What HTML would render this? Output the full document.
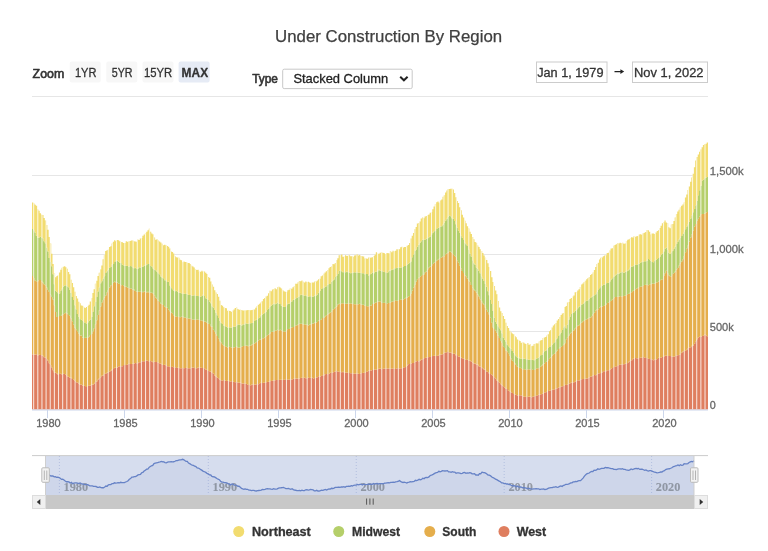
<!DOCTYPE html>
<html><head><meta charset="utf-8"><title>Under Construction By Region</title>
<style>svg text{stroke-width:0.3px;stroke-linejoin:round}html,body{margin:0;padding:0;background:#ffffff;width:768px;height:551px;overflow:hidden;position:relative;font-family:"Liberation Sans", sans-serif;}</style>
</head><body>
<svg width="768" height="551" viewBox="0 0 768 551" style="position:absolute;left:0;top:0;filter:blur(0.3px)">
<defs><clipPath id="cp"><path d="M32,202.43L33.28,202.43L33.28,203.59L34.57,203.59L34.57,204.65L35.85,204.65L35.85,205.79L37.13,205.79L37.13,209.41L38.41,209.41L38.41,210.76L39.7,210.76L39.7,213.17L40.98,213.17L40.98,214.65L42.26,214.65L42.26,215.06L43.54,215.06L43.54,217.97L44.83,217.97L44.83,220.55L46.11,220.55L46.11,225.03L47.39,225.03L47.39,229.77L48.68,229.77L48.68,236.98L49.96,236.98L49.96,243.57L51.24,243.57L51.24,253.72L52.52,253.72L52.52,263.89L53.81,263.89L53.81,273.41L55.09,273.41L55.09,277.28L56.37,277.28L56.37,275.96L57.65,275.96L57.65,274.98L58.94,274.98L58.94,272.46L60.22,272.46L60.22,269.85L61.5,269.85L61.5,267.65L62.79,267.65L62.79,266.87L64.07,266.87L64.07,266.37L65.35,266.37L65.35,267.2L66.63,267.2L66.63,268.76L67.92,268.76L67.92,271.89L69.2,271.89L69.2,274.33L70.48,274.33L70.48,279.66L71.76,279.66L71.76,283.02L73.05,283.02L73.05,287.21L74.33,287.21L74.33,291.64L75.61,291.64L75.61,295.95L76.9,295.95L76.9,298.52L78.18,298.52L78.18,301.7L79.46,301.7L79.46,303.21L80.74,303.21L80.74,305.41L82.03,305.41L82.03,305.7L83.31,305.7L83.31,307.28L84.59,307.28L84.59,307.88L85.87,307.88L85.87,307.04L87.16,307.04L87.16,306.09L88.44,306.09L88.44,304.63L89.72,304.63L89.72,301.57L91.01,301.57L91.01,297.88L92.29,297.88L92.29,293.06L93.57,293.06L93.57,289.15L94.85,289.15L94.85,283.78L96.14,283.78L96.14,280.84L97.42,280.84L97.42,276.03L98.7,276.03L98.7,272.64L99.98,272.64L99.98,269.42L101.27,269.42L101.27,265.53L102.55,265.53L102.55,259.27L103.83,259.27L103.83,255.27L105.12,255.27L105.12,251.08L106.4,251.08L106.4,250.29L107.68,250.29L107.68,249.86L108.96,249.86L108.96,246.96L110.25,246.96L110.25,246.31L111.53,246.31L111.53,243.52L112.81,243.52L112.81,241.79L114.09,241.79L114.09,240.29L115.38,240.29L115.38,241.17L116.66,241.17L116.66,239.93L117.94,239.93L117.94,240.25L119.23,240.25L119.23,241.26L120.51,241.26L120.51,242.12L121.79,242.12L121.79,242.3L123.07,242.3L123.07,243L124.36,243L124.36,243.09L125.64,243.09L125.64,241.27L126.92,241.27L126.92,241.65L128.2,241.65L128.2,241.53L129.49,241.53L129.49,240.88L130.77,240.88L130.77,240.59L132.05,240.59L132.05,240.4L133.34,240.4L133.34,241.33L134.62,241.33L134.62,241.6L135.9,241.6L135.9,241.72L137.18,241.72L137.18,239.55L138.47,239.55L138.47,239.88L139.75,239.88L139.75,238.48L141.03,238.48L141.03,237.88L142.31,237.88L142.31,235.84L143.6,235.84L143.6,234.52L144.88,234.52L144.88,233.2L146.16,233.2L146.16,231.73L147.45,231.73L147.45,230.15L148.73,230.15L148.73,228.84L150.01,228.84L150.01,231.65L151.29,231.65L151.29,233.41L152.58,233.41L152.58,234.56L153.86,234.56L153.86,237.49L155.14,237.49L155.14,239.65L156.43,239.65L156.43,239.31L157.71,239.31L157.71,240.46L158.99,240.46L158.99,241.62L160.27,241.62L160.27,242.39L161.56,242.39L161.56,243.86L162.84,243.86L162.84,245.17L164.12,245.17L164.12,244.67L165.4,244.67L165.4,245.32L166.69,245.32L166.69,246.03L167.97,246.03L167.97,246.83L169.25,246.83L169.25,248.44L170.54,248.44L170.54,251.49L171.82,251.49L171.82,252.11L173.1,252.11L173.1,253.49L174.38,253.49L174.38,256.3L175.67,256.3L175.67,257.35L176.95,257.35L176.95,257.51L178.23,257.51L178.23,257.73L179.51,257.73L179.51,259.74L180.8,259.74L180.8,260.3L182.08,260.3L182.08,262.47L183.36,262.47L183.36,261.45L184.65,261.45L184.65,262.03L185.93,262.03L185.93,262.02L187.21,262.02L187.21,263.08L188.49,263.08L188.49,262.98L189.78,262.98L189.78,264.11L191.06,264.11L191.06,265.7L192.34,265.7L192.34,266.41L193.62,266.41L193.62,267.62L194.91,267.62L194.91,269.22L196.19,269.22L196.19,270.03L197.47,270.03L197.47,269.7L198.76,269.7L198.76,271.77L200.04,271.77L200.04,271.75L201.32,271.75L201.32,270.68L202.6,270.68L202.6,271.72L203.89,271.72L203.89,271.5L205.17,271.5L205.17,272.86L206.45,272.86L206.45,274.09L207.73,274.09L207.73,276.89L209.02,276.89L209.02,277.68L210.3,277.68L210.3,281.53L211.58,281.53L211.58,284.57L212.87,284.57L212.87,286.85L214.15,286.85L214.15,290.29L215.43,290.29L215.43,292.41L216.71,292.41L216.71,294.04L218,294.04L218,296.86L219.28,296.86L219.28,300.77L220.56,300.77L220.56,304.93L221.84,304.93L221.84,305.71L223.13,305.71L223.13,307.35L224.41,307.35L224.41,308.08L225.69,308.08L225.69,308.2L226.98,308.2L226.98,310.66L228.26,310.66L228.26,310.83L229.54,310.83L229.54,310.98L230.82,310.98L230.82,311.65L232.11,311.65L232.11,310.63L233.39,310.63L233.39,309.49L234.67,309.49L234.67,308.09L235.95,308.09L235.95,307.52L237.24,307.52L237.24,308.94L238.52,308.94L238.52,309.65L239.8,309.65L239.8,309.69L241.09,309.69L241.09,309.92L242.37,309.92L242.37,310.44L243.65,310.44L243.65,310.39L244.93,310.39L244.93,310.45L246.22,310.45L246.22,310.14L247.5,310.14L247.5,309.98L248.78,309.98L248.78,310.11L250.06,310.11L250.06,310.24L251.35,310.24L251.35,310.01L252.63,310.01L252.63,309.68L253.91,309.68L253.91,309.49L255.2,309.49L255.2,307.67L256.48,307.67L256.48,306.23L257.76,306.23L257.76,304.79L259.04,304.79L259.04,303.76L260.33,303.76L260.33,302.38L261.61,302.38L261.61,301.34L262.89,301.34L262.89,299.12L264.17,299.12L264.17,298.08L265.46,298.08L265.46,296.39L266.74,296.39L266.74,295.74L268.02,295.74L268.02,293.28L269.31,293.28L269.31,290.63L270.59,290.63L270.59,291.22L271.87,291.22L271.87,289.61L273.15,289.61L273.15,288.9L274.44,288.9L274.44,288.17L275.72,288.17L275.72,289.15L277,289.15L277,287.29L278.28,287.29L278.28,286.82L279.57,286.82L279.57,287.43L280.85,287.43L280.85,288.53L282.13,288.53L282.13,289.92L283.42,289.92L283.42,291.34L284.7,291.34L284.7,291.86L285.98,291.86L285.98,292.19L287.26,292.19L287.26,290.28L288.55,290.28L288.55,289.66L289.83,289.66L289.83,288.09L291.11,288.09L291.11,288.67L292.39,288.67L292.39,287.33L293.68,287.33L293.68,286.37L294.96,286.37L294.96,283.85L296.24,283.85L296.24,283.77L297.53,283.77L297.53,282.37L298.81,282.37L298.81,280.89L300.09,280.89L300.09,281.32L301.37,281.32L301.37,280.57L302.66,280.57L302.66,281.63L303.94,281.63L303.94,282.49L305.22,282.49L305.22,281.6L306.5,281.6L306.5,281.98L307.79,281.98L307.79,281.7L309.07,281.7L309.07,282.58L310.35,282.58L310.35,283.06L311.64,283.06L311.64,282.6L312.92,282.6L312.92,282.59L314.2,282.59L314.2,281.48L315.48,281.48L315.48,281.47L316.77,281.47L316.77,280.49L318.05,280.49L318.05,279.22L319.33,279.22L319.33,278.65L320.61,278.65L320.61,276.3L321.9,276.3L321.9,275.41L323.18,275.41L323.18,273.79L324.46,273.79L324.46,272.44L325.75,272.44L325.75,271.29L327.03,271.29L327.03,269.89L328.31,269.89L328.31,268.15L329.59,268.15L329.59,266.97L330.88,266.97L330.88,266.62L332.16,266.62L332.16,264.01L333.44,264.01L333.44,264.17L334.72,264.17L334.72,263.04L336.01,263.04L336.01,260.2L337.29,260.2L337.29,258.26L338.57,258.26L338.57,255.15L339.86,255.15L339.86,255.12L341.14,255.12L341.14,254.59L342.42,254.59L342.42,256.79L343.7,256.79L343.7,256.73L344.99,256.73L344.99,255.28L346.27,255.28L346.27,256.02L347.55,256.02L347.55,255.78L348.83,255.78L348.83,255.33L350.12,255.33L350.12,256.37L351.4,256.37L351.4,256.33L352.68,256.33L352.68,256.73L353.97,256.73L353.97,255.39L355.25,255.39L355.25,255.36L356.53,255.36L356.53,254.21L357.81,254.21L357.81,255.48L359.1,255.48L359.1,254.93L360.38,254.93L360.38,256.1L361.66,256.1L361.66,256.3L362.94,256.3L362.94,256.47L364.23,256.47L364.23,258.41L365.51,258.41L365.51,258.42L366.79,258.42L366.79,258.77L368.08,258.77L368.08,257.44L369.36,257.44L369.36,257.83L370.64,257.83L370.64,257.43L371.92,257.43L371.92,257.23L373.21,257.23L373.21,256.11L374.49,256.11L374.49,254.71L375.77,254.71L375.77,252.29L377.06,252.29L377.06,253.69L378.34,253.69L378.34,253.67L379.62,253.67L379.62,252.75L380.9,252.75L380.9,252.61L382.19,252.61L382.19,252.71L383.47,252.71L383.47,253.12L384.75,253.12L384.75,253.98L386.03,253.98L386.03,253.26L387.32,253.26L387.32,253.09L388.6,253.09L388.6,253.39L389.88,253.39L389.88,251.08L391.17,251.08L391.17,252.17L392.45,252.17L392.45,250.63L393.73,250.63L393.73,251.5L395.01,251.5L395.01,250.78L396.3,250.78L396.3,249.15L397.58,249.15L397.58,249.49L398.86,249.49L398.86,249.25L400.14,249.25L400.14,247.29L401.43,247.29L401.43,246.8L402.71,246.8L402.71,247.5L403.99,247.5L403.99,246.89L405.28,246.89L405.28,246.98L406.56,246.98L406.56,245.67L407.84,245.67L407.84,245.01L409.12,245.01L409.12,242.95L410.41,242.95L410.41,238.62L411.69,238.62L411.69,235.68L412.97,235.68L412.97,233.02L414.25,233.02L414.25,229.15L415.54,229.15L415.54,227L416.82,227L416.82,223.54L418.1,223.54L418.1,223.03L419.39,223.03L419.39,221.39L420.67,221.39L420.67,218.58L421.95,218.58L421.95,217.48L423.23,217.48L423.23,218.16L424.52,218.16L424.52,216.53L425.8,216.53L425.8,216.08L427.08,216.08L427.08,215.08L428.36,215.08L428.36,214.38L429.65,214.38L429.65,212.64L430.93,212.64L430.93,211.99L432.21,211.99L432.21,209.14L433.5,209.14L433.5,206.41L434.78,206.41L434.78,204.27L436.06,204.27L436.06,202.29L437.34,202.29L437.34,201.54L438.63,201.54L438.63,202.71L439.91,202.71L439.91,200.47L441.19,200.47L441.19,199.48L442.47,199.48L442.47,196.66L443.76,196.66L443.76,195.34L445.04,195.34L445.04,192.57L446.32,192.57L446.32,190.44L447.61,190.44L447.61,189.07L448.89,189.07L448.89,189.11L450.17,189.11L450.17,188.7L451.45,188.7L451.45,188.83L452.74,188.83L452.74,189.58L454.02,189.58L454.02,193.1L455.3,193.1L455.3,197.17L456.58,197.17L456.58,201.09L457.87,201.09L457.87,203.08L459.15,203.08L459.15,207.19L460.43,207.19L460.43,210.27L461.72,210.27L461.72,214.81L463,214.81L463,217.53L464.28,217.53L464.28,220.68L465.56,220.68L465.56,223.19L466.85,223.19L466.85,226.34L468.13,226.34L468.13,228.55L469.41,228.55L469.41,231.74L470.69,231.74L470.69,234.11L471.98,234.11L471.98,236.89L473.26,236.89L473.26,239.32L474.54,239.32L474.54,241.98L475.83,241.98L475.83,242.64L477.11,242.64L477.11,245.53L478.39,245.53L478.39,247L479.67,247L479.67,249.23L480.96,249.23L480.96,251.05L482.24,251.05L482.24,253.01L483.52,253.01L483.52,255.57L484.8,255.57L484.8,257.7L486.09,257.7L486.09,260.1L487.37,260.1L487.37,263.21L488.65,263.21L488.65,267.09L489.94,267.09L489.94,271.06L491.22,271.06L491.22,277.13L492.5,277.13L492.5,281.93L493.78,281.93L493.78,286.07L495.07,286.07L495.07,290.56L496.35,290.56L496.35,294.24L497.63,294.24L497.63,301.05L498.91,301.05L498.91,307.38L500.2,307.38L500.2,311.23L501.48,311.23L501.48,313.07L502.76,313.07L502.76,315.88L504.05,315.88L504.05,318.97L505.33,318.97L505.33,322.67L506.61,322.67L506.61,326.12L507.89,326.12L507.89,328.12L509.18,328.12L509.18,330.74L510.46,330.74L510.46,332.18L511.74,332.18L511.74,333.46L513.02,333.46L513.02,334.26L514.31,334.26L514.31,336.04L515.59,336.04L515.59,337.3L516.87,337.3L516.87,339.53L518.16,339.53L518.16,340.35L519.44,340.35L519.44,340.93L520.72,340.93L520.72,342.78L522,342.78L522,342.1L523.29,342.1L523.29,342.74L524.57,342.74L524.57,343.85L525.85,343.85L525.85,343.98L527.13,343.98L527.13,342.98L528.42,342.98L528.42,344.74L529.7,344.74L529.7,344.29L530.98,344.29L530.98,346.13L532.27,346.13L532.27,345.79L533.55,345.79L533.55,343.91L534.83,343.91L534.83,343.73L536.11,343.73L536.11,343.21L537.4,343.21L537.4,343.47L538.68,343.47L538.68,341.45L539.96,341.45L539.96,340.61L541.24,340.61L541.24,340.08L542.53,340.08L542.53,338.02L543.81,338.02L543.81,337.45L545.09,337.45L545.09,337.07L546.38,337.07L546.38,335.39L547.66,335.39L547.66,334.3L548.94,334.3L548.94,331.22L550.22,331.22L550.22,329.99L551.51,329.99L551.51,327.53L552.79,327.53L552.79,325.53L554.07,325.53L554.07,324.24L555.35,324.24L555.35,322.94L556.64,322.94L556.64,320.38L557.92,320.38L557.92,318.97L559.2,318.97L559.2,317.11L560.49,317.11L560.49,314.91L561.77,314.91L561.77,313.62L563.05,313.62L563.05,312.91L564.33,312.91L564.33,307.07L565.62,307.07L565.62,305.88L566.9,305.88L566.9,302.44L568.18,302.44L568.18,302.01L569.46,302.01L569.46,298.88L570.75,298.88L570.75,297.96L572.03,297.96L572.03,296.87L573.31,296.87L573.31,295.5L574.6,295.5L574.6,292.3L575.88,292.3L575.88,292.16L577.16,292.16L577.16,290.58L578.44,290.58L578.44,289.25L579.73,289.25L579.73,287.12L581.01,287.12L581.01,284.38L582.29,284.38L582.29,283.62L583.57,283.62L583.57,282.04L584.86,282.04L584.86,280.73L586.14,280.73L586.14,279.33L587.42,279.33L587.42,278.08L588.71,278.08L588.71,277.03L589.99,277.03L589.99,275.1L591.27,275.1L591.27,273.88L592.55,273.88L592.55,272.5L593.84,272.5L593.84,269.94L595.12,269.94L595.12,267.05L596.4,267.05L596.4,264.09L597.69,264.09L597.69,262.8L598.97,262.8L598.97,259.56L600.25,259.56L600.25,257.86L601.53,257.86L601.53,257.39L602.82,257.39L602.82,256.25L604.1,256.25L604.1,255.44L605.38,255.44L605.38,255.24L606.66,255.24L606.66,253L607.95,253L607.95,252.72L609.23,252.72L609.23,250.46L610.51,250.46L610.51,248.52L611.8,248.52L611.8,248.29L613.08,248.29L613.08,245.82L614.36,245.82L614.36,245.05L615.64,245.05L615.64,244.28L616.93,244.28L616.93,243.16L618.21,243.16L618.21,243.59L619.49,243.59L619.49,242.72L620.77,242.72L620.77,243.18L622.06,243.18L622.06,242.86L623.34,242.86L623.34,243.69L624.62,243.69L624.62,243.62L625.91,243.62L625.91,240.95L627.19,240.95L627.19,239.83L628.47,239.83L628.47,239.37L629.75,239.37L629.75,238.44L631.04,238.44L631.04,237.22L632.32,237.22L632.32,237.45L633.6,237.45L633.6,235.92L634.88,235.92L634.88,236.64L636.17,236.64L636.17,236.29L637.45,236.29L637.45,236.03L638.73,236.03L638.73,234.46L640.02,234.46L640.02,234.26L641.3,234.26L641.3,234.72L642.58,234.72L642.58,233.35L643.86,233.35L643.86,232.65L645.15,232.65L645.15,232.01L646.43,232.01L646.43,230.06L647.71,230.06L647.71,230.26L648.99,230.26L648.99,231.81L650.28,231.81L650.28,234.6L651.56,234.6L651.56,233.39L652.84,233.39L652.84,233.4L654.13,233.4L654.13,234.1L655.41,234.1L655.41,232.49L656.69,232.49L656.69,231.1L657.97,231.1L657.97,230.14L659.26,230.14L659.26,228.12L660.54,228.12L660.54,225.67L661.82,225.67L661.82,223.2L663.1,223.2L663.1,222.17L664.39,222.17L664.39,220.41L665.67,220.41L665.67,222.5L666.95,222.5L666.95,223.23L668.24,223.23L668.24,227.34L669.52,227.34L669.52,228.33L670.8,228.33L670.8,224.4L672.08,224.4L672.08,223.88L673.37,223.88L673.37,220.92L674.65,220.92L674.65,217.49L675.93,217.49L675.93,213.97L677.21,213.97L677.21,211.54L678.5,211.54L678.5,209.66L679.78,209.66L679.78,207.48L681.06,207.48L681.06,205.84L682.35,205.84L682.35,204.46L683.63,204.46L683.63,202.41L684.91,202.41L684.91,197.62L686.19,197.62L686.19,194.58L687.48,194.58L687.48,190L688.76,190L688.76,186.58L690.04,186.58L690.04,181.64L691.32,181.64L691.32,177.59L692.61,177.59L692.61,173.69L693.89,173.69L693.89,167.29L695.17,167.29L695.17,160.4L696.46,160.4L696.46,157.04L697.74,157.04L697.74,154.62L699.02,154.62L699.02,151.78L700.3,151.78L700.3,149.58L701.59,149.58L701.59,147.18L702.87,147.18L702.87,144.92L704.15,144.92L704.15,144.31L705.43,144.31L705.43,143.77L706.72,143.77L706.72,142.58L708,142.58L708,409.5 L32,409.5 Z"/></clipPath></defs>
<text x="388.6" y="42" text-anchor="middle" font-family='"Liberation Sans", sans-serif' font-size="16.5" fill="#404040" stroke="#404040" style="stroke-width:0.25px" textLength="227" lengthAdjust="spacingAndGlyphs">Under Construction By Region</text>
<text x="32.6" y="77.5" font-family='"Liberation Sans", sans-serif' font-size="12" fill="#333333" stroke="#333333" style="stroke-width:0.6px" textLength="31.6" lengthAdjust="spacingAndGlyphs">Zoom</text>
<rect x="69.7" y="61.6" width="31" height="21" rx="2" fill="#f7f7f7"/>
<text x="74.9" y="77.3" font-family='"Liberation Sans", sans-serif' font-size="12" fill="#333333" stroke="#333333"  textLength="21.5" lengthAdjust="spacingAndGlyphs">1YR</text>
<rect x="106.25" y="61.6" width="31" height="21" rx="2" fill="#f7f7f7"/>
<text x="111.7" y="77.3" font-family='"Liberation Sans", sans-serif' font-size="12" fill="#333333" stroke="#333333"  textLength="20.8" lengthAdjust="spacingAndGlyphs">5YR</text>
<rect x="142.5" y="61.6" width="31" height="21" rx="2" fill="#f7f7f7"/>
<text x="144" y="77.3" font-family='"Liberation Sans", sans-serif' font-size="12" fill="#333333" stroke="#333333"  textLength="28.2" lengthAdjust="spacingAndGlyphs">15YR</text>
<rect x="178.6" y="61.6" width="31" height="21" rx="2" fill="#e6ebf5"/>
<text x="181.6" y="77.3" font-family='"Liberation Sans", sans-serif' font-size="12" fill="#333333" stroke="#333333" font-weight="bold" textLength="26.5" lengthAdjust="spacingAndGlyphs">MAX</text>
<text x="252.2" y="83.4" font-family='"Liberation Sans", sans-serif' font-size="12" fill="#333333" stroke="#333333" style="stroke-width:0.6px" textLength="25.8" lengthAdjust="spacingAndGlyphs">Type</text>
<rect x="282.7" y="69.2" width="129.5" height="19.4" rx="1.5" fill="#ffffff" stroke="#c8c8c8" stroke-width="1"/>
<text x="293.4" y="83.4" font-family='"Liberation Sans", sans-serif' font-size="13" fill="#222222" stroke="#222222" textLength="94.7" lengthAdjust="spacingAndGlyphs">Stacked Column</text>
<path d="M400.2,76.8 L403.9,80.3 L407.6,76.8" fill="none" stroke="#222222" stroke-width="2"/>
<rect x="536.5" y="62" width="70.5" height="20.5" fill="#ffffff" stroke="#cccccc" stroke-width="1"/>
<text x="537.2" y="76.8" font-family='"Liberation Sans", sans-serif' font-size="12.5" fill="#333333" stroke="#333333" textLength="66.3" lengthAdjust="spacingAndGlyphs">Jan 1, 1979</text>
<path d="M614.5,70.9 H621 V72.3 H614.5 Z M620.4,69.2 L624.2,71.6 L620.4,74 Z" fill="#222222"/>
<rect x="632.5" y="62" width="75" height="20.5" fill="#ffffff" stroke="#cccccc" stroke-width="1"/>
<text x="634" y="76.8" font-family='"Liberation Sans", sans-serif' font-size="12.5" fill="#333333" stroke="#333333" textLength="69.5" lengthAdjust="spacingAndGlyphs">Nov 1, 2022</text>
<path d="M32,96.5 H708" stroke="#e6e6e6" stroke-width="1"/>
<path d="M32,175.5 H708" stroke="#e6e6e6" stroke-width="1"/>
<path d="M32,254.5 H708" stroke="#e6e6e6" stroke-width="1"/>
<path d="M32,331.5 H708" stroke="#e6e6e6" stroke-width="1"/>
<path d="M32,354.26L33.28,354.26L33.28,354.47L34.57,354.47L34.57,354.74L35.85,354.74L35.85,354.36L37.13,354.36L37.13,355.41L38.41,355.41L38.41,354.74L39.7,354.74L39.7,354.93L40.98,354.93L40.98,355.33L42.26,355.33L42.26,355.8L43.54,355.8L43.54,357.26L44.83,357.26L44.83,357.54L46.11,357.54L46.11,358.95L47.39,358.95L47.39,360.78L48.68,360.78L48.68,363.29L49.96,363.29L49.96,365.02L51.24,365.02L51.24,367.6L52.52,367.6L52.52,370.2L53.81,370.2L53.81,372.51L55.09,372.51L55.09,372.76L56.37,372.76L56.37,373.54L57.65,373.54L57.65,374.72L58.94,374.72L58.94,373.96L60.22,373.96L60.22,373.85L61.5,373.85L61.5,374.52L62.79,374.52L62.79,373.84L64.07,373.84L64.07,374.12L65.35,374.12L65.35,374.99L66.63,374.99L66.63,376.18L67.92,376.18L67.92,376.86L69.2,376.86L69.2,377.86L70.48,377.86L70.48,377.87L71.76,377.87L71.76,378.94L73.05,378.94L73.05,379.72L74.33,379.72L74.33,380.96L75.61,380.96L75.61,382.17L76.9,382.17L76.9,382.55L78.18,382.55L78.18,383.54L79.46,383.54L79.46,384.77L80.74,384.77L80.74,384.44L82.03,384.44L82.03,385.52L83.31,385.52L83.31,385.81L84.59,385.81L84.59,385.92L85.87,385.92L85.87,386.9L87.16,386.9L87.16,386.09L88.44,386.09L88.44,385.72L89.72,385.72L89.72,385.5L91.01,385.5L91.01,384.53L92.29,384.53L92.29,384.75L93.57,384.75L93.57,383.73L94.85,383.73L94.85,382.03L96.14,382.03L96.14,381.42L97.42,381.42L97.42,379.7L98.7,379.7L98.7,378.36L99.98,378.36L99.98,377.32L101.27,377.32L101.27,375.79L102.55,375.79L102.55,375.47L103.83,375.47L103.83,373.95L105.12,373.95L105.12,373.76L106.4,373.76L106.4,372.73L107.68,372.73L107.68,372.13L108.96,372.13L108.96,371.72L110.25,371.72L110.25,370.84L111.53,370.84L111.53,369.51L112.81,369.51L112.81,368.88L114.09,368.88L114.09,367.8L115.38,367.8L115.38,367.82L116.66,367.82L116.66,367.49L117.94,367.49L117.94,366.44L119.23,366.44L119.23,366.31L120.51,366.31L120.51,366.27L121.79,366.27L121.79,366.18L123.07,366.18L123.07,365.02L124.36,365.02L124.36,364.88L125.64,364.88L125.64,365.06L126.92,365.06L126.92,364.46L128.2,364.46L128.2,363.8L129.49,363.8L129.49,363.96L130.77,363.96L130.77,364.12L132.05,364.12L132.05,363.65L133.34,363.65L133.34,363.75L134.62,363.75L134.62,363.12L135.9,363.12L135.9,363.14L137.18,363.14L137.18,363.35L138.47,363.35L138.47,362.26L139.75,362.26L139.75,362.31L141.03,362.31L141.03,361.62L142.31,361.62L142.31,361.15L143.6,361.15L143.6,361.15L144.88,361.15L144.88,360.81L146.16,360.81L146.16,360.5L147.45,360.5L147.45,361.02L148.73,361.02L148.73,361.51L150.01,361.51L150.01,360.91L151.29,360.91L151.29,361.49L152.58,361.49L152.58,362.16L153.86,362.16L153.86,361.66L155.14,361.66L155.14,362.05L156.43,362.05L156.43,362.05L157.71,362.05L157.71,362.82L158.99,362.82L158.99,363.25L160.27,363.25L160.27,363.8L161.56,363.8L161.56,364.45L162.84,364.45L162.84,364.94L164.12,364.94L164.12,364.69L165.4,364.69L165.4,365.14L166.69,365.14L166.69,366.17L167.97,366.17L167.97,366.18L169.25,366.18L169.25,366.9L170.54,366.9L170.54,366.9L171.82,366.9L171.82,366.75L173.1,366.75L173.1,367.27L174.38,367.27L174.38,367.06L175.67,367.06L175.67,367.97L176.95,367.97L176.95,367.66L178.23,367.66L178.23,367.87L179.51,367.87L179.51,368.2L180.8,368.2L180.8,368.24L182.08,368.24L182.08,368.01L183.36,368.01L183.36,368.2L184.65,368.2L184.65,368.1L185.93,368.1L185.93,367.76L187.21,367.76L187.21,368.31L188.49,368.31L188.49,368.19L189.78,368.19L189.78,368.21L191.06,368.21L191.06,367.44L192.34,367.44L192.34,367.61L193.62,367.61L193.62,367.99L194.91,367.99L194.91,368.28L196.19,368.28L196.19,368.21L197.47,368.21L197.47,367.43L198.76,367.43L198.76,367.5L200.04,367.5L200.04,367.62L201.32,367.62L201.32,368.02L202.6,368.02L202.6,368.01L203.89,368.01L203.89,368.28L205.17,368.28L205.17,369.43L206.45,369.43L206.45,370.05L207.73,370.05L207.73,370.89L209.02,370.89L209.02,371.23L210.3,371.23L210.3,371.8L211.58,371.8L211.58,373.1L212.87,373.1L212.87,373.48L214.15,373.48L214.15,375.54L215.43,375.54L215.43,376.45L216.71,376.45L216.71,377.49L218,377.49L218,378.25L219.28,378.25L219.28,379.65L220.56,379.65L220.56,380.22L221.84,380.22L221.84,380.82L223.13,380.82L223.13,380.12L224.41,380.12L224.41,380.55L225.69,380.55L225.69,380.96L226.98,380.96L226.98,380.8L228.26,380.8L228.26,380.78L229.54,380.78L229.54,381.52L230.82,381.52L230.82,381.14L232.11,381.14L232.11,381.59L233.39,381.59L233.39,382.12L234.67,382.12L234.67,382.35L235.95,382.35L235.95,382.12L237.24,382.12L237.24,382.51L238.52,382.51L238.52,382.78L239.8,382.78L239.8,382.42L241.09,382.42L241.09,383.17L242.37,383.17L242.37,383.67L243.65,383.67L243.65,383.26L244.93,383.26L244.93,383.74L246.22,383.74L246.22,384.11L247.5,384.11L247.5,384.95L248.78,384.95L248.78,385.12L250.06,385.12L250.06,385.37L251.35,385.37L251.35,384.62L252.63,384.62L252.63,384.26L253.91,384.26L253.91,384.72L255.2,384.72L255.2,384.58L256.48,384.58L256.48,384.06L257.76,384.06L257.76,384.14L259.04,384.14L259.04,383.16L260.33,383.16L260.33,382.84L261.61,382.84L261.61,383.09L262.89,383.09L262.89,382.64L264.17,382.64L264.17,382.76L265.46,382.76L265.46,382.2L266.74,382.2L266.74,381.98L268.02,381.98L268.02,381.67L269.31,381.67L269.31,381.18L270.59,381.18L270.59,380.95L271.87,380.95L271.87,380.77L273.15,380.77L273.15,380.56L274.44,380.56L274.44,380.26L275.72,380.26L275.72,380.08L277,380.08L277,379.92L278.28,379.92L278.28,379.99L279.57,379.99L279.57,379.81L280.85,379.81L280.85,379.81L282.13,379.81L282.13,379.7L283.42,379.7L283.42,379.92L284.7,379.92L284.7,379.36L285.98,379.36L285.98,379.77L287.26,379.77L287.26,379.84L288.55,379.84L288.55,379.49L289.83,379.49L289.83,379.21L291.11,379.21L291.11,379.83L292.39,379.83L292.39,379L293.68,379L293.68,378.52L294.96,378.52L294.96,378.38L296.24,378.38L296.24,378.56L297.53,378.56L297.53,378.71L298.81,378.71L298.81,378.55L300.09,378.55L300.09,378.04L301.37,378.04L301.37,377.81L302.66,377.81L302.66,377.97L303.94,377.97L303.94,377.61L305.22,377.61L305.22,378.33L306.5,378.33L306.5,378.21L307.79,378.21L307.79,377.51L309.07,377.51L309.07,378.12L310.35,378.12L310.35,377.8L311.64,377.8L311.64,377.76L312.92,377.76L312.92,378.45L314.2,378.45L314.2,378.07L315.48,378.07L315.48,377.54L316.77,377.54L316.77,377.31L318.05,377.31L318.05,376.25L319.33,376.25L319.33,376.63L320.61,376.63L320.61,376.09L321.9,376.09L321.9,375.35L323.18,375.35L323.18,375.54L324.46,375.54L324.46,374.19L325.75,374.19L325.75,373.89L327.03,373.89L327.03,374.22L328.31,374.22L328.31,373.92L329.59,373.92L329.59,372.77L330.88,372.77L330.88,372.96L332.16,372.96L332.16,372.49L333.44,372.49L333.44,372.05L334.72,372.05L334.72,371.45L336.01,371.45L336.01,370.91L337.29,370.91L337.29,371.51L338.57,371.51L338.57,371.95L339.86,371.95L339.86,371.6L341.14,371.6L341.14,372.32L342.42,372.32L342.42,371.7L343.7,371.7L343.7,372.51L344.99,372.51L344.99,372.41L346.27,372.41L346.27,372.41L347.55,372.41L347.55,372.96L348.83,372.96L348.83,373.1L350.12,373.1L350.12,373.28L351.4,373.28L351.4,373.15L352.68,373.15L352.68,373.52L353.97,373.52L353.97,373.67L355.25,373.67L355.25,373.48L356.53,373.48L356.53,373.42L357.81,373.42L357.81,373.79L359.1,373.79L359.1,373.9L360.38,373.9L360.38,373.35L361.66,373.35L361.66,373L362.94,373L362.94,372.77L364.23,372.77L364.23,372.9L365.51,372.9L365.51,371.93L366.79,371.93L366.79,371.59L368.08,371.59L368.08,370.67L369.36,370.67L369.36,370.31L370.64,370.31L370.64,370.48L371.92,370.48L371.92,369.95L373.21,369.95L373.21,369.51L374.49,369.51L374.49,369.52L375.77,369.52L375.77,369.78L377.06,369.78L377.06,369.2L378.34,369.2L378.34,368.77L379.62,368.77L379.62,368.45L380.9,368.45L380.9,369.15L382.19,369.15L382.19,368.95L383.47,368.95L383.47,368.47L384.75,368.47L384.75,368.43L386.03,368.43L386.03,368.62L387.32,368.62L387.32,368.48L388.6,368.48L388.6,368.53L389.88,368.53L389.88,368.69L391.17,368.69L391.17,368.85L392.45,368.85L392.45,368.34L393.73,368.34L393.73,368.49L395.01,368.49L395.01,369.05L396.3,369.05L396.3,368.31L397.58,368.31L397.58,368.34L398.86,368.34L398.86,368.42L400.14,368.42L400.14,368.18L401.43,368.18L401.43,368.13L402.71,368.13L402.71,367.65L403.99,367.65L403.99,367.3L405.28,367.3L405.28,366.89L406.56,366.89L406.56,365.8L407.84,365.8L407.84,364.34L409.12,364.34L409.12,364.1L410.41,364.1L410.41,363.93L411.69,363.93L411.69,363.02L412.97,363.02L412.97,363.02L414.25,363.02L414.25,362L415.54,362L415.54,361.59L416.82,361.59L416.82,361.01L418.1,361.01L418.1,361.4L419.39,361.4L419.39,360.87L420.67,360.87L420.67,359.38L421.95,359.38L421.95,359.19L423.23,359.19L423.23,358.29L424.52,358.29L424.52,357.94L425.8,357.94L425.8,357.62L427.08,357.62L427.08,357.6L428.36,357.6L428.36,357L429.65,357L429.65,357.02L430.93,357.02L430.93,356.36L432.21,356.36L432.21,355.99L433.5,355.99L433.5,355.74L434.78,355.74L434.78,355.7L436.06,355.7L436.06,356.06L437.34,356.06L437.34,355.69L438.63,355.69L438.63,354.74L439.91,354.74L439.91,354.82L441.19,354.82L441.19,354.6L442.47,354.6L442.47,354.12L443.76,354.12L443.76,352.84L445.04,352.84L445.04,352.83L446.32,352.83L446.32,351.9L447.61,351.9L447.61,351.9L448.89,351.9L448.89,352.73L450.17,352.73L450.17,352.61L451.45,352.61L451.45,353.31L452.74,353.31L452.74,353.64L454.02,353.64L454.02,353.81L455.3,353.81L455.3,355.2L456.58,355.2L456.58,355L457.87,355L457.87,356.42L459.15,356.42L459.15,356.75L460.43,356.75L460.43,357.42L461.72,357.42L461.72,358.27L463,358.27L463,358.7L464.28,358.7L464.28,359.04L465.56,359.04L465.56,360.02L466.85,360.02L466.85,359.81L468.13,359.81L468.13,360.76L469.41,360.76L469.41,360.62L470.69,360.62L470.69,361.43L471.98,361.43L471.98,362.42L473.26,362.42L473.26,363.39L474.54,363.39L474.54,363.5L475.83,363.5L475.83,364.61L477.11,364.61L477.11,364.51L478.39,364.51L478.39,366.17L479.67,366.17L479.67,366.72L480.96,366.72L480.96,367.29L482.24,367.29L482.24,368.3L483.52,368.3L483.52,369.58L484.8,369.58L484.8,369.78L486.09,369.78L486.09,371.49L487.37,371.49L487.37,372.08L488.65,372.08L488.65,373.41L489.94,373.41L489.94,374.06L491.22,374.06L491.22,374.86L492.5,374.86L492.5,376.01L493.78,376.01L493.78,377.34L495.07,377.34L495.07,378.71L496.35,378.71L496.35,380.46L497.63,380.46L497.63,381.36L498.91,381.36L498.91,382.87L500.2,382.87L500.2,384.36L501.48,384.36L501.48,385.27L502.76,385.27L502.76,386.26L504.05,386.26L504.05,387.43L505.33,387.43L505.33,388.74L506.61,388.74L506.61,389L507.89,389L507.89,390.85L509.18,390.85L509.18,391.25L510.46,391.25L510.46,392.37L511.74,392.37L511.74,393.04L513.02,393.04L513.02,393.97L514.31,393.97L514.31,394.31L515.59,394.31L515.59,395.11L516.87,395.11L516.87,395.4L518.16,395.4L518.16,395.28L519.44,395.28L519.44,395.31L520.72,395.31L520.72,395.56L522,395.56L522,395.89L523.29,395.89L523.29,396.65L524.57,396.65L524.57,396.63L525.85,396.63L525.85,396.96L527.13,396.96L527.13,396.95L528.42,396.95L528.42,396.47L529.7,396.47L529.7,396.79L530.98,396.79L530.98,397.16L532.27,397.16L532.27,396.65L533.55,396.65L533.55,396.34L534.83,396.34L534.83,396.12L536.11,396.12L536.11,395.74L537.4,395.74L537.4,394.88L538.68,394.88L538.68,394.42L539.96,394.42L539.96,394.54L541.24,394.54L541.24,393.95L542.53,393.95L542.53,393.46L543.81,393.46L543.81,392.7L545.09,392.7L545.09,392.32L546.38,392.32L546.38,391.64L547.66,391.64L547.66,391.06L548.94,391.06L548.94,390.69L550.22,390.69L550.22,390.26L551.51,390.26L551.51,389.69L552.79,389.69L552.79,389.66L554.07,389.66L554.07,389.16L555.35,389.16L555.35,388.57L556.64,388.57L556.64,388.27L557.92,388.27L557.92,387.49L559.2,387.49L559.2,387.14L560.49,387.14L560.49,386.73L561.77,386.73L561.77,386.13L563.05,386.13L563.05,385.91L564.33,385.91L564.33,384.82L565.62,384.82L565.62,385.06L566.9,385.06L566.9,384.53L568.18,384.53L568.18,384.12L569.46,384.12L569.46,383.23L570.75,383.23L570.75,382.57L572.03,382.57L572.03,382.6L573.31,382.6L573.31,382.18L574.6,382.18L574.6,381.65L575.88,381.65L575.88,380.51L577.16,380.51L577.16,380.24L578.44,380.24L578.44,380.39L579.73,380.39L579.73,379.63L581.01,379.63L581.01,379.27L582.29,379.27L582.29,379.06L583.57,379.06L583.57,378.98L584.86,378.98L584.86,378.72L586.14,378.72L586.14,378.61L587.42,378.61L587.42,378.32L588.71,378.32L588.71,377.27L589.99,377.27L589.99,376.84L591.27,376.84L591.27,376.37L592.55,376.37L592.55,375.56L593.84,375.56L593.84,375.06L595.12,375.06L595.12,375.16L596.4,375.16L596.4,374.13L597.69,374.13L597.69,373.58L598.97,373.58L598.97,373.26L600.25,373.26L600.25,372.94L601.53,372.94L601.53,372.43L602.82,372.43L602.82,371.28L604.1,371.28L604.1,371.13L605.38,371.13L605.38,371.22L606.66,371.22L606.66,370.37L607.95,370.37L607.95,370.13L609.23,370.13L609.23,369.81L610.51,369.81L610.51,368.87L611.8,368.87L611.8,367.93L613.08,367.93L613.08,367.1L614.36,367.1L614.36,366.99L615.64,366.99L615.64,366.3L616.93,366.3L616.93,366.09L618.21,366.09L618.21,365.05L619.49,365.05L619.49,364.74L620.77,364.74L620.77,364.51L622.06,364.51L622.06,364.2L623.34,364.2L623.34,364.27L624.62,364.27L624.62,363.85L625.91,363.85L625.91,363.44L627.19,363.44L627.19,362.88L628.47,362.88L628.47,361.58L629.75,361.58L629.75,360.73L631.04,360.73L631.04,360.2L632.32,360.2L632.32,358.64L633.6,358.64L633.6,358.8L634.88,358.8L634.88,358.08L636.17,358.08L636.17,358.17L637.45,358.17L637.45,358.62L638.73,358.62L638.73,357.91L640.02,357.91L640.02,357.72L641.3,357.72L641.3,357.63L642.58,357.63L642.58,357.1L643.86,357.1L643.86,357.47L645.15,357.47L645.15,358.06L646.43,358.06L646.43,357.9L647.71,357.9L647.71,358.81L648.99,358.81L648.99,358.9L650.28,358.9L650.28,359.17L651.56,359.17L651.56,359.23L652.84,359.23L652.84,360.29L654.13,360.29L654.13,359.36L655.41,359.36L655.41,359.48L656.69,359.48L656.69,359.01L657.97,359.01L657.97,357.84L659.26,357.84L659.26,358.01L660.54,358.01L660.54,357.51L661.82,357.51L661.82,357.09L663.1,357.09L663.1,356.68L664.39,356.68L664.39,355.84L665.67,355.84L665.67,355.8L666.95,355.8L666.95,355.99L668.24,355.99L668.24,355.89L669.52,355.89L669.52,356.04L670.8,356.04L670.8,356.21L672.08,356.21L672.08,356.78L673.37,356.78L673.37,356.79L674.65,356.79L674.65,355.89L675.93,355.89L675.93,355.47L677.21,355.47L677.21,355.35L678.5,355.35L678.5,354.92L679.78,354.92L679.78,354.2L681.06,354.2L681.06,352.63L682.35,352.63L682.35,351.57L683.63,351.57L683.63,351.09L684.91,351.09L684.91,350.71L686.19,350.71L686.19,349.7L687.48,349.7L687.48,348.12L688.76,348.12L688.76,347.57L690.04,347.57L690.04,347.18L691.32,347.18L691.32,345.72L692.61,345.72L692.61,345.43L693.89,345.43L693.89,343.64L695.17,343.64L695.17,341.32L696.46,341.32L696.46,339.35L697.74,339.35L697.74,337.47L699.02,337.47L699.02,336.81L700.3,336.81L700.3,336.9L701.59,336.9L701.59,336.12L702.87,336.12L702.87,335.66L704.15,335.66L704.15,334.57L705.43,334.57L705.43,335.18L706.72,335.18L706.72,336.31L708,336.31L708,409.5L706.72,409.5L706.72,409.5L705.43,409.5L705.43,409.5L704.15,409.5L704.15,409.5L702.87,409.5L702.87,409.5L701.59,409.5L701.59,409.5L700.3,409.5L700.3,409.5L699.02,409.5L699.02,409.5L697.74,409.5L697.74,409.5L696.46,409.5L696.46,409.5L695.17,409.5L695.17,409.5L693.89,409.5L693.89,409.5L692.61,409.5L692.61,409.5L691.32,409.5L691.32,409.5L690.04,409.5L690.04,409.5L688.76,409.5L688.76,409.5L687.48,409.5L687.48,409.5L686.19,409.5L686.19,409.5L684.91,409.5L684.91,409.5L683.63,409.5L683.63,409.5L682.35,409.5L682.35,409.5L681.06,409.5L681.06,409.5L679.78,409.5L679.78,409.5L678.5,409.5L678.5,409.5L677.21,409.5L677.21,409.5L675.93,409.5L675.93,409.5L674.65,409.5L674.65,409.5L673.37,409.5L673.37,409.5L672.08,409.5L672.08,409.5L670.8,409.5L670.8,409.5L669.52,409.5L669.52,409.5L668.24,409.5L668.24,409.5L666.95,409.5L666.95,409.5L665.67,409.5L665.67,409.5L664.39,409.5L664.39,409.5L663.1,409.5L663.1,409.5L661.82,409.5L661.82,409.5L660.54,409.5L660.54,409.5L659.26,409.5L659.26,409.5L657.97,409.5L657.97,409.5L656.69,409.5L656.69,409.5L655.41,409.5L655.41,409.5L654.13,409.5L654.13,409.5L652.84,409.5L652.84,409.5L651.56,409.5L651.56,409.5L650.28,409.5L650.28,409.5L648.99,409.5L648.99,409.5L647.71,409.5L647.71,409.5L646.43,409.5L646.43,409.5L645.15,409.5L645.15,409.5L643.86,409.5L643.86,409.5L642.58,409.5L642.58,409.5L641.3,409.5L641.3,409.5L640.02,409.5L640.02,409.5L638.73,409.5L638.73,409.5L637.45,409.5L637.45,409.5L636.17,409.5L636.17,409.5L634.88,409.5L634.88,409.5L633.6,409.5L633.6,409.5L632.32,409.5L632.32,409.5L631.04,409.5L631.04,409.5L629.75,409.5L629.75,409.5L628.47,409.5L628.47,409.5L627.19,409.5L627.19,409.5L625.91,409.5L625.91,409.5L624.62,409.5L624.62,409.5L623.34,409.5L623.34,409.5L622.06,409.5L622.06,409.5L620.77,409.5L620.77,409.5L619.49,409.5L619.49,409.5L618.21,409.5L618.21,409.5L616.93,409.5L616.93,409.5L615.64,409.5L615.64,409.5L614.36,409.5L614.36,409.5L613.08,409.5L613.08,409.5L611.8,409.5L611.8,409.5L610.51,409.5L610.51,409.5L609.23,409.5L609.23,409.5L607.95,409.5L607.95,409.5L606.66,409.5L606.66,409.5L605.38,409.5L605.38,409.5L604.1,409.5L604.1,409.5L602.82,409.5L602.82,409.5L601.53,409.5L601.53,409.5L600.25,409.5L600.25,409.5L598.97,409.5L598.97,409.5L597.69,409.5L597.69,409.5L596.4,409.5L596.4,409.5L595.12,409.5L595.12,409.5L593.84,409.5L593.84,409.5L592.55,409.5L592.55,409.5L591.27,409.5L591.27,409.5L589.99,409.5L589.99,409.5L588.71,409.5L588.71,409.5L587.42,409.5L587.42,409.5L586.14,409.5L586.14,409.5L584.86,409.5L584.86,409.5L583.57,409.5L583.57,409.5L582.29,409.5L582.29,409.5L581.01,409.5L581.01,409.5L579.73,409.5L579.73,409.5L578.44,409.5L578.44,409.5L577.16,409.5L577.16,409.5L575.88,409.5L575.88,409.5L574.6,409.5L574.6,409.5L573.31,409.5L573.31,409.5L572.03,409.5L572.03,409.5L570.75,409.5L570.75,409.5L569.46,409.5L569.46,409.5L568.18,409.5L568.18,409.5L566.9,409.5L566.9,409.5L565.62,409.5L565.62,409.5L564.33,409.5L564.33,409.5L563.05,409.5L563.05,409.5L561.77,409.5L561.77,409.5L560.49,409.5L560.49,409.5L559.2,409.5L559.2,409.5L557.92,409.5L557.92,409.5L556.64,409.5L556.64,409.5L555.35,409.5L555.35,409.5L554.07,409.5L554.07,409.5L552.79,409.5L552.79,409.5L551.51,409.5L551.51,409.5L550.22,409.5L550.22,409.5L548.94,409.5L548.94,409.5L547.66,409.5L547.66,409.5L546.38,409.5L546.38,409.5L545.09,409.5L545.09,409.5L543.81,409.5L543.81,409.5L542.53,409.5L542.53,409.5L541.24,409.5L541.24,409.5L539.96,409.5L539.96,409.5L538.68,409.5L538.68,409.5L537.4,409.5L537.4,409.5L536.11,409.5L536.11,409.5L534.83,409.5L534.83,409.5L533.55,409.5L533.55,409.5L532.27,409.5L532.27,409.5L530.98,409.5L530.98,409.5L529.7,409.5L529.7,409.5L528.42,409.5L528.42,409.5L527.13,409.5L527.13,409.5L525.85,409.5L525.85,409.5L524.57,409.5L524.57,409.5L523.29,409.5L523.29,409.5L522,409.5L522,409.5L520.72,409.5L520.72,409.5L519.44,409.5L519.44,409.5L518.16,409.5L518.16,409.5L516.87,409.5L516.87,409.5L515.59,409.5L515.59,409.5L514.31,409.5L514.31,409.5L513.02,409.5L513.02,409.5L511.74,409.5L511.74,409.5L510.46,409.5L510.46,409.5L509.18,409.5L509.18,409.5L507.89,409.5L507.89,409.5L506.61,409.5L506.61,409.5L505.33,409.5L505.33,409.5L504.05,409.5L504.05,409.5L502.76,409.5L502.76,409.5L501.48,409.5L501.48,409.5L500.2,409.5L500.2,409.5L498.91,409.5L498.91,409.5L497.63,409.5L497.63,409.5L496.35,409.5L496.35,409.5L495.07,409.5L495.07,409.5L493.78,409.5L493.78,409.5L492.5,409.5L492.5,409.5L491.22,409.5L491.22,409.5L489.94,409.5L489.94,409.5L488.65,409.5L488.65,409.5L487.37,409.5L487.37,409.5L486.09,409.5L486.09,409.5L484.8,409.5L484.8,409.5L483.52,409.5L483.52,409.5L482.24,409.5L482.24,409.5L480.96,409.5L480.96,409.5L479.67,409.5L479.67,409.5L478.39,409.5L478.39,409.5L477.11,409.5L477.11,409.5L475.83,409.5L475.83,409.5L474.54,409.5L474.54,409.5L473.26,409.5L473.26,409.5L471.98,409.5L471.98,409.5L470.69,409.5L470.69,409.5L469.41,409.5L469.41,409.5L468.13,409.5L468.13,409.5L466.85,409.5L466.85,409.5L465.56,409.5L465.56,409.5L464.28,409.5L464.28,409.5L463,409.5L463,409.5L461.72,409.5L461.72,409.5L460.43,409.5L460.43,409.5L459.15,409.5L459.15,409.5L457.87,409.5L457.87,409.5L456.58,409.5L456.58,409.5L455.3,409.5L455.3,409.5L454.02,409.5L454.02,409.5L452.74,409.5L452.74,409.5L451.45,409.5L451.45,409.5L450.17,409.5L450.17,409.5L448.89,409.5L448.89,409.5L447.61,409.5L447.61,409.5L446.32,409.5L446.32,409.5L445.04,409.5L445.04,409.5L443.76,409.5L443.76,409.5L442.47,409.5L442.47,409.5L441.19,409.5L441.19,409.5L439.91,409.5L439.91,409.5L438.63,409.5L438.63,409.5L437.34,409.5L437.34,409.5L436.06,409.5L436.06,409.5L434.78,409.5L434.78,409.5L433.5,409.5L433.5,409.5L432.21,409.5L432.21,409.5L430.93,409.5L430.93,409.5L429.65,409.5L429.65,409.5L428.36,409.5L428.36,409.5L427.08,409.5L427.08,409.5L425.8,409.5L425.8,409.5L424.52,409.5L424.52,409.5L423.23,409.5L423.23,409.5L421.95,409.5L421.95,409.5L420.67,409.5L420.67,409.5L419.39,409.5L419.39,409.5L418.1,409.5L418.1,409.5L416.82,409.5L416.82,409.5L415.54,409.5L415.54,409.5L414.25,409.5L414.25,409.5L412.97,409.5L412.97,409.5L411.69,409.5L411.69,409.5L410.41,409.5L410.41,409.5L409.12,409.5L409.12,409.5L407.84,409.5L407.84,409.5L406.56,409.5L406.56,409.5L405.28,409.5L405.28,409.5L403.99,409.5L403.99,409.5L402.71,409.5L402.71,409.5L401.43,409.5L401.43,409.5L400.14,409.5L400.14,409.5L398.86,409.5L398.86,409.5L397.58,409.5L397.58,409.5L396.3,409.5L396.3,409.5L395.01,409.5L395.01,409.5L393.73,409.5L393.73,409.5L392.45,409.5L392.45,409.5L391.17,409.5L391.17,409.5L389.88,409.5L389.88,409.5L388.6,409.5L388.6,409.5L387.32,409.5L387.32,409.5L386.03,409.5L386.03,409.5L384.75,409.5L384.75,409.5L383.47,409.5L383.47,409.5L382.19,409.5L382.19,409.5L380.9,409.5L380.9,409.5L379.62,409.5L379.62,409.5L378.34,409.5L378.34,409.5L377.06,409.5L377.06,409.5L375.77,409.5L375.77,409.5L374.49,409.5L374.49,409.5L373.21,409.5L373.21,409.5L371.92,409.5L371.92,409.5L370.64,409.5L370.64,409.5L369.36,409.5L369.36,409.5L368.08,409.5L368.08,409.5L366.79,409.5L366.79,409.5L365.51,409.5L365.51,409.5L364.23,409.5L364.23,409.5L362.94,409.5L362.94,409.5L361.66,409.5L361.66,409.5L360.38,409.5L360.38,409.5L359.1,409.5L359.1,409.5L357.81,409.5L357.81,409.5L356.53,409.5L356.53,409.5L355.25,409.5L355.25,409.5L353.97,409.5L353.97,409.5L352.68,409.5L352.68,409.5L351.4,409.5L351.4,409.5L350.12,409.5L350.12,409.5L348.83,409.5L348.83,409.5L347.55,409.5L347.55,409.5L346.27,409.5L346.27,409.5L344.99,409.5L344.99,409.5L343.7,409.5L343.7,409.5L342.42,409.5L342.42,409.5L341.14,409.5L341.14,409.5L339.86,409.5L339.86,409.5L338.57,409.5L338.57,409.5L337.29,409.5L337.29,409.5L336.01,409.5L336.01,409.5L334.72,409.5L334.72,409.5L333.44,409.5L333.44,409.5L332.16,409.5L332.16,409.5L330.88,409.5L330.88,409.5L329.59,409.5L329.59,409.5L328.31,409.5L328.31,409.5L327.03,409.5L327.03,409.5L325.75,409.5L325.75,409.5L324.46,409.5L324.46,409.5L323.18,409.5L323.18,409.5L321.9,409.5L321.9,409.5L320.61,409.5L320.61,409.5L319.33,409.5L319.33,409.5L318.05,409.5L318.05,409.5L316.77,409.5L316.77,409.5L315.48,409.5L315.48,409.5L314.2,409.5L314.2,409.5L312.92,409.5L312.92,409.5L311.64,409.5L311.64,409.5L310.35,409.5L310.35,409.5L309.07,409.5L309.07,409.5L307.79,409.5L307.79,409.5L306.5,409.5L306.5,409.5L305.22,409.5L305.22,409.5L303.94,409.5L303.94,409.5L302.66,409.5L302.66,409.5L301.37,409.5L301.37,409.5L300.09,409.5L300.09,409.5L298.81,409.5L298.81,409.5L297.53,409.5L297.53,409.5L296.24,409.5L296.24,409.5L294.96,409.5L294.96,409.5L293.68,409.5L293.68,409.5L292.39,409.5L292.39,409.5L291.11,409.5L291.11,409.5L289.83,409.5L289.83,409.5L288.55,409.5L288.55,409.5L287.26,409.5L287.26,409.5L285.98,409.5L285.98,409.5L284.7,409.5L284.7,409.5L283.42,409.5L283.42,409.5L282.13,409.5L282.13,409.5L280.85,409.5L280.85,409.5L279.57,409.5L279.57,409.5L278.28,409.5L278.28,409.5L277,409.5L277,409.5L275.72,409.5L275.72,409.5L274.44,409.5L274.44,409.5L273.15,409.5L273.15,409.5L271.87,409.5L271.87,409.5L270.59,409.5L270.59,409.5L269.31,409.5L269.31,409.5L268.02,409.5L268.02,409.5L266.74,409.5L266.74,409.5L265.46,409.5L265.46,409.5L264.17,409.5L264.17,409.5L262.89,409.5L262.89,409.5L261.61,409.5L261.61,409.5L260.33,409.5L260.33,409.5L259.04,409.5L259.04,409.5L257.76,409.5L257.76,409.5L256.48,409.5L256.48,409.5L255.2,409.5L255.2,409.5L253.91,409.5L253.91,409.5L252.63,409.5L252.63,409.5L251.35,409.5L251.35,409.5L250.06,409.5L250.06,409.5L248.78,409.5L248.78,409.5L247.5,409.5L247.5,409.5L246.22,409.5L246.22,409.5L244.93,409.5L244.93,409.5L243.65,409.5L243.65,409.5L242.37,409.5L242.37,409.5L241.09,409.5L241.09,409.5L239.8,409.5L239.8,409.5L238.52,409.5L238.52,409.5L237.24,409.5L237.24,409.5L235.95,409.5L235.95,409.5L234.67,409.5L234.67,409.5L233.39,409.5L233.39,409.5L232.11,409.5L232.11,409.5L230.82,409.5L230.82,409.5L229.54,409.5L229.54,409.5L228.26,409.5L228.26,409.5L226.98,409.5L226.98,409.5L225.69,409.5L225.69,409.5L224.41,409.5L224.41,409.5L223.13,409.5L223.13,409.5L221.84,409.5L221.84,409.5L220.56,409.5L220.56,409.5L219.28,409.5L219.28,409.5L218,409.5L218,409.5L216.71,409.5L216.71,409.5L215.43,409.5L215.43,409.5L214.15,409.5L214.15,409.5L212.87,409.5L212.87,409.5L211.58,409.5L211.58,409.5L210.3,409.5L210.3,409.5L209.02,409.5L209.02,409.5L207.73,409.5L207.73,409.5L206.45,409.5L206.45,409.5L205.17,409.5L205.17,409.5L203.89,409.5L203.89,409.5L202.6,409.5L202.6,409.5L201.32,409.5L201.32,409.5L200.04,409.5L200.04,409.5L198.76,409.5L198.76,409.5L197.47,409.5L197.47,409.5L196.19,409.5L196.19,409.5L194.91,409.5L194.91,409.5L193.62,409.5L193.62,409.5L192.34,409.5L192.34,409.5L191.06,409.5L191.06,409.5L189.78,409.5L189.78,409.5L188.49,409.5L188.49,409.5L187.21,409.5L187.21,409.5L185.93,409.5L185.93,409.5L184.65,409.5L184.65,409.5L183.36,409.5L183.36,409.5L182.08,409.5L182.08,409.5L180.8,409.5L180.8,409.5L179.51,409.5L179.51,409.5L178.23,409.5L178.23,409.5L176.95,409.5L176.95,409.5L175.67,409.5L175.67,409.5L174.38,409.5L174.38,409.5L173.1,409.5L173.1,409.5L171.82,409.5L171.82,409.5L170.54,409.5L170.54,409.5L169.25,409.5L169.25,409.5L167.97,409.5L167.97,409.5L166.69,409.5L166.69,409.5L165.4,409.5L165.4,409.5L164.12,409.5L164.12,409.5L162.84,409.5L162.84,409.5L161.56,409.5L161.56,409.5L160.27,409.5L160.27,409.5L158.99,409.5L158.99,409.5L157.71,409.5L157.71,409.5L156.43,409.5L156.43,409.5L155.14,409.5L155.14,409.5L153.86,409.5L153.86,409.5L152.58,409.5L152.58,409.5L151.29,409.5L151.29,409.5L150.01,409.5L150.01,409.5L148.73,409.5L148.73,409.5L147.45,409.5L147.45,409.5L146.16,409.5L146.16,409.5L144.88,409.5L144.88,409.5L143.6,409.5L143.6,409.5L142.31,409.5L142.31,409.5L141.03,409.5L141.03,409.5L139.75,409.5L139.75,409.5L138.47,409.5L138.47,409.5L137.18,409.5L137.18,409.5L135.9,409.5L135.9,409.5L134.62,409.5L134.62,409.5L133.34,409.5L133.34,409.5L132.05,409.5L132.05,409.5L130.77,409.5L130.77,409.5L129.49,409.5L129.49,409.5L128.2,409.5L128.2,409.5L126.92,409.5L126.92,409.5L125.64,409.5L125.64,409.5L124.36,409.5L124.36,409.5L123.07,409.5L123.07,409.5L121.79,409.5L121.79,409.5L120.51,409.5L120.51,409.5L119.23,409.5L119.23,409.5L117.94,409.5L117.94,409.5L116.66,409.5L116.66,409.5L115.38,409.5L115.38,409.5L114.09,409.5L114.09,409.5L112.81,409.5L112.81,409.5L111.53,409.5L111.53,409.5L110.25,409.5L110.25,409.5L108.96,409.5L108.96,409.5L107.68,409.5L107.68,409.5L106.4,409.5L106.4,409.5L105.12,409.5L105.12,409.5L103.83,409.5L103.83,409.5L102.55,409.5L102.55,409.5L101.27,409.5L101.27,409.5L99.98,409.5L99.98,409.5L98.7,409.5L98.7,409.5L97.42,409.5L97.42,409.5L96.14,409.5L96.14,409.5L94.85,409.5L94.85,409.5L93.57,409.5L93.57,409.5L92.29,409.5L92.29,409.5L91.01,409.5L91.01,409.5L89.72,409.5L89.72,409.5L88.44,409.5L88.44,409.5L87.16,409.5L87.16,409.5L85.87,409.5L85.87,409.5L84.59,409.5L84.59,409.5L83.31,409.5L83.31,409.5L82.03,409.5L82.03,409.5L80.74,409.5L80.74,409.5L79.46,409.5L79.46,409.5L78.18,409.5L78.18,409.5L76.9,409.5L76.9,409.5L75.61,409.5L75.61,409.5L74.33,409.5L74.33,409.5L73.05,409.5L73.05,409.5L71.76,409.5L71.76,409.5L70.48,409.5L70.48,409.5L69.2,409.5L69.2,409.5L67.92,409.5L67.92,409.5L66.63,409.5L66.63,409.5L65.35,409.5L65.35,409.5L64.07,409.5L64.07,409.5L62.79,409.5L62.79,409.5L61.5,409.5L61.5,409.5L60.22,409.5L60.22,409.5L58.94,409.5L58.94,409.5L57.65,409.5L57.65,409.5L56.37,409.5L56.37,409.5L55.09,409.5L55.09,409.5L53.81,409.5L53.81,409.5L52.52,409.5L52.52,409.5L51.24,409.5L51.24,409.5L49.96,409.5L49.96,409.5L48.68,409.5L48.68,409.5L47.39,409.5L47.39,409.5L46.11,409.5L46.11,409.5L44.83,409.5L44.83,409.5L43.54,409.5L43.54,409.5L42.26,409.5L42.26,409.5L40.98,409.5L40.98,409.5L39.7,409.5L39.7,409.5L38.41,409.5L38.41,409.5L37.13,409.5L37.13,409.5L35.85,409.5L35.85,409.5L34.57,409.5L34.57,409.5L33.28,409.5L33.28,409.5L32,409.5Z" fill="#df7e5f"/>
<path d="M32,275.98L33.28,275.98L33.28,278.08L34.57,278.08L34.57,280.4L35.85,280.4L35.85,281.26L37.13,281.26L37.13,281.25L38.41,281.25L38.41,279.91L39.7,279.91L39.7,279.98L40.98,279.98L40.98,281.35L42.26,281.35L42.26,282.45L43.54,282.45L43.54,284.17L44.83,284.17L44.83,285.16L46.11,285.16L46.11,287.46L47.39,287.46L47.39,290.1L48.68,290.1L48.68,291.91L49.96,291.91L49.96,294.69L51.24,294.69L51.24,296.93L52.52,296.93L52.52,299.43L53.81,299.43L53.81,305.28L55.09,305.28L55.09,311.98L56.37,311.98L56.37,317.06L57.65,317.06L57.65,316.98L58.94,316.98L58.94,315.95L60.22,315.95L60.22,316.12L61.5,316.12L61.5,314.73L62.79,314.73L62.79,314.19L64.07,314.19L64.07,313.19L65.35,313.19L65.35,312.84L66.63,312.84L66.63,313.56L67.92,313.56L67.92,314.99L69.2,314.99L69.2,315.86L70.48,315.86L70.48,318.35L71.76,318.35L71.76,321.36L73.05,321.36L73.05,324.42L74.33,324.42L74.33,327.75L75.61,327.75L75.61,329.17L76.9,329.17L76.9,331.18L78.18,331.18L78.18,333.44L79.46,333.44L79.46,335.42L80.74,335.42L80.74,335.52L82.03,335.52L82.03,337.48L83.31,337.48L83.31,337.88L84.59,337.88L84.59,337.66L85.87,337.66L85.87,337.84L87.16,337.84L87.16,337.82L88.44,337.82L88.44,336.87L89.72,336.87L89.72,335.09L91.01,335.09L91.01,334.12L92.29,334.12L92.29,331.5L93.57,331.5L93.57,328.25L94.85,328.25L94.85,324.18L96.14,324.18L96.14,320.26L97.42,320.26L97.42,314.92L98.7,314.92L98.7,310.34L99.98,310.34L99.98,306.43L101.27,306.43L101.27,302.52L102.55,302.52L102.55,299.93L103.83,299.93L103.83,297.52L105.12,297.52L105.12,295.54L106.4,295.54L106.4,292.25L107.68,292.25L107.68,290.04L108.96,290.04L108.96,287.51L110.25,287.51L110.25,285.35L111.53,285.35L111.53,284.96L112.81,284.96L112.81,282.74L114.09,282.74L114.09,281.47L115.38,281.47L115.38,282.45L116.66,282.45L116.66,282.54L117.94,282.54L117.94,283.51L119.23,283.51L119.23,284L120.51,284L120.51,285.13L121.79,285.13L121.79,284.97L123.07,284.97L123.07,285.85L124.36,285.85L124.36,286.42L125.64,286.42L125.64,286.72L126.92,286.72L126.92,287.57L128.2,287.57L128.2,288.1L129.49,288.1L129.49,288.41L130.77,288.41L130.77,288.52L132.05,288.52L132.05,289.67L133.34,289.67L133.34,289.47L134.62,289.47L134.62,290.98L135.9,290.98L135.9,291.54L137.18,291.54L137.18,291.74L138.47,291.74L138.47,291.78L139.75,291.78L139.75,291.78L141.03,291.78L141.03,291.61L142.31,291.61L142.31,292.17L143.6,292.17L143.6,291.39L144.88,291.39L144.88,291.27L146.16,291.27L146.16,292.41L147.45,292.41L147.45,291.74L148.73,291.74L148.73,292.99L150.01,292.99L150.01,292.61L151.29,292.61L151.29,292.69L152.58,292.69L152.58,293.51L153.86,293.51L153.86,295.34L155.14,295.34L155.14,297.52L156.43,297.52L156.43,299.1L157.71,299.1L157.71,300.72L158.99,300.72L158.99,302.1L160.27,302.1L160.27,303.65L161.56,303.65L161.56,304.14L162.84,304.14L162.84,305.1L164.12,305.1L164.12,306.77L165.4,306.77L165.4,307.3L166.69,307.3L166.69,307.79L167.97,307.79L167.97,309.52L169.25,309.52L169.25,311.29L170.54,311.29L170.54,312.6L171.82,312.6L171.82,313.27L173.1,313.27L173.1,315.3L174.38,315.3L174.38,316.39L175.67,316.39L175.67,316.26L176.95,316.26L176.95,317.07L178.23,317.07L178.23,316.67L179.51,316.67L179.51,317.16L180.8,317.16L180.8,316.64L182.08,316.64L182.08,316.22L183.36,316.22L183.36,317.56L184.65,317.56L184.65,317.45L185.93,317.45L185.93,318.26L187.21,318.26L187.21,317.97L188.49,317.97L188.49,318.73L189.78,318.73L189.78,318.21L191.06,318.21L191.06,318.88L192.34,318.88L192.34,319.84L193.62,319.84L193.62,319.55L194.91,319.55L194.91,319.8L196.19,319.8L196.19,319.22L197.47,319.22L197.47,319.83L198.76,319.83L198.76,319.63L200.04,319.63L200.04,320.28L201.32,320.28L201.32,320.6L202.6,320.6L202.6,321.2L203.89,321.2L203.89,321.52L205.17,321.52L205.17,321.69L206.45,321.69L206.45,323.01L207.73,323.01L207.73,323.63L209.02,323.63L209.02,324.08L210.3,324.08L210.3,326.25L211.58,326.25L211.58,326.68L212.87,326.68L212.87,329.84L214.15,329.84L214.15,331.4L215.43,331.4L215.43,334.03L216.71,334.03L216.71,335.96L218,335.96L218,338.22L219.28,338.22L219.28,341.31L220.56,341.31L220.56,342.36L221.84,342.36L221.84,344.28L223.13,344.28L223.13,345.49L224.41,345.49L224.41,345.99L225.69,345.99L225.69,346.74L226.98,346.74L226.98,347.48L228.26,347.48L228.26,346.7L229.54,346.7L229.54,347L230.82,347L230.82,347.54L232.11,347.54L232.11,347.14L233.39,347.14L233.39,347.42L234.67,347.42L234.67,347.05L235.95,347.05L235.95,346.61L237.24,346.61L237.24,347.49L238.52,347.49L238.52,347.4L239.8,347.4L239.8,347.29L241.09,347.29L241.09,346.66L242.37,346.66L242.37,346L243.65,346L243.65,346.11L244.93,346.11L244.93,345.75L246.22,345.75L246.22,345.55L247.5,345.55L247.5,346.37L248.78,346.37L248.78,345.44L250.06,345.44L250.06,345.72L251.35,345.72L251.35,344.44L252.63,344.44L252.63,344.04L253.91,344.04L253.91,343.4L255.2,343.4L255.2,342.32L256.48,342.32L256.48,341.87L257.76,341.87L257.76,340.47L259.04,340.47L259.04,339.69L260.33,339.69L260.33,339.56L261.61,339.56L261.61,338.3L262.89,338.3L262.89,338.13L264.17,338.13L264.17,337.22L265.46,337.22L265.46,336.31L266.74,336.31L266.74,335.29L268.02,335.29L268.02,334.58L269.31,334.58L269.31,333.39L270.59,333.39L270.59,332.06L271.87,332.06L271.87,331.45L273.15,331.45L273.15,331.77L274.44,331.77L274.44,330.77L275.72,330.77L275.72,330.39L277,330.39L277,329.81L278.28,329.81L278.28,330.39L279.57,330.39L279.57,329.79L280.85,329.79L280.85,330.43L282.13,330.43L282.13,331.16L283.42,331.16L283.42,331.56L284.7,331.56L284.7,331.57L285.98,331.57L285.98,330.25L287.26,330.25L287.26,329.1L288.55,329.1L288.55,328.97L289.83,328.97L289.83,327.51L291.11,327.51L291.11,327.47L292.39,327.47L292.39,327.02L293.68,327.02L293.68,326.89L294.96,326.89L294.96,325.69L296.24,325.69L296.24,325.32L297.53,325.32L297.53,324.51L298.81,324.51L298.81,323.64L300.09,323.64L300.09,323.85L301.37,323.85L301.37,323.78L302.66,323.78L302.66,324.44L303.94,324.44L303.94,324.24L305.22,324.24L305.22,324.74L306.5,324.74L306.5,324.42L307.79,324.42L307.79,325.51L309.07,325.51L309.07,324.51L310.35,324.51L310.35,324.14L311.64,324.14L311.64,323.55L312.92,323.55L312.92,323.56L314.2,323.56L314.2,322.56L315.48,322.56L315.48,322.87L316.77,322.87L316.77,322.01L318.05,322.01L318.05,320.59L319.33,320.59L319.33,320.1L320.61,320.1L320.61,319.71L321.9,319.71L321.9,317.89L323.18,317.89L323.18,317.97L324.46,317.97L324.46,316.38L325.75,316.38L325.75,315.36L327.03,315.36L327.03,314.58L328.31,314.58L328.31,313.43L329.59,313.43L329.59,312.56L330.88,312.56L330.88,311.63L332.16,311.63L332.16,309.59L333.44,309.59L333.44,308.9L334.72,308.9L334.72,307.34L336.01,307.34L336.01,306.59L337.29,306.59L337.29,304.54L338.57,304.54L338.57,303.87L339.86,303.87L339.86,304.23L341.14,304.23L341.14,303.37L342.42,303.37L342.42,303.37L343.7,303.37L343.7,303.52L344.99,303.52L344.99,303.86L346.27,303.86L346.27,303.71L347.55,303.71L347.55,303.36L348.83,303.36L348.83,303.55L350.12,303.55L350.12,303.32L351.4,303.32L351.4,303.64L352.68,303.64L352.68,304.05L353.97,304.05L353.97,304.18L355.25,304.18L355.25,304.24L356.53,304.24L356.53,304.24L357.81,304.24L357.81,304.23L359.1,304.23L359.1,303.7L360.38,303.7L360.38,304.19L361.66,304.19L361.66,304.81L362.94,304.81L362.94,304.77L364.23,304.77L364.23,305.78L365.51,305.78L365.51,305.9L366.79,305.9L366.79,306.34L368.08,306.34L368.08,306.22L369.36,306.22L369.36,305.51L370.64,305.51L370.64,305.49L371.92,305.49L371.92,303.92L373.21,303.92L373.21,303.82L374.49,303.82L374.49,302.83L375.77,302.83L375.77,302.18L377.06,302.18L377.06,301.51L378.34,301.51L378.34,301.42L379.62,301.42L379.62,301.2L380.9,301.2L380.9,302.54L382.19,302.54L382.19,303.05L383.47,303.05L383.47,302.72L384.75,302.72L384.75,303.06L386.03,303.06L386.03,303.89L387.32,303.89L387.32,303.03L388.6,303.03L388.6,303L389.88,303L389.88,302.44L391.17,302.44L391.17,301.72L392.45,301.72L392.45,301.3L393.73,301.3L393.73,301.23L395.01,301.23L395.01,300.32L396.3,300.32L396.3,301.11L397.58,301.11L397.58,300.49L398.86,300.49L398.86,300.05L400.14,300.05L400.14,299.77L401.43,299.77L401.43,299.06L402.71,299.06L402.71,299.5L403.99,299.5L403.99,298.87L405.28,298.87L405.28,297.72L406.56,297.72L406.56,297.81L407.84,297.81L407.84,296.44L409.12,296.44L409.12,295.88L410.41,295.88L410.41,293.74L411.69,293.74L411.69,290.38L412.97,290.38L412.97,287.56L414.25,287.56L414.25,284.84L415.54,284.84L415.54,281.6L416.82,281.6L416.82,279.32L418.1,279.32L418.1,277.86L419.39,277.86L419.39,276.95L420.67,276.95L420.67,276.04L421.95,276.04L421.95,275.08L423.23,275.08L423.23,274.57L424.52,274.57L424.52,272.19L425.8,272.19L425.8,271.51L427.08,271.51L427.08,269.62L428.36,269.62L428.36,267.46L429.65,267.46L429.65,266.61L430.93,266.61L430.93,265.77L432.21,265.77L432.21,264.11L433.5,264.11L433.5,262.86L434.78,262.86L434.78,262.09L436.06,262.09L436.06,260.73L437.34,260.73L437.34,259.85L438.63,259.85L438.63,258.87L439.91,258.87L439.91,258.02L441.19,258.02L441.19,257.28L442.47,257.28L442.47,256.01L443.76,256.01L443.76,256.19L445.04,256.19L445.04,254.31L446.32,254.31L446.32,253.36L447.61,253.36L447.61,252.62L448.89,252.62L448.89,251.35L450.17,251.35L450.17,251.63L451.45,251.63L451.45,253.02L452.74,253.02L452.74,254.13L454.02,254.13L454.02,255.64L455.3,255.64L455.3,256.97L456.58,256.97L456.58,260.22L457.87,260.22L457.87,262.45L459.15,262.45L459.15,265.42L460.43,265.42L460.43,268.32L461.72,268.32L461.72,271.08L463,271.08L463,272.89L464.28,272.89L464.28,275.24L465.56,275.24L465.56,276.32L466.85,276.32L466.85,278.54L468.13,278.54L468.13,280.38L469.41,280.38L469.41,282.02L470.69,282.02L470.69,284.93L471.98,284.93L471.98,287.8L473.26,287.8L473.26,289.61L474.54,289.61L474.54,290.8L475.83,290.8L475.83,292.38L477.11,292.38L477.11,294.42L478.39,294.42L478.39,296.6L479.67,296.6L479.67,299.31L480.96,299.31L480.96,301.13L482.24,301.13L482.24,303.27L483.52,303.27L483.52,304.79L484.8,304.79L484.8,307.44L486.09,307.44L486.09,309.77L487.37,309.77L487.37,311.96L488.65,311.96L488.65,314.45L489.94,314.45L489.94,317.66L491.22,317.66L491.22,322.53L492.5,322.53L492.5,327.55L493.78,327.55L493.78,329.01L495.07,329.01L495.07,330.42L496.35,330.42L496.35,332.68L497.63,332.68L497.63,335.86L498.91,335.86L498.91,338.02L500.2,338.02L500.2,341.04L501.48,341.04L501.48,342.92L502.76,342.92L502.76,346.34L504.05,346.34L504.05,347.89L505.33,347.89L505.33,350.51L506.61,350.51L506.61,351.31L507.89,351.31L507.89,353.34L509.18,353.34L509.18,355.84L510.46,355.84L510.46,358.39L511.74,358.39L511.74,360.43L513.02,360.43L513.02,362.04L514.31,362.04L514.31,363.28L515.59,363.28L515.59,365.05L516.87,365.05L516.87,366.84L518.16,366.84L518.16,368.01L519.44,368.01L519.44,367.83L520.72,367.83L520.72,368.3L522,368.3L522,369.45L523.29,369.45L523.29,369.06L524.57,369.06L524.57,369.46L525.85,369.46L525.85,370.03L527.13,370.03L527.13,369.17L528.42,369.17L528.42,369.17L529.7,369.17L529.7,369.72L530.98,369.72L530.98,369.11L532.27,369.11L532.27,369.98L533.55,369.98L533.55,370.02L534.83,370.02L534.83,369.18L536.11,369.18L536.11,368.25L537.4,368.25L537.4,368.19L538.68,368.19L538.68,368.03L539.96,368.03L539.96,366.63L541.24,366.63L541.24,365.39L542.53,365.39L542.53,364.25L543.81,364.25L543.81,363.44L545.09,363.44L545.09,362.03L546.38,362.03L546.38,361.39L547.66,361.39L547.66,360.21L548.94,360.21L548.94,358.21L550.22,358.21L550.22,357.25L551.51,357.25L551.51,355.58L552.79,355.58L552.79,354.32L554.07,354.32L554.07,353.65L555.35,353.65L555.35,351.99L556.64,351.99L556.64,350.56L557.92,350.56L557.92,349.01L559.2,349.01L559.2,347.49L560.49,347.49L560.49,346.89L561.77,346.89L561.77,346.08L563.05,346.08L563.05,344.79L564.33,344.79L564.33,343.21L565.62,343.21L565.62,339.15L566.9,339.15L566.9,337.25L568.18,337.25L568.18,335.75L569.46,335.75L569.46,333.81L570.75,333.81L570.75,332.58L572.03,332.58L572.03,331.12L573.31,331.12L573.31,330.17L574.6,330.17L574.6,328.14L575.88,328.14L575.88,327.12L577.16,327.12L577.16,325.66L578.44,325.66L578.44,325.27L579.73,325.27L579.73,323.68L581.01,323.68L581.01,322.74L582.29,322.74L582.29,321.37L583.57,321.37L583.57,320.86L584.86,320.86L584.86,319.63L586.14,319.63L586.14,319.13L587.42,319.13L587.42,318.57L588.71,318.57L588.71,317.58L589.99,317.58L589.99,317.42L591.27,317.42L591.27,316L592.55,316L592.55,313.95L593.84,313.95L593.84,312.66L595.12,312.66L595.12,310.52L596.4,310.52L596.4,309.15L597.69,309.15L597.69,309.24L598.97,309.24L598.97,307.4L600.25,307.4L600.25,306.46L601.53,306.46L601.53,306.55L602.82,306.55L602.82,305.97L604.1,305.97L604.1,305.14L605.38,305.14L605.38,304.75L606.66,304.75L606.66,303.09L607.95,303.09L607.95,302.42L609.23,302.42L609.23,301.22L610.51,301.22L610.51,300.98L611.8,300.98L611.8,299.62L613.08,299.62L613.08,298.32L614.36,298.32L614.36,297.02L615.64,297.02L615.64,296.97L616.93,296.97L616.93,296.85L618.21,296.85L618.21,296.79L619.49,296.79L619.49,296.07L620.77,296.07L620.77,296.6L622.06,296.6L622.06,296.33L623.34,296.33L623.34,296L624.62,296L624.62,295.41L625.91,295.41L625.91,295.12L627.19,295.12L627.19,293.99L628.47,293.99L628.47,293.77L629.75,293.77L629.75,292.28L631.04,292.28L631.04,292.3L632.32,292.3L632.32,290.73L633.6,290.73L633.6,290.76L634.88,290.76L634.88,289.2L636.17,289.2L636.17,288.61L637.45,288.61L637.45,287.85L638.73,287.85L638.73,286.97L640.02,286.97L640.02,286.7L641.3,286.7L641.3,286.29L642.58,286.29L642.58,285.96L643.86,285.96L643.86,285.02L645.15,285.02L645.15,284.75L646.43,284.75L646.43,284.71L647.71,284.71L647.71,285.16L648.99,285.16L648.99,284.16L650.28,284.16L650.28,284.18L651.56,284.18L651.56,283.48L652.84,283.48L652.84,283.66L654.13,283.66L654.13,283.39L655.41,283.39L655.41,282.39L656.69,282.39L656.69,282.19L657.97,282.19L657.97,281.59L659.26,281.59L659.26,280.29L660.54,280.29L660.54,279.69L661.82,279.69L661.82,279.21L663.1,279.21L663.1,275.9L664.39,275.9L664.39,273.24L665.67,273.24L665.67,270.86L666.95,270.86L666.95,273.13L668.24,273.13L668.24,275.3L669.52,275.3L669.52,276.35L670.8,276.35L670.8,276.21L672.08,276.21L672.08,274.06L673.37,274.06L673.37,272.89L674.65,272.89L674.65,271.4L675.93,271.4L675.93,269.38L677.21,269.38L677.21,267.95L678.5,267.95L678.5,265.5L679.78,265.5L679.78,263.21L681.06,263.21L681.06,261.44L682.35,261.44L682.35,259.29L683.63,259.29L683.63,256.03L684.91,256.03L684.91,252.32L686.19,252.32L686.19,248.38L687.48,248.38L687.48,245.58L688.76,245.58L688.76,241.39L690.04,241.39L690.04,237.54L691.32,237.54L691.32,234.28L692.61,234.28L692.61,230.55L693.89,230.55L693.89,226.51L695.17,226.51L695.17,224.05L696.46,224.05L696.46,220.79L697.74,220.79L697.74,218.81L699.02,218.81L699.02,216.59L700.3,216.59L700.3,214.19L701.59,214.19L701.59,214.08L702.87,214.08L702.87,214.03L704.15,214.03L704.15,213.56L705.43,213.56L705.43,212.48L706.72,212.48L706.72,212.05L708,212.05L708,336.31L706.72,336.31L706.72,335.18L705.43,335.18L705.43,334.57L704.15,334.57L704.15,335.66L702.87,335.66L702.87,336.12L701.59,336.12L701.59,336.9L700.3,336.9L700.3,336.81L699.02,336.81L699.02,337.47L697.74,337.47L697.74,339.35L696.46,339.35L696.46,341.32L695.17,341.32L695.17,343.64L693.89,343.64L693.89,345.43L692.61,345.43L692.61,345.72L691.32,345.72L691.32,347.18L690.04,347.18L690.04,347.57L688.76,347.57L688.76,348.12L687.48,348.12L687.48,349.7L686.19,349.7L686.19,350.71L684.91,350.71L684.91,351.09L683.63,351.09L683.63,351.57L682.35,351.57L682.35,352.63L681.06,352.63L681.06,354.2L679.78,354.2L679.78,354.92L678.5,354.92L678.5,355.35L677.21,355.35L677.21,355.47L675.93,355.47L675.93,355.89L674.65,355.89L674.65,356.79L673.37,356.79L673.37,356.78L672.08,356.78L672.08,356.21L670.8,356.21L670.8,356.04L669.52,356.04L669.52,355.89L668.24,355.89L668.24,355.99L666.95,355.99L666.95,355.8L665.67,355.8L665.67,355.84L664.39,355.84L664.39,356.68L663.1,356.68L663.1,357.09L661.82,357.09L661.82,357.51L660.54,357.51L660.54,358.01L659.26,358.01L659.26,357.84L657.97,357.84L657.97,359.01L656.69,359.01L656.69,359.48L655.41,359.48L655.41,359.36L654.13,359.36L654.13,360.29L652.84,360.29L652.84,359.23L651.56,359.23L651.56,359.17L650.28,359.17L650.28,358.9L648.99,358.9L648.99,358.81L647.71,358.81L647.71,357.9L646.43,357.9L646.43,358.06L645.15,358.06L645.15,357.47L643.86,357.47L643.86,357.1L642.58,357.1L642.58,357.63L641.3,357.63L641.3,357.72L640.02,357.72L640.02,357.91L638.73,357.91L638.73,358.62L637.45,358.62L637.45,358.17L636.17,358.17L636.17,358.08L634.88,358.08L634.88,358.8L633.6,358.8L633.6,358.64L632.32,358.64L632.32,360.2L631.04,360.2L631.04,360.73L629.75,360.73L629.75,361.58L628.47,361.58L628.47,362.88L627.19,362.88L627.19,363.44L625.91,363.44L625.91,363.85L624.62,363.85L624.62,364.27L623.34,364.27L623.34,364.2L622.06,364.2L622.06,364.51L620.77,364.51L620.77,364.74L619.49,364.74L619.49,365.05L618.21,365.05L618.21,366.09L616.93,366.09L616.93,366.3L615.64,366.3L615.64,366.99L614.36,366.99L614.36,367.1L613.08,367.1L613.08,367.93L611.8,367.93L611.8,368.87L610.51,368.87L610.51,369.81L609.23,369.81L609.23,370.13L607.95,370.13L607.95,370.37L606.66,370.37L606.66,371.22L605.38,371.22L605.38,371.13L604.1,371.13L604.1,371.28L602.82,371.28L602.82,372.43L601.53,372.43L601.53,372.94L600.25,372.94L600.25,373.26L598.97,373.26L598.97,373.58L597.69,373.58L597.69,374.13L596.4,374.13L596.4,375.16L595.12,375.16L595.12,375.06L593.84,375.06L593.84,375.56L592.55,375.56L592.55,376.37L591.27,376.37L591.27,376.84L589.99,376.84L589.99,377.27L588.71,377.27L588.71,378.32L587.42,378.32L587.42,378.61L586.14,378.61L586.14,378.72L584.86,378.72L584.86,378.98L583.57,378.98L583.57,379.06L582.29,379.06L582.29,379.27L581.01,379.27L581.01,379.63L579.73,379.63L579.73,380.39L578.44,380.39L578.44,380.24L577.16,380.24L577.16,380.51L575.88,380.51L575.88,381.65L574.6,381.65L574.6,382.18L573.31,382.18L573.31,382.6L572.03,382.6L572.03,382.57L570.75,382.57L570.75,383.23L569.46,383.23L569.46,384.12L568.18,384.12L568.18,384.53L566.9,384.53L566.9,385.06L565.62,385.06L565.62,384.82L564.33,384.82L564.33,385.91L563.05,385.91L563.05,386.13L561.77,386.13L561.77,386.73L560.49,386.73L560.49,387.14L559.2,387.14L559.2,387.49L557.92,387.49L557.92,388.27L556.64,388.27L556.64,388.57L555.35,388.57L555.35,389.16L554.07,389.16L554.07,389.66L552.79,389.66L552.79,389.69L551.51,389.69L551.51,390.26L550.22,390.26L550.22,390.69L548.94,390.69L548.94,391.06L547.66,391.06L547.66,391.64L546.38,391.64L546.38,392.32L545.09,392.32L545.09,392.7L543.81,392.7L543.81,393.46L542.53,393.46L542.53,393.95L541.24,393.95L541.24,394.54L539.96,394.54L539.96,394.42L538.68,394.42L538.68,394.88L537.4,394.88L537.4,395.74L536.11,395.74L536.11,396.12L534.83,396.12L534.83,396.34L533.55,396.34L533.55,396.65L532.27,396.65L532.27,397.16L530.98,397.16L530.98,396.79L529.7,396.79L529.7,396.47L528.42,396.47L528.42,396.95L527.13,396.95L527.13,396.96L525.85,396.96L525.85,396.63L524.57,396.63L524.57,396.65L523.29,396.65L523.29,395.89L522,395.89L522,395.56L520.72,395.56L520.72,395.31L519.44,395.31L519.44,395.28L518.16,395.28L518.16,395.4L516.87,395.4L516.87,395.11L515.59,395.11L515.59,394.31L514.31,394.31L514.31,393.97L513.02,393.97L513.02,393.04L511.74,393.04L511.74,392.37L510.46,392.37L510.46,391.25L509.18,391.25L509.18,390.85L507.89,390.85L507.89,389L506.61,389L506.61,388.74L505.33,388.74L505.33,387.43L504.05,387.43L504.05,386.26L502.76,386.26L502.76,385.27L501.48,385.27L501.48,384.36L500.2,384.36L500.2,382.87L498.91,382.87L498.91,381.36L497.63,381.36L497.63,380.46L496.35,380.46L496.35,378.71L495.07,378.71L495.07,377.34L493.78,377.34L493.78,376.01L492.5,376.01L492.5,374.86L491.22,374.86L491.22,374.06L489.94,374.06L489.94,373.41L488.65,373.41L488.65,372.08L487.37,372.08L487.37,371.49L486.09,371.49L486.09,369.78L484.8,369.78L484.8,369.58L483.52,369.58L483.52,368.3L482.24,368.3L482.24,367.29L480.96,367.29L480.96,366.72L479.67,366.72L479.67,366.17L478.39,366.17L478.39,364.51L477.11,364.51L477.11,364.61L475.83,364.61L475.83,363.5L474.54,363.5L474.54,363.39L473.26,363.39L473.26,362.42L471.98,362.42L471.98,361.43L470.69,361.43L470.69,360.62L469.41,360.62L469.41,360.76L468.13,360.76L468.13,359.81L466.85,359.81L466.85,360.02L465.56,360.02L465.56,359.04L464.28,359.04L464.28,358.7L463,358.7L463,358.27L461.72,358.27L461.72,357.42L460.43,357.42L460.43,356.75L459.15,356.75L459.15,356.42L457.87,356.42L457.87,355L456.58,355L456.58,355.2L455.3,355.2L455.3,353.81L454.02,353.81L454.02,353.64L452.74,353.64L452.74,353.31L451.45,353.31L451.45,352.61L450.17,352.61L450.17,352.73L448.89,352.73L448.89,351.9L447.61,351.9L447.61,351.9L446.32,351.9L446.32,352.83L445.04,352.83L445.04,352.84L443.76,352.84L443.76,354.12L442.47,354.12L442.47,354.6L441.19,354.6L441.19,354.82L439.91,354.82L439.91,354.74L438.63,354.74L438.63,355.69L437.34,355.69L437.34,356.06L436.06,356.06L436.06,355.7L434.78,355.7L434.78,355.74L433.5,355.74L433.5,355.99L432.21,355.99L432.21,356.36L430.93,356.36L430.93,357.02L429.65,357.02L429.65,357L428.36,357L428.36,357.6L427.08,357.6L427.08,357.62L425.8,357.62L425.8,357.94L424.52,357.94L424.52,358.29L423.23,358.29L423.23,359.19L421.95,359.19L421.95,359.38L420.67,359.38L420.67,360.87L419.39,360.87L419.39,361.4L418.1,361.4L418.1,361.01L416.82,361.01L416.82,361.59L415.54,361.59L415.54,362L414.25,362L414.25,363.02L412.97,363.02L412.97,363.02L411.69,363.02L411.69,363.93L410.41,363.93L410.41,364.1L409.12,364.1L409.12,364.34L407.84,364.34L407.84,365.8L406.56,365.8L406.56,366.89L405.28,366.89L405.28,367.3L403.99,367.3L403.99,367.65L402.71,367.65L402.71,368.13L401.43,368.13L401.43,368.18L400.14,368.18L400.14,368.42L398.86,368.42L398.86,368.34L397.58,368.34L397.58,368.31L396.3,368.31L396.3,369.05L395.01,369.05L395.01,368.49L393.73,368.49L393.73,368.34L392.45,368.34L392.45,368.85L391.17,368.85L391.17,368.69L389.88,368.69L389.88,368.53L388.6,368.53L388.6,368.48L387.32,368.48L387.32,368.62L386.03,368.62L386.03,368.43L384.75,368.43L384.75,368.47L383.47,368.47L383.47,368.95L382.19,368.95L382.19,369.15L380.9,369.15L380.9,368.45L379.62,368.45L379.62,368.77L378.34,368.77L378.34,369.2L377.06,369.2L377.06,369.78L375.77,369.78L375.77,369.52L374.49,369.52L374.49,369.51L373.21,369.51L373.21,369.95L371.92,369.95L371.92,370.48L370.64,370.48L370.64,370.31L369.36,370.31L369.36,370.67L368.08,370.67L368.08,371.59L366.79,371.59L366.79,371.93L365.51,371.93L365.51,372.9L364.23,372.9L364.23,372.77L362.94,372.77L362.94,373L361.66,373L361.66,373.35L360.38,373.35L360.38,373.9L359.1,373.9L359.1,373.79L357.81,373.79L357.81,373.42L356.53,373.42L356.53,373.48L355.25,373.48L355.25,373.67L353.97,373.67L353.97,373.52L352.68,373.52L352.68,373.15L351.4,373.15L351.4,373.28L350.12,373.28L350.12,373.1L348.83,373.1L348.83,372.96L347.55,372.96L347.55,372.41L346.27,372.41L346.27,372.41L344.99,372.41L344.99,372.51L343.7,372.51L343.7,371.7L342.42,371.7L342.42,372.32L341.14,372.32L341.14,371.6L339.86,371.6L339.86,371.95L338.57,371.95L338.57,371.51L337.29,371.51L337.29,370.91L336.01,370.91L336.01,371.45L334.72,371.45L334.72,372.05L333.44,372.05L333.44,372.49L332.16,372.49L332.16,372.96L330.88,372.96L330.88,372.77L329.59,372.77L329.59,373.92L328.31,373.92L328.31,374.22L327.03,374.22L327.03,373.89L325.75,373.89L325.75,374.19L324.46,374.19L324.46,375.54L323.18,375.54L323.18,375.35L321.9,375.35L321.9,376.09L320.61,376.09L320.61,376.63L319.33,376.63L319.33,376.25L318.05,376.25L318.05,377.31L316.77,377.31L316.77,377.54L315.48,377.54L315.48,378.07L314.2,378.07L314.2,378.45L312.92,378.45L312.92,377.76L311.64,377.76L311.64,377.8L310.35,377.8L310.35,378.12L309.07,378.12L309.07,377.51L307.79,377.51L307.79,378.21L306.5,378.21L306.5,378.33L305.22,378.33L305.22,377.61L303.94,377.61L303.94,377.97L302.66,377.97L302.66,377.81L301.37,377.81L301.37,378.04L300.09,378.04L300.09,378.55L298.81,378.55L298.81,378.71L297.53,378.71L297.53,378.56L296.24,378.56L296.24,378.38L294.96,378.38L294.96,378.52L293.68,378.52L293.68,379L292.39,379L292.39,379.83L291.11,379.83L291.11,379.21L289.83,379.21L289.83,379.49L288.55,379.49L288.55,379.84L287.26,379.84L287.26,379.77L285.98,379.77L285.98,379.36L284.7,379.36L284.7,379.92L283.42,379.92L283.42,379.7L282.13,379.7L282.13,379.81L280.85,379.81L280.85,379.81L279.57,379.81L279.57,379.99L278.28,379.99L278.28,379.92L277,379.92L277,380.08L275.72,380.08L275.72,380.26L274.44,380.26L274.44,380.56L273.15,380.56L273.15,380.77L271.87,380.77L271.87,380.95L270.59,380.95L270.59,381.18L269.31,381.18L269.31,381.67L268.02,381.67L268.02,381.98L266.74,381.98L266.74,382.2L265.46,382.2L265.46,382.76L264.17,382.76L264.17,382.64L262.89,382.64L262.89,383.09L261.61,383.09L261.61,382.84L260.33,382.84L260.33,383.16L259.04,383.16L259.04,384.14L257.76,384.14L257.76,384.06L256.48,384.06L256.48,384.58L255.2,384.58L255.2,384.72L253.91,384.72L253.91,384.26L252.63,384.26L252.63,384.62L251.35,384.62L251.35,385.37L250.06,385.37L250.06,385.12L248.78,385.12L248.78,384.95L247.5,384.95L247.5,384.11L246.22,384.11L246.22,383.74L244.93,383.74L244.93,383.26L243.65,383.26L243.65,383.67L242.37,383.67L242.37,383.17L241.09,383.17L241.09,382.42L239.8,382.42L239.8,382.78L238.52,382.78L238.52,382.51L237.24,382.51L237.24,382.12L235.95,382.12L235.95,382.35L234.67,382.35L234.67,382.12L233.39,382.12L233.39,381.59L232.11,381.59L232.11,381.14L230.82,381.14L230.82,381.52L229.54,381.52L229.54,380.78L228.26,380.78L228.26,380.8L226.98,380.8L226.98,380.96L225.69,380.96L225.69,380.55L224.41,380.55L224.41,380.12L223.13,380.12L223.13,380.82L221.84,380.82L221.84,380.22L220.56,380.22L220.56,379.65L219.28,379.65L219.28,378.25L218,378.25L218,377.49L216.71,377.49L216.71,376.45L215.43,376.45L215.43,375.54L214.15,375.54L214.15,373.48L212.87,373.48L212.87,373.1L211.58,373.1L211.58,371.8L210.3,371.8L210.3,371.23L209.02,371.23L209.02,370.89L207.73,370.89L207.73,370.05L206.45,370.05L206.45,369.43L205.17,369.43L205.17,368.28L203.89,368.28L203.89,368.01L202.6,368.01L202.6,368.02L201.32,368.02L201.32,367.62L200.04,367.62L200.04,367.5L198.76,367.5L198.76,367.43L197.47,367.43L197.47,368.21L196.19,368.21L196.19,368.28L194.91,368.28L194.91,367.99L193.62,367.99L193.62,367.61L192.34,367.61L192.34,367.44L191.06,367.44L191.06,368.21L189.78,368.21L189.78,368.19L188.49,368.19L188.49,368.31L187.21,368.31L187.21,367.76L185.93,367.76L185.93,368.1L184.65,368.1L184.65,368.2L183.36,368.2L183.36,368.01L182.08,368.01L182.08,368.24L180.8,368.24L180.8,368.2L179.51,368.2L179.51,367.87L178.23,367.87L178.23,367.66L176.95,367.66L176.95,367.97L175.67,367.97L175.67,367.06L174.38,367.06L174.38,367.27L173.1,367.27L173.1,366.75L171.82,366.75L171.82,366.9L170.54,366.9L170.54,366.9L169.25,366.9L169.25,366.18L167.97,366.18L167.97,366.17L166.69,366.17L166.69,365.14L165.4,365.14L165.4,364.69L164.12,364.69L164.12,364.94L162.84,364.94L162.84,364.45L161.56,364.45L161.56,363.8L160.27,363.8L160.27,363.25L158.99,363.25L158.99,362.82L157.71,362.82L157.71,362.05L156.43,362.05L156.43,362.05L155.14,362.05L155.14,361.66L153.86,361.66L153.86,362.16L152.58,362.16L152.58,361.49L151.29,361.49L151.29,360.91L150.01,360.91L150.01,361.51L148.73,361.51L148.73,361.02L147.45,361.02L147.45,360.5L146.16,360.5L146.16,360.81L144.88,360.81L144.88,361.15L143.6,361.15L143.6,361.15L142.31,361.15L142.31,361.62L141.03,361.62L141.03,362.31L139.75,362.31L139.75,362.26L138.47,362.26L138.47,363.35L137.18,363.35L137.18,363.14L135.9,363.14L135.9,363.12L134.62,363.12L134.62,363.75L133.34,363.75L133.34,363.65L132.05,363.65L132.05,364.12L130.77,364.12L130.77,363.96L129.49,363.96L129.49,363.8L128.2,363.8L128.2,364.46L126.92,364.46L126.92,365.06L125.64,365.06L125.64,364.88L124.36,364.88L124.36,365.02L123.07,365.02L123.07,366.18L121.79,366.18L121.79,366.27L120.51,366.27L120.51,366.31L119.23,366.31L119.23,366.44L117.94,366.44L117.94,367.49L116.66,367.49L116.66,367.82L115.38,367.82L115.38,367.8L114.09,367.8L114.09,368.88L112.81,368.88L112.81,369.51L111.53,369.51L111.53,370.84L110.25,370.84L110.25,371.72L108.96,371.72L108.96,372.13L107.68,372.13L107.68,372.73L106.4,372.73L106.4,373.76L105.12,373.76L105.12,373.95L103.83,373.95L103.83,375.47L102.55,375.47L102.55,375.79L101.27,375.79L101.27,377.32L99.98,377.32L99.98,378.36L98.7,378.36L98.7,379.7L97.42,379.7L97.42,381.42L96.14,381.42L96.14,382.03L94.85,382.03L94.85,383.73L93.57,383.73L93.57,384.75L92.29,384.75L92.29,384.53L91.01,384.53L91.01,385.5L89.72,385.5L89.72,385.72L88.44,385.72L88.44,386.09L87.16,386.09L87.16,386.9L85.87,386.9L85.87,385.92L84.59,385.92L84.59,385.81L83.31,385.81L83.31,385.52L82.03,385.52L82.03,384.44L80.74,384.44L80.74,384.77L79.46,384.77L79.46,383.54L78.18,383.54L78.18,382.55L76.9,382.55L76.9,382.17L75.61,382.17L75.61,380.96L74.33,380.96L74.33,379.72L73.05,379.72L73.05,378.94L71.76,378.94L71.76,377.87L70.48,377.87L70.48,377.86L69.2,377.86L69.2,376.86L67.92,376.86L67.92,376.18L66.63,376.18L66.63,374.99L65.35,374.99L65.35,374.12L64.07,374.12L64.07,373.84L62.79,373.84L62.79,374.52L61.5,374.52L61.5,373.85L60.22,373.85L60.22,373.96L58.94,373.96L58.94,374.72L57.65,374.72L57.65,373.54L56.37,373.54L56.37,372.76L55.09,372.76L55.09,372.51L53.81,372.51L53.81,370.2L52.52,370.2L52.52,367.6L51.24,367.6L51.24,365.02L49.96,365.02L49.96,363.29L48.68,363.29L48.68,360.78L47.39,360.78L47.39,358.95L46.11,358.95L46.11,357.54L44.83,357.54L44.83,357.26L43.54,357.26L43.54,355.8L42.26,355.8L42.26,355.33L40.98,355.33L40.98,354.93L39.7,354.93L39.7,354.74L38.41,354.74L38.41,355.41L37.13,355.41L37.13,354.36L35.85,354.36L35.85,354.74L34.57,354.74L34.57,354.47L33.28,354.47L33.28,354.26L32,354.26Z" fill="#e5ae4c"/>
<path d="M32,228.93L33.28,228.93L33.28,230.31L34.57,230.31L34.57,232.61L35.85,232.61L35.85,235.86L37.13,235.86L37.13,237.72L38.41,237.72L38.41,237.54L39.7,237.54L39.7,236.84L40.98,236.84L40.98,237.53L42.26,237.53L42.26,238.25L43.54,238.25L43.54,241.35L44.83,241.35L44.83,243.14L46.11,243.14L46.11,247.49L47.39,247.49L47.39,251.44L48.68,251.44L48.68,257.94L49.96,257.94L49.96,262.06L51.24,262.06L51.24,266.25L52.52,266.25L52.52,274.34L53.81,274.34L53.81,284.28L55.09,284.28L55.09,290.85L56.37,290.85L56.37,292L57.65,292L57.65,293.16L58.94,293.16L58.94,293.56L60.22,293.56L60.22,290.58L61.5,290.58L61.5,288.62L62.79,288.62L62.79,286.47L64.07,286.47L64.07,285.39L65.35,285.39L65.35,285.13L66.63,285.13L66.63,286.27L67.92,286.27L67.92,287.25L69.2,287.25L69.2,289.82L70.48,289.82L70.48,293.02L71.76,293.02L71.76,296.98L73.05,296.98L73.05,299.88L74.33,299.88L74.33,305.31L75.61,305.31L75.61,309.14L76.9,309.14L76.9,314.03L78.18,314.03L78.18,316.85L79.46,316.85L79.46,319.04L80.74,319.04L80.74,319.83L82.03,319.83L82.03,321.08L83.31,321.08L83.31,321.9L84.59,321.9L84.59,322.9L85.87,322.9L85.87,323.38L87.16,323.38L87.16,322.39L88.44,322.39L88.44,321.08L89.72,321.08L89.72,319.44L91.01,319.44L91.01,316.98L92.29,316.98L92.29,311.85L93.57,311.85L93.57,306.16L94.85,306.16L94.85,301.9L96.14,301.9L96.14,297.02L97.42,297.02L97.42,291.5L98.7,291.5L98.7,287.28L99.98,287.28L99.98,283.21L101.27,283.21L101.27,281.31L102.55,281.31L102.55,278.43L103.83,278.43L103.83,276.22L105.12,276.22L105.12,273.06L106.4,273.06L106.4,271.32L107.68,271.32L107.68,269.8L108.96,269.8L108.96,267.81L110.25,267.81L110.25,267.07L111.53,267.07L111.53,264.48L112.81,264.48L112.81,264L114.09,264L114.09,262.09L115.38,262.09L115.38,260.72L116.66,260.72L116.66,260.67L117.94,260.67L117.94,261.86L119.23,261.86L119.23,262.69L120.51,262.69L120.51,263.12L121.79,263.12L121.79,264.73L123.07,264.73L123.07,265.15L124.36,265.15L124.36,265.78L125.64,265.78L125.64,265.72L126.92,265.72L126.92,265.96L128.2,265.96L128.2,266.69L129.49,266.69L129.49,266.05L130.77,266.05L130.77,266.23L132.05,266.23L132.05,267.31L133.34,267.31L133.34,268.26L134.62,268.26L134.62,267.85L135.9,267.85L135.9,269.11L137.18,269.11L137.18,268.75L138.47,268.75L138.47,267.31L139.75,267.31L139.75,267.57L141.03,267.57L141.03,267.06L142.31,267.06L142.31,266.72L143.6,266.72L143.6,265.6L144.88,265.6L144.88,265.7L146.16,265.7L146.16,264.62L147.45,264.62L147.45,264.07L148.73,264.07L148.73,264.05L150.01,264.05L150.01,266.09L151.29,266.09L151.29,266.5L152.58,266.5L152.58,268.61L153.86,268.61L153.86,269.76L155.14,269.76L155.14,270.23L156.43,270.23L156.43,271.72L157.71,271.72L157.71,273.18L158.99,273.18L158.99,274.22L160.27,274.22L160.27,276.41L161.56,276.41L161.56,277.53L162.84,277.53L162.84,278.22L164.12,278.22L164.12,280.31L165.4,280.31L165.4,280.36L166.69,280.36L166.69,281.96L167.97,281.96L167.97,281.73L169.25,281.73L169.25,285.44L170.54,285.44L170.54,287.36L171.82,287.36L171.82,289.37L173.1,289.37L173.1,290.51L174.38,290.51L174.38,291.32L175.67,291.32L175.67,290.67L176.95,290.67L176.95,291.68L178.23,291.68L178.23,292.7L179.51,292.7L179.51,292.76L180.8,292.76L180.8,293.3L182.08,293.3L182.08,294.11L183.36,294.11L183.36,293.57L184.65,293.57L184.65,293.9L185.93,293.9L185.93,293.6L187.21,293.6L187.21,294.46L188.49,294.46L188.49,294.91L189.78,294.91L189.78,294.96L191.06,294.96L191.06,295.72L192.34,295.72L192.34,295.56L193.62,295.56L193.62,295.16L194.91,295.16L194.91,295.56L196.19,295.56L196.19,296.09L197.47,296.09L197.47,295.95L198.76,295.95L198.76,296.27L200.04,296.27L200.04,296.71L201.32,296.71L201.32,295.93L202.6,295.93L202.6,294.51L203.89,294.51L203.89,295.96L205.17,295.96L205.17,298.33L206.45,298.33L206.45,298.8L207.73,298.8L207.73,300.11L209.02,300.11L209.02,301.55L210.3,301.55L210.3,303.24L211.58,303.24L211.58,306.14L212.87,306.14L212.87,307.6L214.15,307.6L214.15,309.98L215.43,309.98L215.43,312.86L216.71,312.86L216.71,315.25L218,315.25L218,318.11L219.28,318.11L219.28,321L220.56,321L220.56,322.84L221.84,322.84L221.84,324.06L223.13,324.06L223.13,325.41L224.41,325.41L224.41,325.91L225.69,325.91L225.69,326.65L226.98,326.65L226.98,327.52L228.26,327.52L228.26,327.18L229.54,327.18L229.54,327.56L230.82,327.56L230.82,327.57L232.11,327.57L232.11,327.09L233.39,327.09L233.39,326.67L234.67,326.67L234.67,326.58L235.95,326.58L235.95,325.58L237.24,325.58L237.24,324.28L238.52,324.28L238.52,324.83L239.8,324.83L239.8,324.75L241.09,324.75L241.09,325.62L242.37,325.62L242.37,324.32L243.65,324.32L243.65,324.39L244.93,324.39L244.93,323.24L246.22,323.24L246.22,323.47L247.5,323.47L247.5,323.92L248.78,323.92L248.78,323.26L250.06,323.26L250.06,323.33L251.35,323.33L251.35,323.11L252.63,323.11L252.63,322.82L253.91,322.82L253.91,321.09L255.2,321.09L255.2,319.85L256.48,319.85L256.48,320.06L257.76,320.06L257.76,318.36L259.04,318.36L259.04,317.51L260.33,317.51L260.33,315.55L261.61,315.55L261.61,314.53L262.89,314.53L262.89,313.64L264.17,313.64L264.17,312.65L265.46,312.65L265.46,311.65L266.74,311.65L266.74,309.9L268.02,309.9L268.02,308.38L269.31,308.38L269.31,306.49L270.59,306.49L270.59,305.82L271.87,305.82L271.87,304.53L273.15,304.53L273.15,303.78L274.44,303.78L274.44,304.25L275.72,304.25L275.72,303.44L277,303.44L277,302.39L278.28,302.39L278.28,303.77L279.57,303.77L279.57,303.98L280.85,303.98L280.85,305.69L282.13,305.69L282.13,306.63L283.42,306.63L283.42,306.83L284.7,306.83L284.7,307.02L285.98,307.02L285.98,305.24L287.26,305.24L287.26,303.82L288.55,303.82L288.55,303.76L289.83,303.76L289.83,302.17L291.11,302.17L291.11,301.56L292.39,301.56L292.39,299.84L293.68,299.84L293.68,299.77L294.96,299.77L294.96,298.58L296.24,298.58L296.24,298.11L297.53,298.11L297.53,297.07L298.81,297.07L298.81,296.32L300.09,296.32L300.09,294.75L301.37,294.75L301.37,294.8L302.66,294.8L302.66,295.36L303.94,295.36L303.94,295.67L305.22,295.67L305.22,295.2L306.5,295.2L306.5,296.14L307.79,296.14L307.79,296.63L309.07,296.63L309.07,296.2L310.35,296.2L310.35,296.32L311.64,296.32L311.64,296.65L312.92,296.65L312.92,296.5L314.2,296.5L314.2,295.54L315.48,295.54L315.48,295.45L316.77,295.45L316.77,294.55L318.05,294.55L318.05,292.87L319.33,292.87L319.33,290.89L320.61,290.89L320.61,289.07L321.9,289.07L321.9,288.33L323.18,288.33L323.18,287.93L324.46,287.93L324.46,286.72L325.75,286.72L325.75,286.2L327.03,286.2L327.03,284.84L328.31,284.84L328.31,284.07L329.59,284.07L329.59,283.92L330.88,283.92L330.88,281.78L332.16,281.78L332.16,280.58L333.44,280.58L333.44,279.43L334.72,279.43L334.72,277.1L336.01,277.1L336.01,275.64L337.29,275.64L337.29,274.11L338.57,274.11L338.57,270.96L339.86,270.96L339.86,270.35L341.14,270.35L341.14,271.36L342.42,271.36L342.42,272.16L343.7,272.16L343.7,271.9L344.99,271.9L344.99,272.27L346.27,272.27L346.27,271.52L347.55,271.52L347.55,272.23L348.83,272.23L348.83,272.59L350.12,272.59L350.12,273.14L351.4,273.14L351.4,272.67L352.68,272.67L352.68,272.48L353.97,272.48L353.97,272.37L355.25,272.37L355.25,272.54L356.53,272.54L356.53,272.25L357.81,272.25L357.81,272.82L359.1,272.82L359.1,272.82L360.38,272.82L360.38,273.01L361.66,273.01L361.66,273.36L362.94,273.36L362.94,273.28L364.23,273.28L364.23,274.2L365.51,274.2L365.51,273.9L366.79,273.9L366.79,274.05L368.08,274.05L368.08,275.56L369.36,275.56L369.36,274.25L370.64,274.25L370.64,273.71L371.92,273.71L371.92,272.56L373.21,272.56L373.21,273.18L374.49,273.18L374.49,271.65L375.77,271.65L375.77,271.77L377.06,271.77L377.06,271.18L378.34,271.18L378.34,269.58L379.62,269.58L379.62,270.74L380.9,270.74L380.9,271.15L382.19,271.15L382.19,271.2L383.47,271.2L383.47,272L384.75,272L384.75,272.36L386.03,272.36L386.03,272.95L387.32,272.95L387.32,272.37L388.6,272.37L388.6,270.56L389.88,270.56L389.88,270.53L391.17,270.53L391.17,269.5L392.45,269.5L392.45,269.56L393.73,269.56L393.73,268.23L395.01,268.23L395.01,268.33L396.3,268.33L396.3,268.1L397.58,268.1L397.58,267.62L398.86,267.62L398.86,267.54L400.14,267.54L400.14,267.87L401.43,267.87L401.43,267.11L402.71,267.11L402.71,267.07L403.99,267.07L403.99,266L405.28,266L405.28,265.91L406.56,265.91L406.56,264.41L407.84,264.41L407.84,263.85L409.12,263.85L409.12,262.43L410.41,262.43L410.41,261.54L411.69,261.54L411.69,257.28L412.97,257.28L412.97,254.39L414.25,254.39L414.25,251.05L415.54,251.05L415.54,249.38L416.82,249.38L416.82,246.67L418.1,246.67L418.1,244.8L419.39,244.8L419.39,242.69L420.67,242.69L420.67,241.25L421.95,241.25L421.95,239.73L423.23,239.73L423.23,239.94L424.52,239.94L424.52,239.39L425.8,239.39L425.8,238.87L427.08,238.87L427.08,238.16L428.36,238.16L428.36,237.36L429.65,237.36L429.65,236.62L430.93,236.62L430.93,234.42L432.21,234.42L432.21,232.64L433.5,232.64L433.5,231.19L434.78,231.19L434.78,230.78L436.06,230.78L436.06,229.03L437.34,229.03L437.34,228.03L438.63,228.03L438.63,227.34L439.91,227.34L439.91,226.44L441.19,226.44L441.19,226.15L442.47,226.15L442.47,224.57L443.76,224.57L443.76,222.52L445.04,222.52L445.04,220.56L446.32,220.56L446.32,218.79L447.61,218.79L447.61,216.67L448.89,216.67L448.89,215.6L450.17,215.6L450.17,216.25L451.45,216.25L451.45,218.36L452.74,218.36L452.74,218.73L454.02,218.73L454.02,221.08L455.3,221.08L455.3,224.3L456.58,224.3L456.58,227.38L457.87,227.38L457.87,230.41L459.15,230.41L459.15,232.68L460.43,232.68L460.43,235.65L461.72,235.65L461.72,237.63L463,237.63L463,240.01L464.28,240.01L464.28,242.65L465.56,242.65L465.56,244.36L466.85,244.36L466.85,246.02L468.13,246.02L468.13,249.42L469.41,249.42L469.41,253.81L470.69,253.81L470.69,256.43L471.98,256.43L471.98,260.28L473.26,260.28L473.26,263.33L474.54,263.33L474.54,264.76L475.83,264.76L475.83,267.57L477.11,267.57L477.11,268.79L478.39,268.79L478.39,271.04L479.67,271.04L479.67,273.18L480.96,273.18L480.96,276.29L482.24,276.29L482.24,278.79L483.52,278.79L483.52,280.91L484.8,280.91L484.8,283.81L486.09,283.81L486.09,286.77L487.37,286.77L487.37,291.27L488.65,291.27L488.65,295.34L489.94,295.34L489.94,300.11L491.22,300.11L491.22,303.92L492.5,303.92L492.5,311.04L493.78,311.04L493.78,317.76L495.07,317.76L495.07,321.84L496.35,321.84L496.35,323.94L497.63,323.94L497.63,326.33L498.91,326.33L498.91,328.35L500.2,328.35L500.2,330.22L501.48,330.22L501.48,333.35L502.76,333.35L502.76,337.48L504.05,337.48L504.05,339.76L505.33,339.76L505.33,341.51L506.61,341.51L506.61,344.41L507.89,344.41L507.89,346.2L509.18,346.2L509.18,347.54L510.46,347.54L510.46,348.7L511.74,348.7L511.74,350.96L513.02,350.96L513.02,352.56L514.31,352.56L514.31,354.87L515.59,354.87L515.59,356.14L516.87,356.14L516.87,357.45L518.16,357.45L518.16,357.46L519.44,357.46L519.44,358.58L520.72,358.58L520.72,358.39L522,358.39L522,358.77L523.29,358.77L523.29,358.47L524.57,358.47L524.57,359.04L525.85,359.04L525.85,359.54L527.13,359.54L527.13,359.22L528.42,359.22L528.42,359.95L529.7,359.95L529.7,359.39L530.98,359.39L530.98,359.96L532.27,359.96L532.27,359.63L533.55,359.63L533.55,360.31L534.83,360.31L534.83,359.34L536.11,359.34L536.11,358.51L537.4,358.51L537.4,357.97L538.68,357.97L538.68,356.89L539.96,356.89L539.96,355.33L541.24,355.33L541.24,354.95L542.53,354.95L542.53,352.78L543.81,352.78L543.81,351.36L545.09,351.36L545.09,350.79L546.38,350.79L546.38,349.18L547.66,349.18L547.66,348.03L548.94,348.03L548.94,347.11L550.22,347.11L550.22,346.19L551.51,346.19L551.51,344.99L552.79,344.99L552.79,343.25L554.07,343.25L554.07,342.28L555.35,342.28L555.35,339.3L556.64,339.3L556.64,338.14L557.92,338.14L557.92,336.11L559.2,336.11L559.2,334.2L560.49,334.2L560.49,332.39L561.77,332.39L561.77,329.88L563.05,329.88L563.05,327.17L564.33,327.17L564.33,325.79L565.62,325.79L565.62,328.35L566.9,328.35L566.9,324.61L568.18,324.61L568.18,319.75L569.46,319.75L569.46,316.79L570.75,316.79L570.75,314.04L572.03,314.04L572.03,313.01L573.31,313.01L573.31,312.19L574.6,312.19L574.6,310.67L575.88,310.67L575.88,310.09L577.16,310.09L577.16,308.14L578.44,308.14L578.44,306.42L579.73,306.42L579.73,306.26L581.01,306.26L581.01,304.65L582.29,304.65L582.29,303.97L583.57,303.97L583.57,302.38L584.86,302.38L584.86,301.36L586.14,301.36L586.14,300.72L587.42,300.72L587.42,300.29L588.71,300.29L588.71,298.51L589.99,298.51L589.99,297.92L591.27,297.92L591.27,296.84L592.55,296.84L592.55,295.75L593.84,295.75L593.84,295.3L595.12,295.3L595.12,294.35L596.4,294.35L596.4,291.98L597.69,291.98L597.69,289.9L598.97,289.9L598.97,288.15L600.25,288.15L600.25,286.34L601.53,286.34L601.53,285.95L602.82,285.95L602.82,284.62L604.1,284.62L604.1,284.81L605.38,284.81L605.38,283.24L606.66,283.24L606.66,282.9L607.95,282.9L607.95,282.66L609.23,282.66L609.23,281.5L610.51,281.5L610.51,279.44L611.8,279.44L611.8,278.37L613.08,278.37L613.08,276.98L614.36,276.98L614.36,275.73L615.64,275.73L615.64,274.62L616.93,274.62L616.93,273.52L618.21,273.52L618.21,273.76L619.49,273.76L619.49,272.55L620.77,272.55L620.77,272.22L622.06,272.22L622.06,271.98L623.34,271.98L623.34,272.89L624.62,272.89L624.62,271.69L625.91,271.69L625.91,271.55L627.19,271.55L627.19,270.7L628.47,270.7L628.47,269.52L629.75,269.52L629.75,267.5L631.04,267.5L631.04,266.69L632.32,266.69L632.32,266.26L633.6,266.26L633.6,265.28L634.88,265.28L634.88,264.74L636.17,264.74L636.17,264.88L637.45,264.88L637.45,264.03L638.73,264.03L638.73,263.74L640.02,263.74L640.02,262.83L641.3,262.83L641.3,261.77L642.58,261.77L642.58,262L643.86,262L643.86,261.29L645.15,261.29L645.15,261.35L646.43,261.35L646.43,260.69L647.71,260.69L647.71,258.88L648.99,258.88L648.99,259.89L650.28,259.89L650.28,261.04L651.56,261.04L651.56,261.95L652.84,261.95L652.84,262.23L654.13,262.23L654.13,260.42L655.41,260.42L655.41,260.01L656.69,260.01L656.69,258.92L657.97,258.92L657.97,257.97L659.26,257.97L659.26,256.82L660.54,256.82L660.54,254.85L661.82,254.85L661.82,253.39L663.1,253.39L663.1,251.43L664.39,251.43L664.39,248.81L665.67,248.81L665.67,247.73L666.95,247.73L666.95,249.98L668.24,249.98L668.24,252.86L669.52,252.86L669.52,253.98L670.8,253.98L670.8,252.23L672.08,252.23L672.08,250.84L673.37,250.84L673.37,248.77L674.65,248.77L674.65,246.46L675.93,246.46L675.93,243.92L677.21,243.92L677.21,241.7L678.5,241.7L678.5,239.44L679.78,239.44L679.78,237.83L681.06,237.83L681.06,235.93L682.35,235.93L682.35,233.92L683.63,233.92L683.63,231.96L684.91,231.96L684.91,229.32L686.19,229.32L686.19,226.54L687.48,226.54L687.48,224.28L688.76,224.28L688.76,221.77L690.04,221.77L690.04,218.5L691.32,218.5L691.32,215.21L692.61,215.21L692.61,212.29L693.89,212.29L693.89,208.99L695.17,208.99L695.17,205.29L696.46,205.29L696.46,200.94L697.74,200.94L697.74,195.17L699.02,195.17L699.02,190.18L700.3,190.18L700.3,185.79L701.59,185.79L701.59,180.42L702.87,180.42L702.87,179.63L704.15,179.63L704.15,178.28L705.43,178.28L705.43,177.52L706.72,177.52L706.72,177.03L708,177.03L708,212.05L706.72,212.05L706.72,212.48L705.43,212.48L705.43,213.56L704.15,213.56L704.15,214.03L702.87,214.03L702.87,214.08L701.59,214.08L701.59,214.19L700.3,214.19L700.3,216.59L699.02,216.59L699.02,218.81L697.74,218.81L697.74,220.79L696.46,220.79L696.46,224.05L695.17,224.05L695.17,226.51L693.89,226.51L693.89,230.55L692.61,230.55L692.61,234.28L691.32,234.28L691.32,237.54L690.04,237.54L690.04,241.39L688.76,241.39L688.76,245.58L687.48,245.58L687.48,248.38L686.19,248.38L686.19,252.32L684.91,252.32L684.91,256.03L683.63,256.03L683.63,259.29L682.35,259.29L682.35,261.44L681.06,261.44L681.06,263.21L679.78,263.21L679.78,265.5L678.5,265.5L678.5,267.95L677.21,267.95L677.21,269.38L675.93,269.38L675.93,271.4L674.65,271.4L674.65,272.89L673.37,272.89L673.37,274.06L672.08,274.06L672.08,276.21L670.8,276.21L670.8,276.35L669.52,276.35L669.52,275.3L668.24,275.3L668.24,273.13L666.95,273.13L666.95,270.86L665.67,270.86L665.67,273.24L664.39,273.24L664.39,275.9L663.1,275.9L663.1,279.21L661.82,279.21L661.82,279.69L660.54,279.69L660.54,280.29L659.26,280.29L659.26,281.59L657.97,281.59L657.97,282.19L656.69,282.19L656.69,282.39L655.41,282.39L655.41,283.39L654.13,283.39L654.13,283.66L652.84,283.66L652.84,283.48L651.56,283.48L651.56,284.18L650.28,284.18L650.28,284.16L648.99,284.16L648.99,285.16L647.71,285.16L647.71,284.71L646.43,284.71L646.43,284.75L645.15,284.75L645.15,285.02L643.86,285.02L643.86,285.96L642.58,285.96L642.58,286.29L641.3,286.29L641.3,286.7L640.02,286.7L640.02,286.97L638.73,286.97L638.73,287.85L637.45,287.85L637.45,288.61L636.17,288.61L636.17,289.2L634.88,289.2L634.88,290.76L633.6,290.76L633.6,290.73L632.32,290.73L632.32,292.3L631.04,292.3L631.04,292.28L629.75,292.28L629.75,293.77L628.47,293.77L628.47,293.99L627.19,293.99L627.19,295.12L625.91,295.12L625.91,295.41L624.62,295.41L624.62,296L623.34,296L623.34,296.33L622.06,296.33L622.06,296.6L620.77,296.6L620.77,296.07L619.49,296.07L619.49,296.79L618.21,296.79L618.21,296.85L616.93,296.85L616.93,296.97L615.64,296.97L615.64,297.02L614.36,297.02L614.36,298.32L613.08,298.32L613.08,299.62L611.8,299.62L611.8,300.98L610.51,300.98L610.51,301.22L609.23,301.22L609.23,302.42L607.95,302.42L607.95,303.09L606.66,303.09L606.66,304.75L605.38,304.75L605.38,305.14L604.1,305.14L604.1,305.97L602.82,305.97L602.82,306.55L601.53,306.55L601.53,306.46L600.25,306.46L600.25,307.4L598.97,307.4L598.97,309.24L597.69,309.24L597.69,309.15L596.4,309.15L596.4,310.52L595.12,310.52L595.12,312.66L593.84,312.66L593.84,313.95L592.55,313.95L592.55,316L591.27,316L591.27,317.42L589.99,317.42L589.99,317.58L588.71,317.58L588.71,318.57L587.42,318.57L587.42,319.13L586.14,319.13L586.14,319.63L584.86,319.63L584.86,320.86L583.57,320.86L583.57,321.37L582.29,321.37L582.29,322.74L581.01,322.74L581.01,323.68L579.73,323.68L579.73,325.27L578.44,325.27L578.44,325.66L577.16,325.66L577.16,327.12L575.88,327.12L575.88,328.14L574.6,328.14L574.6,330.17L573.31,330.17L573.31,331.12L572.03,331.12L572.03,332.58L570.75,332.58L570.75,333.81L569.46,333.81L569.46,335.75L568.18,335.75L568.18,337.25L566.9,337.25L566.9,339.15L565.62,339.15L565.62,343.21L564.33,343.21L564.33,344.79L563.05,344.79L563.05,346.08L561.77,346.08L561.77,346.89L560.49,346.89L560.49,347.49L559.2,347.49L559.2,349.01L557.92,349.01L557.92,350.56L556.64,350.56L556.64,351.99L555.35,351.99L555.35,353.65L554.07,353.65L554.07,354.32L552.79,354.32L552.79,355.58L551.51,355.58L551.51,357.25L550.22,357.25L550.22,358.21L548.94,358.21L548.94,360.21L547.66,360.21L547.66,361.39L546.38,361.39L546.38,362.03L545.09,362.03L545.09,363.44L543.81,363.44L543.81,364.25L542.53,364.25L542.53,365.39L541.24,365.39L541.24,366.63L539.96,366.63L539.96,368.03L538.68,368.03L538.68,368.19L537.4,368.19L537.4,368.25L536.11,368.25L536.11,369.18L534.83,369.18L534.83,370.02L533.55,370.02L533.55,369.98L532.27,369.98L532.27,369.11L530.98,369.11L530.98,369.72L529.7,369.72L529.7,369.17L528.42,369.17L528.42,369.17L527.13,369.17L527.13,370.03L525.85,370.03L525.85,369.46L524.57,369.46L524.57,369.06L523.29,369.06L523.29,369.45L522,369.45L522,368.3L520.72,368.3L520.72,367.83L519.44,367.83L519.44,368.01L518.16,368.01L518.16,366.84L516.87,366.84L516.87,365.05L515.59,365.05L515.59,363.28L514.31,363.28L514.31,362.04L513.02,362.04L513.02,360.43L511.74,360.43L511.74,358.39L510.46,358.39L510.46,355.84L509.18,355.84L509.18,353.34L507.89,353.34L507.89,351.31L506.61,351.31L506.61,350.51L505.33,350.51L505.33,347.89L504.05,347.89L504.05,346.34L502.76,346.34L502.76,342.92L501.48,342.92L501.48,341.04L500.2,341.04L500.2,338.02L498.91,338.02L498.91,335.86L497.63,335.86L497.63,332.68L496.35,332.68L496.35,330.42L495.07,330.42L495.07,329.01L493.78,329.01L493.78,327.55L492.5,327.55L492.5,322.53L491.22,322.53L491.22,317.66L489.94,317.66L489.94,314.45L488.65,314.45L488.65,311.96L487.37,311.96L487.37,309.77L486.09,309.77L486.09,307.44L484.8,307.44L484.8,304.79L483.52,304.79L483.52,303.27L482.24,303.27L482.24,301.13L480.96,301.13L480.96,299.31L479.67,299.31L479.67,296.6L478.39,296.6L478.39,294.42L477.11,294.42L477.11,292.38L475.83,292.38L475.83,290.8L474.54,290.8L474.54,289.61L473.26,289.61L473.26,287.8L471.98,287.8L471.98,284.93L470.69,284.93L470.69,282.02L469.41,282.02L469.41,280.38L468.13,280.38L468.13,278.54L466.85,278.54L466.85,276.32L465.56,276.32L465.56,275.24L464.28,275.24L464.28,272.89L463,272.89L463,271.08L461.72,271.08L461.72,268.32L460.43,268.32L460.43,265.42L459.15,265.42L459.15,262.45L457.87,262.45L457.87,260.22L456.58,260.22L456.58,256.97L455.3,256.97L455.3,255.64L454.02,255.64L454.02,254.13L452.74,254.13L452.74,253.02L451.45,253.02L451.45,251.63L450.17,251.63L450.17,251.35L448.89,251.35L448.89,252.62L447.61,252.62L447.61,253.36L446.32,253.36L446.32,254.31L445.04,254.31L445.04,256.19L443.76,256.19L443.76,256.01L442.47,256.01L442.47,257.28L441.19,257.28L441.19,258.02L439.91,258.02L439.91,258.87L438.63,258.87L438.63,259.85L437.34,259.85L437.34,260.73L436.06,260.73L436.06,262.09L434.78,262.09L434.78,262.86L433.5,262.86L433.5,264.11L432.21,264.11L432.21,265.77L430.93,265.77L430.93,266.61L429.65,266.61L429.65,267.46L428.36,267.46L428.36,269.62L427.08,269.62L427.08,271.51L425.8,271.51L425.8,272.19L424.52,272.19L424.52,274.57L423.23,274.57L423.23,275.08L421.95,275.08L421.95,276.04L420.67,276.04L420.67,276.95L419.39,276.95L419.39,277.86L418.1,277.86L418.1,279.32L416.82,279.32L416.82,281.6L415.54,281.6L415.54,284.84L414.25,284.84L414.25,287.56L412.97,287.56L412.97,290.38L411.69,290.38L411.69,293.74L410.41,293.74L410.41,295.88L409.12,295.88L409.12,296.44L407.84,296.44L407.84,297.81L406.56,297.81L406.56,297.72L405.28,297.72L405.28,298.87L403.99,298.87L403.99,299.5L402.71,299.5L402.71,299.06L401.43,299.06L401.43,299.77L400.14,299.77L400.14,300.05L398.86,300.05L398.86,300.49L397.58,300.49L397.58,301.11L396.3,301.11L396.3,300.32L395.01,300.32L395.01,301.23L393.73,301.23L393.73,301.3L392.45,301.3L392.45,301.72L391.17,301.72L391.17,302.44L389.88,302.44L389.88,303L388.6,303L388.6,303.03L387.32,303.03L387.32,303.89L386.03,303.89L386.03,303.06L384.75,303.06L384.75,302.72L383.47,302.72L383.47,303.05L382.19,303.05L382.19,302.54L380.9,302.54L380.9,301.2L379.62,301.2L379.62,301.42L378.34,301.42L378.34,301.51L377.06,301.51L377.06,302.18L375.77,302.18L375.77,302.83L374.49,302.83L374.49,303.82L373.21,303.82L373.21,303.92L371.92,303.92L371.92,305.49L370.64,305.49L370.64,305.51L369.36,305.51L369.36,306.22L368.08,306.22L368.08,306.34L366.79,306.34L366.79,305.9L365.51,305.9L365.51,305.78L364.23,305.78L364.23,304.77L362.94,304.77L362.94,304.81L361.66,304.81L361.66,304.19L360.38,304.19L360.38,303.7L359.1,303.7L359.1,304.23L357.81,304.23L357.81,304.24L356.53,304.24L356.53,304.24L355.25,304.24L355.25,304.18L353.97,304.18L353.97,304.05L352.68,304.05L352.68,303.64L351.4,303.64L351.4,303.32L350.12,303.32L350.12,303.55L348.83,303.55L348.83,303.36L347.55,303.36L347.55,303.71L346.27,303.71L346.27,303.86L344.99,303.86L344.99,303.52L343.7,303.52L343.7,303.37L342.42,303.37L342.42,303.37L341.14,303.37L341.14,304.23L339.86,304.23L339.86,303.87L338.57,303.87L338.57,304.54L337.29,304.54L337.29,306.59L336.01,306.59L336.01,307.34L334.72,307.34L334.72,308.9L333.44,308.9L333.44,309.59L332.16,309.59L332.16,311.63L330.88,311.63L330.88,312.56L329.59,312.56L329.59,313.43L328.31,313.43L328.31,314.58L327.03,314.58L327.03,315.36L325.75,315.36L325.75,316.38L324.46,316.38L324.46,317.97L323.18,317.97L323.18,317.89L321.9,317.89L321.9,319.71L320.61,319.71L320.61,320.1L319.33,320.1L319.33,320.59L318.05,320.59L318.05,322.01L316.77,322.01L316.77,322.87L315.48,322.87L315.48,322.56L314.2,322.56L314.2,323.56L312.92,323.56L312.92,323.55L311.64,323.55L311.64,324.14L310.35,324.14L310.35,324.51L309.07,324.51L309.07,325.51L307.79,325.51L307.79,324.42L306.5,324.42L306.5,324.74L305.22,324.74L305.22,324.24L303.94,324.24L303.94,324.44L302.66,324.44L302.66,323.78L301.37,323.78L301.37,323.85L300.09,323.85L300.09,323.64L298.81,323.64L298.81,324.51L297.53,324.51L297.53,325.32L296.24,325.32L296.24,325.69L294.96,325.69L294.96,326.89L293.68,326.89L293.68,327.02L292.39,327.02L292.39,327.47L291.11,327.47L291.11,327.51L289.83,327.51L289.83,328.97L288.55,328.97L288.55,329.1L287.26,329.1L287.26,330.25L285.98,330.25L285.98,331.57L284.7,331.57L284.7,331.56L283.42,331.56L283.42,331.16L282.13,331.16L282.13,330.43L280.85,330.43L280.85,329.79L279.57,329.79L279.57,330.39L278.28,330.39L278.28,329.81L277,329.81L277,330.39L275.72,330.39L275.72,330.77L274.44,330.77L274.44,331.77L273.15,331.77L273.15,331.45L271.87,331.45L271.87,332.06L270.59,332.06L270.59,333.39L269.31,333.39L269.31,334.58L268.02,334.58L268.02,335.29L266.74,335.29L266.74,336.31L265.46,336.31L265.46,337.22L264.17,337.22L264.17,338.13L262.89,338.13L262.89,338.3L261.61,338.3L261.61,339.56L260.33,339.56L260.33,339.69L259.04,339.69L259.04,340.47L257.76,340.47L257.76,341.87L256.48,341.87L256.48,342.32L255.2,342.32L255.2,343.4L253.91,343.4L253.91,344.04L252.63,344.04L252.63,344.44L251.35,344.44L251.35,345.72L250.06,345.72L250.06,345.44L248.78,345.44L248.78,346.37L247.5,346.37L247.5,345.55L246.22,345.55L246.22,345.75L244.93,345.75L244.93,346.11L243.65,346.11L243.65,346L242.37,346L242.37,346.66L241.09,346.66L241.09,347.29L239.8,347.29L239.8,347.4L238.52,347.4L238.52,347.49L237.24,347.49L237.24,346.61L235.95,346.61L235.95,347.05L234.67,347.05L234.67,347.42L233.39,347.42L233.39,347.14L232.11,347.14L232.11,347.54L230.82,347.54L230.82,347L229.54,347L229.54,346.7L228.26,346.7L228.26,347.48L226.98,347.48L226.98,346.74L225.69,346.74L225.69,345.99L224.41,345.99L224.41,345.49L223.13,345.49L223.13,344.28L221.84,344.28L221.84,342.36L220.56,342.36L220.56,341.31L219.28,341.31L219.28,338.22L218,338.22L218,335.96L216.71,335.96L216.71,334.03L215.43,334.03L215.43,331.4L214.15,331.4L214.15,329.84L212.87,329.84L212.87,326.68L211.58,326.68L211.58,326.25L210.3,326.25L210.3,324.08L209.02,324.08L209.02,323.63L207.73,323.63L207.73,323.01L206.45,323.01L206.45,321.69L205.17,321.69L205.17,321.52L203.89,321.52L203.89,321.2L202.6,321.2L202.6,320.6L201.32,320.6L201.32,320.28L200.04,320.28L200.04,319.63L198.76,319.63L198.76,319.83L197.47,319.83L197.47,319.22L196.19,319.22L196.19,319.8L194.91,319.8L194.91,319.55L193.62,319.55L193.62,319.84L192.34,319.84L192.34,318.88L191.06,318.88L191.06,318.21L189.78,318.21L189.78,318.73L188.49,318.73L188.49,317.97L187.21,317.97L187.21,318.26L185.93,318.26L185.93,317.45L184.65,317.45L184.65,317.56L183.36,317.56L183.36,316.22L182.08,316.22L182.08,316.64L180.8,316.64L180.8,317.16L179.51,317.16L179.51,316.67L178.23,316.67L178.23,317.07L176.95,317.07L176.95,316.26L175.67,316.26L175.67,316.39L174.38,316.39L174.38,315.3L173.1,315.3L173.1,313.27L171.82,313.27L171.82,312.6L170.54,312.6L170.54,311.29L169.25,311.29L169.25,309.52L167.97,309.52L167.97,307.79L166.69,307.79L166.69,307.3L165.4,307.3L165.4,306.77L164.12,306.77L164.12,305.1L162.84,305.1L162.84,304.14L161.56,304.14L161.56,303.65L160.27,303.65L160.27,302.1L158.99,302.1L158.99,300.72L157.71,300.72L157.71,299.1L156.43,299.1L156.43,297.52L155.14,297.52L155.14,295.34L153.86,295.34L153.86,293.51L152.58,293.51L152.58,292.69L151.29,292.69L151.29,292.61L150.01,292.61L150.01,292.99L148.73,292.99L148.73,291.74L147.45,291.74L147.45,292.41L146.16,292.41L146.16,291.27L144.88,291.27L144.88,291.39L143.6,291.39L143.6,292.17L142.31,292.17L142.31,291.61L141.03,291.61L141.03,291.78L139.75,291.78L139.75,291.78L138.47,291.78L138.47,291.74L137.18,291.74L137.18,291.54L135.9,291.54L135.9,290.98L134.62,290.98L134.62,289.47L133.34,289.47L133.34,289.67L132.05,289.67L132.05,288.52L130.77,288.52L130.77,288.41L129.49,288.41L129.49,288.1L128.2,288.1L128.2,287.57L126.92,287.57L126.92,286.72L125.64,286.72L125.64,286.42L124.36,286.42L124.36,285.85L123.07,285.85L123.07,284.97L121.79,284.97L121.79,285.13L120.51,285.13L120.51,284L119.23,284L119.23,283.51L117.94,283.51L117.94,282.54L116.66,282.54L116.66,282.45L115.38,282.45L115.38,281.47L114.09,281.47L114.09,282.74L112.81,282.74L112.81,284.96L111.53,284.96L111.53,285.35L110.25,285.35L110.25,287.51L108.96,287.51L108.96,290.04L107.68,290.04L107.68,292.25L106.4,292.25L106.4,295.54L105.12,295.54L105.12,297.52L103.83,297.52L103.83,299.93L102.55,299.93L102.55,302.52L101.27,302.52L101.27,306.43L99.98,306.43L99.98,310.34L98.7,310.34L98.7,314.92L97.42,314.92L97.42,320.26L96.14,320.26L96.14,324.18L94.85,324.18L94.85,328.25L93.57,328.25L93.57,331.5L92.29,331.5L92.29,334.12L91.01,334.12L91.01,335.09L89.72,335.09L89.72,336.87L88.44,336.87L88.44,337.82L87.16,337.82L87.16,337.84L85.87,337.84L85.87,337.66L84.59,337.66L84.59,337.88L83.31,337.88L83.31,337.48L82.03,337.48L82.03,335.52L80.74,335.52L80.74,335.42L79.46,335.42L79.46,333.44L78.18,333.44L78.18,331.18L76.9,331.18L76.9,329.17L75.61,329.17L75.61,327.75L74.33,327.75L74.33,324.42L73.05,324.42L73.05,321.36L71.76,321.36L71.76,318.35L70.48,318.35L70.48,315.86L69.2,315.86L69.2,314.99L67.92,314.99L67.92,313.56L66.63,313.56L66.63,312.84L65.35,312.84L65.35,313.19L64.07,313.19L64.07,314.19L62.79,314.19L62.79,314.73L61.5,314.73L61.5,316.12L60.22,316.12L60.22,315.95L58.94,315.95L58.94,316.98L57.65,316.98L57.65,317.06L56.37,317.06L56.37,311.98L55.09,311.98L55.09,305.28L53.81,305.28L53.81,299.43L52.52,299.43L52.52,296.93L51.24,296.93L51.24,294.69L49.96,294.69L49.96,291.91L48.68,291.91L48.68,290.1L47.39,290.1L47.39,287.46L46.11,287.46L46.11,285.16L44.83,285.16L44.83,284.17L43.54,284.17L43.54,282.45L42.26,282.45L42.26,281.35L40.98,281.35L40.98,279.98L39.7,279.98L39.7,279.91L38.41,279.91L38.41,281.25L37.13,281.25L37.13,281.26L35.85,281.26L35.85,280.4L34.57,280.4L34.57,278.08L33.28,278.08L33.28,275.98L32,275.98Z" fill="#b5cf6a"/>
<path d="M32,202.43L33.28,202.43L33.28,203.59L34.57,203.59L34.57,204.65L35.85,204.65L35.85,205.79L37.13,205.79L37.13,209.41L38.41,209.41L38.41,210.76L39.7,210.76L39.7,213.17L40.98,213.17L40.98,214.65L42.26,214.65L42.26,215.06L43.54,215.06L43.54,217.97L44.83,217.97L44.83,220.55L46.11,220.55L46.11,225.03L47.39,225.03L47.39,229.77L48.68,229.77L48.68,236.98L49.96,236.98L49.96,243.57L51.24,243.57L51.24,253.72L52.52,253.72L52.52,263.89L53.81,263.89L53.81,273.41L55.09,273.41L55.09,277.28L56.37,277.28L56.37,275.96L57.65,275.96L57.65,274.98L58.94,274.98L58.94,272.46L60.22,272.46L60.22,269.85L61.5,269.85L61.5,267.65L62.79,267.65L62.79,266.87L64.07,266.87L64.07,266.37L65.35,266.37L65.35,267.2L66.63,267.2L66.63,268.76L67.92,268.76L67.92,271.89L69.2,271.89L69.2,274.33L70.48,274.33L70.48,279.66L71.76,279.66L71.76,283.02L73.05,283.02L73.05,287.21L74.33,287.21L74.33,291.64L75.61,291.64L75.61,295.95L76.9,295.95L76.9,298.52L78.18,298.52L78.18,301.7L79.46,301.7L79.46,303.21L80.74,303.21L80.74,305.41L82.03,305.41L82.03,305.7L83.31,305.7L83.31,307.28L84.59,307.28L84.59,307.88L85.87,307.88L85.87,307.04L87.16,307.04L87.16,306.09L88.44,306.09L88.44,304.63L89.72,304.63L89.72,301.57L91.01,301.57L91.01,297.88L92.29,297.88L92.29,293.06L93.57,293.06L93.57,289.15L94.85,289.15L94.85,283.78L96.14,283.78L96.14,280.84L97.42,280.84L97.42,276.03L98.7,276.03L98.7,272.64L99.98,272.64L99.98,269.42L101.27,269.42L101.27,265.53L102.55,265.53L102.55,259.27L103.83,259.27L103.83,255.27L105.12,255.27L105.12,251.08L106.4,251.08L106.4,250.29L107.68,250.29L107.68,249.86L108.96,249.86L108.96,246.96L110.25,246.96L110.25,246.31L111.53,246.31L111.53,243.52L112.81,243.52L112.81,241.79L114.09,241.79L114.09,240.29L115.38,240.29L115.38,241.17L116.66,241.17L116.66,239.93L117.94,239.93L117.94,240.25L119.23,240.25L119.23,241.26L120.51,241.26L120.51,242.12L121.79,242.12L121.79,242.3L123.07,242.3L123.07,243L124.36,243L124.36,243.09L125.64,243.09L125.64,241.27L126.92,241.27L126.92,241.65L128.2,241.65L128.2,241.53L129.49,241.53L129.49,240.88L130.77,240.88L130.77,240.59L132.05,240.59L132.05,240.4L133.34,240.4L133.34,241.33L134.62,241.33L134.62,241.6L135.9,241.6L135.9,241.72L137.18,241.72L137.18,239.55L138.47,239.55L138.47,239.88L139.75,239.88L139.75,238.48L141.03,238.48L141.03,237.88L142.31,237.88L142.31,235.84L143.6,235.84L143.6,234.52L144.88,234.52L144.88,233.2L146.16,233.2L146.16,231.73L147.45,231.73L147.45,230.15L148.73,230.15L148.73,228.84L150.01,228.84L150.01,231.65L151.29,231.65L151.29,233.41L152.58,233.41L152.58,234.56L153.86,234.56L153.86,237.49L155.14,237.49L155.14,239.65L156.43,239.65L156.43,239.31L157.71,239.31L157.71,240.46L158.99,240.46L158.99,241.62L160.27,241.62L160.27,242.39L161.56,242.39L161.56,243.86L162.84,243.86L162.84,245.17L164.12,245.17L164.12,244.67L165.4,244.67L165.4,245.32L166.69,245.32L166.69,246.03L167.97,246.03L167.97,246.83L169.25,246.83L169.25,248.44L170.54,248.44L170.54,251.49L171.82,251.49L171.82,252.11L173.1,252.11L173.1,253.49L174.38,253.49L174.38,256.3L175.67,256.3L175.67,257.35L176.95,257.35L176.95,257.51L178.23,257.51L178.23,257.73L179.51,257.73L179.51,259.74L180.8,259.74L180.8,260.3L182.08,260.3L182.08,262.47L183.36,262.47L183.36,261.45L184.65,261.45L184.65,262.03L185.93,262.03L185.93,262.02L187.21,262.02L187.21,263.08L188.49,263.08L188.49,262.98L189.78,262.98L189.78,264.11L191.06,264.11L191.06,265.7L192.34,265.7L192.34,266.41L193.62,266.41L193.62,267.62L194.91,267.62L194.91,269.22L196.19,269.22L196.19,270.03L197.47,270.03L197.47,269.7L198.76,269.7L198.76,271.77L200.04,271.77L200.04,271.75L201.32,271.75L201.32,270.68L202.6,270.68L202.6,271.72L203.89,271.72L203.89,271.5L205.17,271.5L205.17,272.86L206.45,272.86L206.45,274.09L207.73,274.09L207.73,276.89L209.02,276.89L209.02,277.68L210.3,277.68L210.3,281.53L211.58,281.53L211.58,284.57L212.87,284.57L212.87,286.85L214.15,286.85L214.15,290.29L215.43,290.29L215.43,292.41L216.71,292.41L216.71,294.04L218,294.04L218,296.86L219.28,296.86L219.28,300.77L220.56,300.77L220.56,304.93L221.84,304.93L221.84,305.71L223.13,305.71L223.13,307.35L224.41,307.35L224.41,308.08L225.69,308.08L225.69,308.2L226.98,308.2L226.98,310.66L228.26,310.66L228.26,310.83L229.54,310.83L229.54,310.98L230.82,310.98L230.82,311.65L232.11,311.65L232.11,310.63L233.39,310.63L233.39,309.49L234.67,309.49L234.67,308.09L235.95,308.09L235.95,307.52L237.24,307.52L237.24,308.94L238.52,308.94L238.52,309.65L239.8,309.65L239.8,309.69L241.09,309.69L241.09,309.92L242.37,309.92L242.37,310.44L243.65,310.44L243.65,310.39L244.93,310.39L244.93,310.45L246.22,310.45L246.22,310.14L247.5,310.14L247.5,309.98L248.78,309.98L248.78,310.11L250.06,310.11L250.06,310.24L251.35,310.24L251.35,310.01L252.63,310.01L252.63,309.68L253.91,309.68L253.91,309.49L255.2,309.49L255.2,307.67L256.48,307.67L256.48,306.23L257.76,306.23L257.76,304.79L259.04,304.79L259.04,303.76L260.33,303.76L260.33,302.38L261.61,302.38L261.61,301.34L262.89,301.34L262.89,299.12L264.17,299.12L264.17,298.08L265.46,298.08L265.46,296.39L266.74,296.39L266.74,295.74L268.02,295.74L268.02,293.28L269.31,293.28L269.31,290.63L270.59,290.63L270.59,291.22L271.87,291.22L271.87,289.61L273.15,289.61L273.15,288.9L274.44,288.9L274.44,288.17L275.72,288.17L275.72,289.15L277,289.15L277,287.29L278.28,287.29L278.28,286.82L279.57,286.82L279.57,287.43L280.85,287.43L280.85,288.53L282.13,288.53L282.13,289.92L283.42,289.92L283.42,291.34L284.7,291.34L284.7,291.86L285.98,291.86L285.98,292.19L287.26,292.19L287.26,290.28L288.55,290.28L288.55,289.66L289.83,289.66L289.83,288.09L291.11,288.09L291.11,288.67L292.39,288.67L292.39,287.33L293.68,287.33L293.68,286.37L294.96,286.37L294.96,283.85L296.24,283.85L296.24,283.77L297.53,283.77L297.53,282.37L298.81,282.37L298.81,280.89L300.09,280.89L300.09,281.32L301.37,281.32L301.37,280.57L302.66,280.57L302.66,281.63L303.94,281.63L303.94,282.49L305.22,282.49L305.22,281.6L306.5,281.6L306.5,281.98L307.79,281.98L307.79,281.7L309.07,281.7L309.07,282.58L310.35,282.58L310.35,283.06L311.64,283.06L311.64,282.6L312.92,282.6L312.92,282.59L314.2,282.59L314.2,281.48L315.48,281.48L315.48,281.47L316.77,281.47L316.77,280.49L318.05,280.49L318.05,279.22L319.33,279.22L319.33,278.65L320.61,278.65L320.61,276.3L321.9,276.3L321.9,275.41L323.18,275.41L323.18,273.79L324.46,273.79L324.46,272.44L325.75,272.44L325.75,271.29L327.03,271.29L327.03,269.89L328.31,269.89L328.31,268.15L329.59,268.15L329.59,266.97L330.88,266.97L330.88,266.62L332.16,266.62L332.16,264.01L333.44,264.01L333.44,264.17L334.72,264.17L334.72,263.04L336.01,263.04L336.01,260.2L337.29,260.2L337.29,258.26L338.57,258.26L338.57,255.15L339.86,255.15L339.86,255.12L341.14,255.12L341.14,254.59L342.42,254.59L342.42,256.79L343.7,256.79L343.7,256.73L344.99,256.73L344.99,255.28L346.27,255.28L346.27,256.02L347.55,256.02L347.55,255.78L348.83,255.78L348.83,255.33L350.12,255.33L350.12,256.37L351.4,256.37L351.4,256.33L352.68,256.33L352.68,256.73L353.97,256.73L353.97,255.39L355.25,255.39L355.25,255.36L356.53,255.36L356.53,254.21L357.81,254.21L357.81,255.48L359.1,255.48L359.1,254.93L360.38,254.93L360.38,256.1L361.66,256.1L361.66,256.3L362.94,256.3L362.94,256.47L364.23,256.47L364.23,258.41L365.51,258.41L365.51,258.42L366.79,258.42L366.79,258.77L368.08,258.77L368.08,257.44L369.36,257.44L369.36,257.83L370.64,257.83L370.64,257.43L371.92,257.43L371.92,257.23L373.21,257.23L373.21,256.11L374.49,256.11L374.49,254.71L375.77,254.71L375.77,252.29L377.06,252.29L377.06,253.69L378.34,253.69L378.34,253.67L379.62,253.67L379.62,252.75L380.9,252.75L380.9,252.61L382.19,252.61L382.19,252.71L383.47,252.71L383.47,253.12L384.75,253.12L384.75,253.98L386.03,253.98L386.03,253.26L387.32,253.26L387.32,253.09L388.6,253.09L388.6,253.39L389.88,253.39L389.88,251.08L391.17,251.08L391.17,252.17L392.45,252.17L392.45,250.63L393.73,250.63L393.73,251.5L395.01,251.5L395.01,250.78L396.3,250.78L396.3,249.15L397.58,249.15L397.58,249.49L398.86,249.49L398.86,249.25L400.14,249.25L400.14,247.29L401.43,247.29L401.43,246.8L402.71,246.8L402.71,247.5L403.99,247.5L403.99,246.89L405.28,246.89L405.28,246.98L406.56,246.98L406.56,245.67L407.84,245.67L407.84,245.01L409.12,245.01L409.12,242.95L410.41,242.95L410.41,238.62L411.69,238.62L411.69,235.68L412.97,235.68L412.97,233.02L414.25,233.02L414.25,229.15L415.54,229.15L415.54,227L416.82,227L416.82,223.54L418.1,223.54L418.1,223.03L419.39,223.03L419.39,221.39L420.67,221.39L420.67,218.58L421.95,218.58L421.95,217.48L423.23,217.48L423.23,218.16L424.52,218.16L424.52,216.53L425.8,216.53L425.8,216.08L427.08,216.08L427.08,215.08L428.36,215.08L428.36,214.38L429.65,214.38L429.65,212.64L430.93,212.64L430.93,211.99L432.21,211.99L432.21,209.14L433.5,209.14L433.5,206.41L434.78,206.41L434.78,204.27L436.06,204.27L436.06,202.29L437.34,202.29L437.34,201.54L438.63,201.54L438.63,202.71L439.91,202.71L439.91,200.47L441.19,200.47L441.19,199.48L442.47,199.48L442.47,196.66L443.76,196.66L443.76,195.34L445.04,195.34L445.04,192.57L446.32,192.57L446.32,190.44L447.61,190.44L447.61,189.07L448.89,189.07L448.89,189.11L450.17,189.11L450.17,188.7L451.45,188.7L451.45,188.83L452.74,188.83L452.74,189.58L454.02,189.58L454.02,193.1L455.3,193.1L455.3,197.17L456.58,197.17L456.58,201.09L457.87,201.09L457.87,203.08L459.15,203.08L459.15,207.19L460.43,207.19L460.43,210.27L461.72,210.27L461.72,214.81L463,214.81L463,217.53L464.28,217.53L464.28,220.68L465.56,220.68L465.56,223.19L466.85,223.19L466.85,226.34L468.13,226.34L468.13,228.55L469.41,228.55L469.41,231.74L470.69,231.74L470.69,234.11L471.98,234.11L471.98,236.89L473.26,236.89L473.26,239.32L474.54,239.32L474.54,241.98L475.83,241.98L475.83,242.64L477.11,242.64L477.11,245.53L478.39,245.53L478.39,247L479.67,247L479.67,249.23L480.96,249.23L480.96,251.05L482.24,251.05L482.24,253.01L483.52,253.01L483.52,255.57L484.8,255.57L484.8,257.7L486.09,257.7L486.09,260.1L487.37,260.1L487.37,263.21L488.65,263.21L488.65,267.09L489.94,267.09L489.94,271.06L491.22,271.06L491.22,277.13L492.5,277.13L492.5,281.93L493.78,281.93L493.78,286.07L495.07,286.07L495.07,290.56L496.35,290.56L496.35,294.24L497.63,294.24L497.63,301.05L498.91,301.05L498.91,307.38L500.2,307.38L500.2,311.23L501.48,311.23L501.48,313.07L502.76,313.07L502.76,315.88L504.05,315.88L504.05,318.97L505.33,318.97L505.33,322.67L506.61,322.67L506.61,326.12L507.89,326.12L507.89,328.12L509.18,328.12L509.18,330.74L510.46,330.74L510.46,332.18L511.74,332.18L511.74,333.46L513.02,333.46L513.02,334.26L514.31,334.26L514.31,336.04L515.59,336.04L515.59,337.3L516.87,337.3L516.87,339.53L518.16,339.53L518.16,340.35L519.44,340.35L519.44,340.93L520.72,340.93L520.72,342.78L522,342.78L522,342.1L523.29,342.1L523.29,342.74L524.57,342.74L524.57,343.85L525.85,343.85L525.85,343.98L527.13,343.98L527.13,342.98L528.42,342.98L528.42,344.74L529.7,344.74L529.7,344.29L530.98,344.29L530.98,346.13L532.27,346.13L532.27,345.79L533.55,345.79L533.55,343.91L534.83,343.91L534.83,343.73L536.11,343.73L536.11,343.21L537.4,343.21L537.4,343.47L538.68,343.47L538.68,341.45L539.96,341.45L539.96,340.61L541.24,340.61L541.24,340.08L542.53,340.08L542.53,338.02L543.81,338.02L543.81,337.45L545.09,337.45L545.09,337.07L546.38,337.07L546.38,335.39L547.66,335.39L547.66,334.3L548.94,334.3L548.94,331.22L550.22,331.22L550.22,329.99L551.51,329.99L551.51,327.53L552.79,327.53L552.79,325.53L554.07,325.53L554.07,324.24L555.35,324.24L555.35,322.94L556.64,322.94L556.64,320.38L557.92,320.38L557.92,318.97L559.2,318.97L559.2,317.11L560.49,317.11L560.49,314.91L561.77,314.91L561.77,313.62L563.05,313.62L563.05,312.91L564.33,312.91L564.33,307.07L565.62,307.07L565.62,305.88L566.9,305.88L566.9,302.44L568.18,302.44L568.18,302.01L569.46,302.01L569.46,298.88L570.75,298.88L570.75,297.96L572.03,297.96L572.03,296.87L573.31,296.87L573.31,295.5L574.6,295.5L574.6,292.3L575.88,292.3L575.88,292.16L577.16,292.16L577.16,290.58L578.44,290.58L578.44,289.25L579.73,289.25L579.73,287.12L581.01,287.12L581.01,284.38L582.29,284.38L582.29,283.62L583.57,283.62L583.57,282.04L584.86,282.04L584.86,280.73L586.14,280.73L586.14,279.33L587.42,279.33L587.42,278.08L588.71,278.08L588.71,277.03L589.99,277.03L589.99,275.1L591.27,275.1L591.27,273.88L592.55,273.88L592.55,272.5L593.84,272.5L593.84,269.94L595.12,269.94L595.12,267.05L596.4,267.05L596.4,264.09L597.69,264.09L597.69,262.8L598.97,262.8L598.97,259.56L600.25,259.56L600.25,257.86L601.53,257.86L601.53,257.39L602.82,257.39L602.82,256.25L604.1,256.25L604.1,255.44L605.38,255.44L605.38,255.24L606.66,255.24L606.66,253L607.95,253L607.95,252.72L609.23,252.72L609.23,250.46L610.51,250.46L610.51,248.52L611.8,248.52L611.8,248.29L613.08,248.29L613.08,245.82L614.36,245.82L614.36,245.05L615.64,245.05L615.64,244.28L616.93,244.28L616.93,243.16L618.21,243.16L618.21,243.59L619.49,243.59L619.49,242.72L620.77,242.72L620.77,243.18L622.06,243.18L622.06,242.86L623.34,242.86L623.34,243.69L624.62,243.69L624.62,243.62L625.91,243.62L625.91,240.95L627.19,240.95L627.19,239.83L628.47,239.83L628.47,239.37L629.75,239.37L629.75,238.44L631.04,238.44L631.04,237.22L632.32,237.22L632.32,237.45L633.6,237.45L633.6,235.92L634.88,235.92L634.88,236.64L636.17,236.64L636.17,236.29L637.45,236.29L637.45,236.03L638.73,236.03L638.73,234.46L640.02,234.46L640.02,234.26L641.3,234.26L641.3,234.72L642.58,234.72L642.58,233.35L643.86,233.35L643.86,232.65L645.15,232.65L645.15,232.01L646.43,232.01L646.43,230.06L647.71,230.06L647.71,230.26L648.99,230.26L648.99,231.81L650.28,231.81L650.28,234.6L651.56,234.6L651.56,233.39L652.84,233.39L652.84,233.4L654.13,233.4L654.13,234.1L655.41,234.1L655.41,232.49L656.69,232.49L656.69,231.1L657.97,231.1L657.97,230.14L659.26,230.14L659.26,228.12L660.54,228.12L660.54,225.67L661.82,225.67L661.82,223.2L663.1,223.2L663.1,222.17L664.39,222.17L664.39,220.41L665.67,220.41L665.67,222.5L666.95,222.5L666.95,223.23L668.24,223.23L668.24,227.34L669.52,227.34L669.52,228.33L670.8,228.33L670.8,224.4L672.08,224.4L672.08,223.88L673.37,223.88L673.37,220.92L674.65,220.92L674.65,217.49L675.93,217.49L675.93,213.97L677.21,213.97L677.21,211.54L678.5,211.54L678.5,209.66L679.78,209.66L679.78,207.48L681.06,207.48L681.06,205.84L682.35,205.84L682.35,204.46L683.63,204.46L683.63,202.41L684.91,202.41L684.91,197.62L686.19,197.62L686.19,194.58L687.48,194.58L687.48,190L688.76,190L688.76,186.58L690.04,186.58L690.04,181.64L691.32,181.64L691.32,177.59L692.61,177.59L692.61,173.69L693.89,173.69L693.89,167.29L695.17,167.29L695.17,160.4L696.46,160.4L696.46,157.04L697.74,157.04L697.74,154.62L699.02,154.62L699.02,151.78L700.3,151.78L700.3,149.58L701.59,149.58L701.59,147.18L702.87,147.18L702.87,144.92L704.15,144.92L704.15,144.31L705.43,144.31L705.43,143.77L706.72,143.77L706.72,142.58L708,142.58L708,177.03L706.72,177.03L706.72,177.52L705.43,177.52L705.43,178.28L704.15,178.28L704.15,179.63L702.87,179.63L702.87,180.42L701.59,180.42L701.59,185.79L700.3,185.79L700.3,190.18L699.02,190.18L699.02,195.17L697.74,195.17L697.74,200.94L696.46,200.94L696.46,205.29L695.17,205.29L695.17,208.99L693.89,208.99L693.89,212.29L692.61,212.29L692.61,215.21L691.32,215.21L691.32,218.5L690.04,218.5L690.04,221.77L688.76,221.77L688.76,224.28L687.48,224.28L687.48,226.54L686.19,226.54L686.19,229.32L684.91,229.32L684.91,231.96L683.63,231.96L683.63,233.92L682.35,233.92L682.35,235.93L681.06,235.93L681.06,237.83L679.78,237.83L679.78,239.44L678.5,239.44L678.5,241.7L677.21,241.7L677.21,243.92L675.93,243.92L675.93,246.46L674.65,246.46L674.65,248.77L673.37,248.77L673.37,250.84L672.08,250.84L672.08,252.23L670.8,252.23L670.8,253.98L669.52,253.98L669.52,252.86L668.24,252.86L668.24,249.98L666.95,249.98L666.95,247.73L665.67,247.73L665.67,248.81L664.39,248.81L664.39,251.43L663.1,251.43L663.1,253.39L661.82,253.39L661.82,254.85L660.54,254.85L660.54,256.82L659.26,256.82L659.26,257.97L657.97,257.97L657.97,258.92L656.69,258.92L656.69,260.01L655.41,260.01L655.41,260.42L654.13,260.42L654.13,262.23L652.84,262.23L652.84,261.95L651.56,261.95L651.56,261.04L650.28,261.04L650.28,259.89L648.99,259.89L648.99,258.88L647.71,258.88L647.71,260.69L646.43,260.69L646.43,261.35L645.15,261.35L645.15,261.29L643.86,261.29L643.86,262L642.58,262L642.58,261.77L641.3,261.77L641.3,262.83L640.02,262.83L640.02,263.74L638.73,263.74L638.73,264.03L637.45,264.03L637.45,264.88L636.17,264.88L636.17,264.74L634.88,264.74L634.88,265.28L633.6,265.28L633.6,266.26L632.32,266.26L632.32,266.69L631.04,266.69L631.04,267.5L629.75,267.5L629.75,269.52L628.47,269.52L628.47,270.7L627.19,270.7L627.19,271.55L625.91,271.55L625.91,271.69L624.62,271.69L624.62,272.89L623.34,272.89L623.34,271.98L622.06,271.98L622.06,272.22L620.77,272.22L620.77,272.55L619.49,272.55L619.49,273.76L618.21,273.76L618.21,273.52L616.93,273.52L616.93,274.62L615.64,274.62L615.64,275.73L614.36,275.73L614.36,276.98L613.08,276.98L613.08,278.37L611.8,278.37L611.8,279.44L610.51,279.44L610.51,281.5L609.23,281.5L609.23,282.66L607.95,282.66L607.95,282.9L606.66,282.9L606.66,283.24L605.38,283.24L605.38,284.81L604.1,284.81L604.1,284.62L602.82,284.62L602.82,285.95L601.53,285.95L601.53,286.34L600.25,286.34L600.25,288.15L598.97,288.15L598.97,289.9L597.69,289.9L597.69,291.98L596.4,291.98L596.4,294.35L595.12,294.35L595.12,295.3L593.84,295.3L593.84,295.75L592.55,295.75L592.55,296.84L591.27,296.84L591.27,297.92L589.99,297.92L589.99,298.51L588.71,298.51L588.71,300.29L587.42,300.29L587.42,300.72L586.14,300.72L586.14,301.36L584.86,301.36L584.86,302.38L583.57,302.38L583.57,303.97L582.29,303.97L582.29,304.65L581.01,304.65L581.01,306.26L579.73,306.26L579.73,306.42L578.44,306.42L578.44,308.14L577.16,308.14L577.16,310.09L575.88,310.09L575.88,310.67L574.6,310.67L574.6,312.19L573.31,312.19L573.31,313.01L572.03,313.01L572.03,314.04L570.75,314.04L570.75,316.79L569.46,316.79L569.46,319.75L568.18,319.75L568.18,324.61L566.9,324.61L566.9,328.35L565.62,328.35L565.62,325.79L564.33,325.79L564.33,327.17L563.05,327.17L563.05,329.88L561.77,329.88L561.77,332.39L560.49,332.39L560.49,334.2L559.2,334.2L559.2,336.11L557.92,336.11L557.92,338.14L556.64,338.14L556.64,339.3L555.35,339.3L555.35,342.28L554.07,342.28L554.07,343.25L552.79,343.25L552.79,344.99L551.51,344.99L551.51,346.19L550.22,346.19L550.22,347.11L548.94,347.11L548.94,348.03L547.66,348.03L547.66,349.18L546.38,349.18L546.38,350.79L545.09,350.79L545.09,351.36L543.81,351.36L543.81,352.78L542.53,352.78L542.53,354.95L541.24,354.95L541.24,355.33L539.96,355.33L539.96,356.89L538.68,356.89L538.68,357.97L537.4,357.97L537.4,358.51L536.11,358.51L536.11,359.34L534.83,359.34L534.83,360.31L533.55,360.31L533.55,359.63L532.27,359.63L532.27,359.96L530.98,359.96L530.98,359.39L529.7,359.39L529.7,359.95L528.42,359.95L528.42,359.22L527.13,359.22L527.13,359.54L525.85,359.54L525.85,359.04L524.57,359.04L524.57,358.47L523.29,358.47L523.29,358.77L522,358.77L522,358.39L520.72,358.39L520.72,358.58L519.44,358.58L519.44,357.46L518.16,357.46L518.16,357.45L516.87,357.45L516.87,356.14L515.59,356.14L515.59,354.87L514.31,354.87L514.31,352.56L513.02,352.56L513.02,350.96L511.74,350.96L511.74,348.7L510.46,348.7L510.46,347.54L509.18,347.54L509.18,346.2L507.89,346.2L507.89,344.41L506.61,344.41L506.61,341.51L505.33,341.51L505.33,339.76L504.05,339.76L504.05,337.48L502.76,337.48L502.76,333.35L501.48,333.35L501.48,330.22L500.2,330.22L500.2,328.35L498.91,328.35L498.91,326.33L497.63,326.33L497.63,323.94L496.35,323.94L496.35,321.84L495.07,321.84L495.07,317.76L493.78,317.76L493.78,311.04L492.5,311.04L492.5,303.92L491.22,303.92L491.22,300.11L489.94,300.11L489.94,295.34L488.65,295.34L488.65,291.27L487.37,291.27L487.37,286.77L486.09,286.77L486.09,283.81L484.8,283.81L484.8,280.91L483.52,280.91L483.52,278.79L482.24,278.79L482.24,276.29L480.96,276.29L480.96,273.18L479.67,273.18L479.67,271.04L478.39,271.04L478.39,268.79L477.11,268.79L477.11,267.57L475.83,267.57L475.83,264.76L474.54,264.76L474.54,263.33L473.26,263.33L473.26,260.28L471.98,260.28L471.98,256.43L470.69,256.43L470.69,253.81L469.41,253.81L469.41,249.42L468.13,249.42L468.13,246.02L466.85,246.02L466.85,244.36L465.56,244.36L465.56,242.65L464.28,242.65L464.28,240.01L463,240.01L463,237.63L461.72,237.63L461.72,235.65L460.43,235.65L460.43,232.68L459.15,232.68L459.15,230.41L457.87,230.41L457.87,227.38L456.58,227.38L456.58,224.3L455.3,224.3L455.3,221.08L454.02,221.08L454.02,218.73L452.74,218.73L452.74,218.36L451.45,218.36L451.45,216.25L450.17,216.25L450.17,215.6L448.89,215.6L448.89,216.67L447.61,216.67L447.61,218.79L446.32,218.79L446.32,220.56L445.04,220.56L445.04,222.52L443.76,222.52L443.76,224.57L442.47,224.57L442.47,226.15L441.19,226.15L441.19,226.44L439.91,226.44L439.91,227.34L438.63,227.34L438.63,228.03L437.34,228.03L437.34,229.03L436.06,229.03L436.06,230.78L434.78,230.78L434.78,231.19L433.5,231.19L433.5,232.64L432.21,232.64L432.21,234.42L430.93,234.42L430.93,236.62L429.65,236.62L429.65,237.36L428.36,237.36L428.36,238.16L427.08,238.16L427.08,238.87L425.8,238.87L425.8,239.39L424.52,239.39L424.52,239.94L423.23,239.94L423.23,239.73L421.95,239.73L421.95,241.25L420.67,241.25L420.67,242.69L419.39,242.69L419.39,244.8L418.1,244.8L418.1,246.67L416.82,246.67L416.82,249.38L415.54,249.38L415.54,251.05L414.25,251.05L414.25,254.39L412.97,254.39L412.97,257.28L411.69,257.28L411.69,261.54L410.41,261.54L410.41,262.43L409.12,262.43L409.12,263.85L407.84,263.85L407.84,264.41L406.56,264.41L406.56,265.91L405.28,265.91L405.28,266L403.99,266L403.99,267.07L402.71,267.07L402.71,267.11L401.43,267.11L401.43,267.87L400.14,267.87L400.14,267.54L398.86,267.54L398.86,267.62L397.58,267.62L397.58,268.1L396.3,268.1L396.3,268.33L395.01,268.33L395.01,268.23L393.73,268.23L393.73,269.56L392.45,269.56L392.45,269.5L391.17,269.5L391.17,270.53L389.88,270.53L389.88,270.56L388.6,270.56L388.6,272.37L387.32,272.37L387.32,272.95L386.03,272.95L386.03,272.36L384.75,272.36L384.75,272L383.47,272L383.47,271.2L382.19,271.2L382.19,271.15L380.9,271.15L380.9,270.74L379.62,270.74L379.62,269.58L378.34,269.58L378.34,271.18L377.06,271.18L377.06,271.77L375.77,271.77L375.77,271.65L374.49,271.65L374.49,273.18L373.21,273.18L373.21,272.56L371.92,272.56L371.92,273.71L370.64,273.71L370.64,274.25L369.36,274.25L369.36,275.56L368.08,275.56L368.08,274.05L366.79,274.05L366.79,273.9L365.51,273.9L365.51,274.2L364.23,274.2L364.23,273.28L362.94,273.28L362.94,273.36L361.66,273.36L361.66,273.01L360.38,273.01L360.38,272.82L359.1,272.82L359.1,272.82L357.81,272.82L357.81,272.25L356.53,272.25L356.53,272.54L355.25,272.54L355.25,272.37L353.97,272.37L353.97,272.48L352.68,272.48L352.68,272.67L351.4,272.67L351.4,273.14L350.12,273.14L350.12,272.59L348.83,272.59L348.83,272.23L347.55,272.23L347.55,271.52L346.27,271.52L346.27,272.27L344.99,272.27L344.99,271.9L343.7,271.9L343.7,272.16L342.42,272.16L342.42,271.36L341.14,271.36L341.14,270.35L339.86,270.35L339.86,270.96L338.57,270.96L338.57,274.11L337.29,274.11L337.29,275.64L336.01,275.64L336.01,277.1L334.72,277.1L334.72,279.43L333.44,279.43L333.44,280.58L332.16,280.58L332.16,281.78L330.88,281.78L330.88,283.92L329.59,283.92L329.59,284.07L328.31,284.07L328.31,284.84L327.03,284.84L327.03,286.2L325.75,286.2L325.75,286.72L324.46,286.72L324.46,287.93L323.18,287.93L323.18,288.33L321.9,288.33L321.9,289.07L320.61,289.07L320.61,290.89L319.33,290.89L319.33,292.87L318.05,292.87L318.05,294.55L316.77,294.55L316.77,295.45L315.48,295.45L315.48,295.54L314.2,295.54L314.2,296.5L312.92,296.5L312.92,296.65L311.64,296.65L311.64,296.32L310.35,296.32L310.35,296.2L309.07,296.2L309.07,296.63L307.79,296.63L307.79,296.14L306.5,296.14L306.5,295.2L305.22,295.2L305.22,295.67L303.94,295.67L303.94,295.36L302.66,295.36L302.66,294.8L301.37,294.8L301.37,294.75L300.09,294.75L300.09,296.32L298.81,296.32L298.81,297.07L297.53,297.07L297.53,298.11L296.24,298.11L296.24,298.58L294.96,298.58L294.96,299.77L293.68,299.77L293.68,299.84L292.39,299.84L292.39,301.56L291.11,301.56L291.11,302.17L289.83,302.17L289.83,303.76L288.55,303.76L288.55,303.82L287.26,303.82L287.26,305.24L285.98,305.24L285.98,307.02L284.7,307.02L284.7,306.83L283.42,306.83L283.42,306.63L282.13,306.63L282.13,305.69L280.85,305.69L280.85,303.98L279.57,303.98L279.57,303.77L278.28,303.77L278.28,302.39L277,302.39L277,303.44L275.72,303.44L275.72,304.25L274.44,304.25L274.44,303.78L273.15,303.78L273.15,304.53L271.87,304.53L271.87,305.82L270.59,305.82L270.59,306.49L269.31,306.49L269.31,308.38L268.02,308.38L268.02,309.9L266.74,309.9L266.74,311.65L265.46,311.65L265.46,312.65L264.17,312.65L264.17,313.64L262.89,313.64L262.89,314.53L261.61,314.53L261.61,315.55L260.33,315.55L260.33,317.51L259.04,317.51L259.04,318.36L257.76,318.36L257.76,320.06L256.48,320.06L256.48,319.85L255.2,319.85L255.2,321.09L253.91,321.09L253.91,322.82L252.63,322.82L252.63,323.11L251.35,323.11L251.35,323.33L250.06,323.33L250.06,323.26L248.78,323.26L248.78,323.92L247.5,323.92L247.5,323.47L246.22,323.47L246.22,323.24L244.93,323.24L244.93,324.39L243.65,324.39L243.65,324.32L242.37,324.32L242.37,325.62L241.09,325.62L241.09,324.75L239.8,324.75L239.8,324.83L238.52,324.83L238.52,324.28L237.24,324.28L237.24,325.58L235.95,325.58L235.95,326.58L234.67,326.58L234.67,326.67L233.39,326.67L233.39,327.09L232.11,327.09L232.11,327.57L230.82,327.57L230.82,327.56L229.54,327.56L229.54,327.18L228.26,327.18L228.26,327.52L226.98,327.52L226.98,326.65L225.69,326.65L225.69,325.91L224.41,325.91L224.41,325.41L223.13,325.41L223.13,324.06L221.84,324.06L221.84,322.84L220.56,322.84L220.56,321L219.28,321L219.28,318.11L218,318.11L218,315.25L216.71,315.25L216.71,312.86L215.43,312.86L215.43,309.98L214.15,309.98L214.15,307.6L212.87,307.6L212.87,306.14L211.58,306.14L211.58,303.24L210.3,303.24L210.3,301.55L209.02,301.55L209.02,300.11L207.73,300.11L207.73,298.8L206.45,298.8L206.45,298.33L205.17,298.33L205.17,295.96L203.89,295.96L203.89,294.51L202.6,294.51L202.6,295.93L201.32,295.93L201.32,296.71L200.04,296.71L200.04,296.27L198.76,296.27L198.76,295.95L197.47,295.95L197.47,296.09L196.19,296.09L196.19,295.56L194.91,295.56L194.91,295.16L193.62,295.16L193.62,295.56L192.34,295.56L192.34,295.72L191.06,295.72L191.06,294.96L189.78,294.96L189.78,294.91L188.49,294.91L188.49,294.46L187.21,294.46L187.21,293.6L185.93,293.6L185.93,293.9L184.65,293.9L184.65,293.57L183.36,293.57L183.36,294.11L182.08,294.11L182.08,293.3L180.8,293.3L180.8,292.76L179.51,292.76L179.51,292.7L178.23,292.7L178.23,291.68L176.95,291.68L176.95,290.67L175.67,290.67L175.67,291.32L174.38,291.32L174.38,290.51L173.1,290.51L173.1,289.37L171.82,289.37L171.82,287.36L170.54,287.36L170.54,285.44L169.25,285.44L169.25,281.73L167.97,281.73L167.97,281.96L166.69,281.96L166.69,280.36L165.4,280.36L165.4,280.31L164.12,280.31L164.12,278.22L162.84,278.22L162.84,277.53L161.56,277.53L161.56,276.41L160.27,276.41L160.27,274.22L158.99,274.22L158.99,273.18L157.71,273.18L157.71,271.72L156.43,271.72L156.43,270.23L155.14,270.23L155.14,269.76L153.86,269.76L153.86,268.61L152.58,268.61L152.58,266.5L151.29,266.5L151.29,266.09L150.01,266.09L150.01,264.05L148.73,264.05L148.73,264.07L147.45,264.07L147.45,264.62L146.16,264.62L146.16,265.7L144.88,265.7L144.88,265.6L143.6,265.6L143.6,266.72L142.31,266.72L142.31,267.06L141.03,267.06L141.03,267.57L139.75,267.57L139.75,267.31L138.47,267.31L138.47,268.75L137.18,268.75L137.18,269.11L135.9,269.11L135.9,267.85L134.62,267.85L134.62,268.26L133.34,268.26L133.34,267.31L132.05,267.31L132.05,266.23L130.77,266.23L130.77,266.05L129.49,266.05L129.49,266.69L128.2,266.69L128.2,265.96L126.92,265.96L126.92,265.72L125.64,265.72L125.64,265.78L124.36,265.78L124.36,265.15L123.07,265.15L123.07,264.73L121.79,264.73L121.79,263.12L120.51,263.12L120.51,262.69L119.23,262.69L119.23,261.86L117.94,261.86L117.94,260.67L116.66,260.67L116.66,260.72L115.38,260.72L115.38,262.09L114.09,262.09L114.09,264L112.81,264L112.81,264.48L111.53,264.48L111.53,267.07L110.25,267.07L110.25,267.81L108.96,267.81L108.96,269.8L107.68,269.8L107.68,271.32L106.4,271.32L106.4,273.06L105.12,273.06L105.12,276.22L103.83,276.22L103.83,278.43L102.55,278.43L102.55,281.31L101.27,281.31L101.27,283.21L99.98,283.21L99.98,287.28L98.7,287.28L98.7,291.5L97.42,291.5L97.42,297.02L96.14,297.02L96.14,301.9L94.85,301.9L94.85,306.16L93.57,306.16L93.57,311.85L92.29,311.85L92.29,316.98L91.01,316.98L91.01,319.44L89.72,319.44L89.72,321.08L88.44,321.08L88.44,322.39L87.16,322.39L87.16,323.38L85.87,323.38L85.87,322.9L84.59,322.9L84.59,321.9L83.31,321.9L83.31,321.08L82.03,321.08L82.03,319.83L80.74,319.83L80.74,319.04L79.46,319.04L79.46,316.85L78.18,316.85L78.18,314.03L76.9,314.03L76.9,309.14L75.61,309.14L75.61,305.31L74.33,305.31L74.33,299.88L73.05,299.88L73.05,296.98L71.76,296.98L71.76,293.02L70.48,293.02L70.48,289.82L69.2,289.82L69.2,287.25L67.92,287.25L67.92,286.27L66.63,286.27L66.63,285.13L65.35,285.13L65.35,285.39L64.07,285.39L64.07,286.47L62.79,286.47L62.79,288.62L61.5,288.62L61.5,290.58L60.22,290.58L60.22,293.56L58.94,293.56L58.94,293.16L57.65,293.16L57.65,292L56.37,292L56.37,290.85L55.09,290.85L55.09,284.28L53.81,284.28L53.81,274.34L52.52,274.34L52.52,266.25L51.24,266.25L51.24,262.06L49.96,262.06L49.96,257.94L48.68,257.94L48.68,251.44L47.39,251.44L47.39,247.49L46.11,247.49L46.11,243.14L44.83,243.14L44.83,241.35L43.54,241.35L43.54,238.25L42.26,238.25L42.26,237.53L40.98,237.53L40.98,236.84L39.7,236.84L39.7,237.54L38.41,237.54L38.41,237.72L37.13,237.72L37.13,235.86L35.85,235.86L35.85,232.61L34.57,232.61L34.57,230.31L33.28,230.31L33.28,228.93L32,228.93Z" fill="#f2dc70"/>
<path d="M33.66,96V409.5M37.8,96V409.5M41.95,96V409.5M46.09,96V409.5M50.24,96V409.5M54.38,96V409.5M58.52,96V409.5M62.67,96V409.5M66.81,96V409.5M70.96,96V409.5M75.1,96V409.5M79.25,96V409.5M83.39,96V409.5M87.53,96V409.5M91.68,96V409.5M95.82,96V409.5M99.97,96V409.5M104.11,96V409.5M108.25,96V409.5M112.4,96V409.5M116.54,96V409.5M120.69,96V409.5M124.83,96V409.5M128.98,96V409.5M133.12,96V409.5M137.26,96V409.5M141.41,96V409.5M145.55,96V409.5M149.7,96V409.5M153.84,96V409.5M157.99,96V409.5M162.13,96V409.5M166.27,96V409.5M170.42,96V409.5M174.56,96V409.5M178.71,96V409.5M182.85,96V409.5M186.99,96V409.5M191.14,96V409.5M195.28,96V409.5M199.43,96V409.5M203.57,96V409.5M207.72,96V409.5M211.86,96V409.5M216,96V409.5M220.15,96V409.5M224.29,96V409.5M228.44,96V409.5M232.58,96V409.5M236.73,96V409.5M240.87,96V409.5M245.01,96V409.5M249.16,96V409.5M253.3,96V409.5M257.45,96V409.5M261.59,96V409.5M265.73,96V409.5M269.88,96V409.5M274.02,96V409.5M278.17,96V409.5M282.31,96V409.5M286.46,96V409.5M290.6,96V409.5M294.74,96V409.5M298.89,96V409.5M303.03,96V409.5M307.18,96V409.5M311.32,96V409.5M315.47,96V409.5M319.61,96V409.5M323.75,96V409.5M327.9,96V409.5M332.04,96V409.5M336.19,96V409.5M340.33,96V409.5M344.47,96V409.5M348.62,96V409.5M352.76,96V409.5M356.91,96V409.5M361.05,96V409.5M365.2,96V409.5M369.34,96V409.5M373.48,96V409.5M377.63,96V409.5M381.77,96V409.5M385.92,96V409.5M390.06,96V409.5M394.2,96V409.5M398.35,96V409.5M402.49,96V409.5M406.64,96V409.5M410.78,96V409.5M414.93,96V409.5M419.07,96V409.5M423.21,96V409.5M427.36,96V409.5M431.5,96V409.5M435.65,96V409.5M439.79,96V409.5M443.94,96V409.5M448.08,96V409.5M452.22,96V409.5M456.37,96V409.5M460.51,96V409.5M464.66,96V409.5M468.8,96V409.5M472.94,96V409.5M477.09,96V409.5M481.23,96V409.5M485.38,96V409.5M489.52,96V409.5M493.67,96V409.5M497.81,96V409.5M501.95,96V409.5M506.1,96V409.5M510.24,96V409.5M514.39,96V409.5M518.53,96V409.5M522.68,96V409.5M526.82,96V409.5M530.96,96V409.5M535.11,96V409.5M539.25,96V409.5M543.4,96V409.5M547.54,96V409.5M551.68,96V409.5M555.83,96V409.5M559.97,96V409.5M564.12,96V409.5M568.26,96V409.5M572.41,96V409.5M576.55,96V409.5M580.69,96V409.5M584.84,96V409.5M588.98,96V409.5M593.13,96V409.5M597.27,96V409.5M601.41,96V409.5M605.56,96V409.5M609.7,96V409.5M613.85,96V409.5M617.99,96V409.5M622.14,96V409.5M626.28,96V409.5M630.42,96V409.5M634.57,96V409.5M638.71,96V409.5M642.86,96V409.5M647,96V409.5M651.15,96V409.5M655.29,96V409.5M659.43,96V409.5M663.58,96V409.5M667.72,96V409.5M671.87,96V409.5M676.01,96V409.5M680.15,96V409.5M684.3,96V409.5M688.44,96V409.5M692.59,96V409.5M696.73,96V409.5M700.88,96V409.5M705.02,96V409.5" stroke="#ffffff" stroke-opacity="0.8" stroke-width="1.05" clip-path="url(#cp)"/>
<path d="M32,410 H708" stroke="#ccd6eb" stroke-width="1"/>
<path d="M47.5,410 V418" stroke="#ccd6eb" stroke-width="1"/>
<text x="48.5" y="427" text-anchor="middle" font-family='"Liberation Sans", sans-serif' font-size="11.5" fill="#666666" stroke="#666666" textLength="24.5" lengthAdjust="spacingAndGlyphs">1980</text>
<path d="M124.5,410 V418" stroke="#ccd6eb" stroke-width="1"/>
<text x="125.5" y="427" text-anchor="middle" font-family='"Liberation Sans", sans-serif' font-size="11.5" fill="#666666" stroke="#666666" textLength="24.5" lengthAdjust="spacingAndGlyphs">1985</text>
<path d="M201.5,410 V418" stroke="#ccd6eb" stroke-width="1"/>
<text x="202.5" y="427" text-anchor="middle" font-family='"Liberation Sans", sans-serif' font-size="11.5" fill="#666666" stroke="#666666" textLength="24.5" lengthAdjust="spacingAndGlyphs">1990</text>
<path d="M278.5,410 V418" stroke="#ccd6eb" stroke-width="1"/>
<text x="279.5" y="427" text-anchor="middle" font-family='"Liberation Sans", sans-serif' font-size="11.5" fill="#666666" stroke="#666666" textLength="24.5" lengthAdjust="spacingAndGlyphs">1995</text>
<path d="M355.5,410 V418" stroke="#ccd6eb" stroke-width="1"/>
<text x="356.5" y="427" text-anchor="middle" font-family='"Liberation Sans", sans-serif' font-size="11.5" fill="#666666" stroke="#666666" textLength="24.5" lengthAdjust="spacingAndGlyphs">2000</text>
<path d="M432.5,410 V418" stroke="#ccd6eb" stroke-width="1"/>
<text x="433.5" y="427" text-anchor="middle" font-family='"Liberation Sans", sans-serif' font-size="11.5" fill="#666666" stroke="#666666" textLength="24.5" lengthAdjust="spacingAndGlyphs">2005</text>
<path d="M509.5,410 V418" stroke="#ccd6eb" stroke-width="1"/>
<text x="510.5" y="427" text-anchor="middle" font-family='"Liberation Sans", sans-serif' font-size="11.5" fill="#666666" stroke="#666666" textLength="24.5" lengthAdjust="spacingAndGlyphs">2010</text>
<path d="M586.5,410 V418" stroke="#ccd6eb" stroke-width="1"/>
<text x="587.5" y="427" text-anchor="middle" font-family='"Liberation Sans", sans-serif' font-size="11.5" fill="#666666" stroke="#666666" textLength="24.5" lengthAdjust="spacingAndGlyphs">2015</text>
<path d="M663.5,410 V418" stroke="#ccd6eb" stroke-width="1"/>
<text x="664.5" y="427" text-anchor="middle" font-family='"Liberation Sans", sans-serif' font-size="11.5" fill="#666666" stroke="#666666" textLength="24.5" lengthAdjust="spacingAndGlyphs">2020</text>
<text x="709.8" y="175.3" font-family='"Liberation Sans", sans-serif' font-size="11.8" fill="#666666" stroke="#666666" textLength="33.8" lengthAdjust="spacingAndGlyphs">1,500k</text>
<text x="709.8" y="253.3" font-family='"Liberation Sans", sans-serif' font-size="11.8" fill="#666666" stroke="#666666" textLength="33.8" lengthAdjust="spacingAndGlyphs">1,000k</text>
<text x="709.8" y="331.3" font-family='"Liberation Sans", sans-serif' font-size="11.8" fill="#666666" stroke="#666666" textLength="24" lengthAdjust="spacingAndGlyphs">500k</text>
<text x="709.8" y="409.3" font-family='"Liberation Sans", sans-serif' font-size="11.8" fill="#666666" stroke="#666666" textLength="6" lengthAdjust="spacingAndGlyphs">0</text>
<rect x="45.5" y="456" width="648.5" height="39" fill="#d6ddee"/>
<path d="M59.4,456 V495" stroke="#b3bfdf" stroke-width="1" stroke-dasharray="1,2"/>
<text x="63.6" y="490.6" font-family='"Liberation Serif", serif' font-size="12" font-weight="bold" fill="#959aa3" stroke="#959aa3" style="stroke-width:0.1px" textLength="24.5" lengthAdjust="spacingAndGlyphs">1980</text>
<path d="M208.3,456 V495" stroke="#b3bfdf" stroke-width="1" stroke-dasharray="1,2"/>
<text x="212.5" y="490.6" font-family='"Liberation Serif", serif' font-size="12" font-weight="bold" fill="#959aa3" stroke="#959aa3" style="stroke-width:0.1px" textLength="24.5" lengthAdjust="spacingAndGlyphs">1990</text>
<path d="M356.25,456 V495" stroke="#b3bfdf" stroke-width="1" stroke-dasharray="1,2"/>
<text x="360.45" y="490.6" font-family='"Liberation Serif", serif' font-size="12" font-weight="bold" fill="#959aa3" stroke="#959aa3" style="stroke-width:0.1px" textLength="24.5" lengthAdjust="spacingAndGlyphs">2000</text>
<path d="M504.2,456 V495" stroke="#b3bfdf" stroke-width="1" stroke-dasharray="1,2"/>
<text x="508.4" y="490.6" font-family='"Liberation Serif", serif' font-size="12" font-weight="bold" fill="#959aa3" stroke="#959aa3" style="stroke-width:0.1px" textLength="24.5" lengthAdjust="spacingAndGlyphs">2010</text>
<path d="M651.6,456 V495" stroke="#b3bfdf" stroke-width="1" stroke-dasharray="1,2"/>
<text x="655.8" y="490.6" font-family='"Liberation Serif", serif' font-size="12" font-weight="bold" fill="#959aa3" stroke="#959aa3" style="stroke-width:0.1px" textLength="24.5" lengthAdjust="spacingAndGlyphs">2020</text>
<path d="M45.5,474.31 L46.73,474.46 L47.97,475.35 L49.2,475.06 L50.43,475.9 L51.66,476.02 L52.9,475.99 L54.13,476.79 L55.36,476.58 L56.6,477.33 L57.83,477.23 L59.06,477.57 L60.29,478.31 L61.53,479.37 L62.76,479.22 L63.99,479.94 L65.23,480.97 L66.46,481.73 L67.69,481.73 L68.92,481.94 L70.16,482.99 L71.39,482.38 L72.62,483.64 L73.86,483.02 L75.09,482.86 L76.32,482.83 L77.56,483.04 L78.79,483.6 L80.02,482.9 L81.25,483.65 L82.49,484.02 L83.72,484.04 L84.95,484.54 L86.19,484.32 L87.42,484.62 L88.65,485.09 L89.88,485.92 L91.12,485.85 L92.35,485.92 L93.58,486.42 L94.82,486.47 L96.05,486.5 L97.28,487.24 L98.51,487.33 L99.75,487.03 L100.98,487.59 L102.21,487.73 L103.45,487.75 L104.68,487.06 L105.91,486.04 L107.14,486.27 L108.38,484.78 L109.61,484.58 L110.84,484.56 L112.08,483.56 L113.31,483.61 L114.54,482.78 L115.77,483.15 L117.01,482.92 L118.24,482.58 L119.47,482.91 L120.71,482.3 L121.94,482.71 L123.17,482.6 L124.4,482.59 L125.64,481.98 L126.87,481.5 L128.1,480.71 L129.34,479.29 L130.57,478.6 L131.8,477.03 L133.04,477.04 L134.27,476.57 L135.5,476.54 L136.73,475.94 L137.97,474.94 L139.2,474.64 L140.43,474.37 L141.67,472.75 L142.9,472.33 L144.13,471.11 L145.36,470.15 L146.6,469.18 L147.83,469.04 L149.06,467.39 L150.3,466.58 L151.53,465.79 L152.76,465.37 L153.99,463.56 L155.23,463.11 L156.46,462.79 L157.69,462.73 L158.93,462.23 L160.16,461.92 L161.39,461.44 L162.62,461.76 L163.86,461.86 L165.09,462.6 L166.32,462.85 L167.56,462.11 L168.79,461.97 L170.02,461.87 L171.25,461.71 L172.49,461.82 L173.72,461.77 L174.95,461.25 L176.19,460.56 L177.42,460.6 L178.65,460.14 L179.88,459.94 L181.12,459.96 L182.35,459.26 L183.58,459.67 L184.82,460.52 L186.05,461.32 L187.28,461.38 L188.52,463.05 L189.75,463.66 L190.98,464.5 L192.21,465.16 L193.45,465.45 L194.68,466.2 L195.91,466.61 L197.15,467.93 L198.38,468.05 L199.61,468.79 L200.84,469.69 L202.08,470.37 L203.31,471.31 L204.54,471.73 L205.78,472.42 L207.01,473.32 L208.24,473.91 L209.47,474.77 L210.71,474.97 L211.94,476.48 L213.17,476.77 L214.41,476.84 L215.64,477.61 L216.87,478.46 L218.1,479.21 L219.34,479.69 L220.57,481.23 L221.8,482.12 L223.04,482.14 L224.27,482.57 L225.5,482.55 L226.73,482.97 L227.97,483.65 L229.2,483.97 L230.43,484.86 L231.67,484.13 L232.9,483.98 L234.13,485.06 L235.37,485.15 L236.6,485.28 L237.83,486.27 L239.06,486.26 L240.3,487.36 L241.53,488.41 L242.76,488.84 L244,489.21 L245.23,488.95 L246.46,489.28 L247.69,489.28 L248.93,490.16 L250.16,490.11 L251.39,490.6 L252.63,490.32 L253.86,490.42 L255.09,490.96 L256.32,490.99 L257.56,490.69 L258.79,490.49 L260.02,490.35 L261.26,490.11 L262.49,489.39 L263.72,489.55 L264.95,489.27 L266.19,488.82 L267.42,488.72 L268.65,488.91 L269.89,488.79 L271.12,489.18 L272.35,489.38 L273.58,488.72 L274.82,489.15 L276.05,489.08 L277.28,488.92 L278.52,488.15 L279.75,487.87 L280.98,487.75 L282.21,487.59 L283.45,487.48 L284.68,488.01 L285.91,488.53 L287.15,488.68 L288.38,488.49 L289.61,488.9 L290.85,489.28 L292.08,488.71 L293.31,489.56 L294.54,490.09 L295.78,490.25 L297.01,490.53 L298.24,490.54 L299.48,490.34 L300.71,490.85 L301.94,490.2 L303.17,490.56 L304.41,490.59 L305.64,489.81 L306.87,489.66 L308.11,490.1 L309.34,489.8 L310.57,489.4 L311.8,489.56 L313.04,489.79 L314.27,490.82 L315.5,490.92 L316.74,490.35 L317.97,491.01 L319.2,491.1 L320.43,490.66 L321.67,490.24 L322.9,490.38 L324.13,489.81 L325.37,489.37 L326.6,490.12 L327.83,489.46 L329.06,489.01 L330.3,489.15 L331.53,488.29 L332.76,488.47 L334,488.11 L335.23,487.34 L336.46,487.29 L337.69,487.25 L338.93,487.1 L340.16,487.38 L341.39,486.93 L342.63,487.01 L343.86,486.6 L345.09,487.26 L346.33,486.43 L347.56,486.33 L348.79,486.25 L350.02,486.39 L351.26,485.64 L352.49,485.97 L353.72,485.3 L354.96,485.21 L356.19,485.11 L357.42,484.46 L358.65,484.84 L359.89,484.46 L361.12,484.17 L362.35,484.95 L363.59,484.17 L364.82,484.43 L366.05,484.65 L367.28,484.4 L368.52,484.08 L369.75,484.23 L370.98,484.21 L372.22,484.4 L373.45,483.59 L374.68,484.02 L375.91,483.58 L377.15,483.52 L378.38,483.97 L379.61,483.59 L380.85,483.55 L382.08,483.68 L383.31,483.76 L384.54,483.12 L385.78,483.15 L387.01,482.88 L388.24,482.73 L389.48,482.78 L390.71,482.36 L391.94,482.29 L393.17,482.08 L394.41,482.38 L395.64,481.81 L396.87,481.7 L398.11,481.46 L399.34,480.6 L400.57,481.34 L401.81,482.17 L403.04,482.47 L404.27,482.11 L405.5,482.5 L406.74,483.12 L407.97,482.34 L409.2,482.15 L410.44,481.6 L411.67,481.89 L412.9,481.64 L414.13,481.4 L415.37,480.28 L416.6,480.59 L417.83,480.22 L419.07,479.29 L420.3,479.73 L421.53,479.45 L422.76,478.26 L424,478.7 L425.23,477.72 L426.46,477.45 L427.7,477.63 L428.93,476.9 L430.16,475.55 L431.39,475.23 L432.63,474.7 L433.86,473.89 L435.09,473.12 L436.33,472.64 L437.56,472.46 L438.79,471.34 L440.02,471.72 L441.26,471.39 L442.49,470.72 L443.72,470.86 L444.96,470.98 L446.19,470.9 L447.42,470.66 L448.65,471.91 L449.89,471.94 L451.12,472.39 L452.35,471.69 L453.59,472.11 L454.82,472.11 L456.05,473.17 L457.29,472.85 L458.52,472.82 L459.75,473.08 L460.98,473.55 L462.22,473.39 L463.45,472.71 L464.68,472.53 L465.92,473.32 L467.15,472.87 L468.38,473.06 L469.61,472.66 L470.85,472.9 L472.08,473.87 L473.31,473.86 L474.55,473.75 L475.78,474.98 L477.01,474.93 L478.24,475.19 L479.48,473.66 L480.71,473.77 L481.94,472.16 L483.18,472.49 L484.41,472.65 L485.64,473.14 L486.87,474 L488.11,475.04 L489.34,475.14 L490.57,475.81 L491.81,477.07 L493.04,477.57 L494.27,478.25 L495.5,479.13 L496.74,479.62 L497.97,480.41 L499.2,481.14 L500.44,481.75 L501.67,482.87 L502.9,482.97 L504.13,483.53 L505.37,483.49 L506.6,483.98 L507.83,483.93 L509.07,484.49 L510.3,484.54 L511.53,485.64 L512.77,485.75 L514,485.58 L515.23,486.11 L516.46,486.83 L517.7,486.14 L518.93,487.14 L520.16,486.93 L521.4,487.21 L522.63,487.8 L523.86,487.51 L525.09,487.82 L526.33,488.21 L527.56,488.71 L528.79,488.2 L530.03,488.92 L531.26,488.97 L532.49,489.07 L533.72,488.93 L534.96,488.93 L536.19,488.67 L537.42,488.81 L538.66,488.81 L539.89,489.61 L541.12,489.14 L542.35,489.1 L543.59,488.93 L544.82,489.51 L546.05,489.3 L547.29,488.83 L548.52,488.16 L549.75,487.87 L550.98,487.68 L552.22,487.61 L553.45,487.04 L554.68,487.15 L555.92,486.73 L557.15,487.28 L558.38,487.08 L559.62,486.39 L560.85,485.85 L562.08,486.42 L563.31,485.44 L564.55,485.09 L565.78,484.3 L567.01,484.32 L568.25,484.02 L569.48,483.65 L570.71,482.91 L571.94,482.85 L573.18,481.92 L574.41,481.96 L575.64,481.52 L576.88,481.61 L578.11,480.97 L579.34,480.64 L580.57,480.64 L581.81,479.37 L583.04,478.09 L584.27,476.36 L585.51,474.94 L586.74,473.85 L587.97,473.38 L589.2,473.03 L590.44,471.96 L591.67,471.35 L592.9,471.54 L594.14,470.15 L595.37,470.37 L596.6,469.87 L597.83,468.8 L599.07,469.26 L600.3,468.91 L601.53,468.34 L602.77,468.33 L604,468.29 L605.23,467.43 L606.46,467.73 L607.7,467.59 L608.93,467.98 L610.16,468.28 L611.4,468.63 L612.63,468.69 L613.86,469.36 L615.1,469.46 L616.33,469.69 L617.56,469.1 L618.79,468.8 L620.03,468.83 L621.26,469 L622.49,468.63 L623.73,469.43 L624.96,469.43 L626.19,469.81 L627.42,470.12 L628.66,470.41 L629.89,469.87 L631.12,469 L632.36,469.55 L633.59,469.17 L634.82,468.57 L636.05,468.3 L637.29,468.73 L638.52,468.36 L639.75,469.39 L640.99,469.14 L642.22,469.23 L643.45,469.73 L644.68,470.37 L645.92,469.92 L647.15,470.63 L648.38,471.01 L649.62,470.6 L650.85,470.61 L652.08,471.09 L653.31,471.72 L654.55,472.23 L655.78,472.47 L657.01,472.91 L658.25,472.7 L659.48,472.44 L660.71,472.02 L661.94,472.02 L663.18,471.01 L664.41,470.76 L665.64,469.62 L666.88,469.14 L668.11,468.85 L669.34,468.77 L670.58,468.27 L671.81,467.72 L673.04,466.78 L674.27,466.5 L675.51,465.92 L676.74,465.59 L677.97,465 L679.21,465.65 L680.44,464.68 L681.67,465.33 L682.9,465.08 L684.14,463.75 L685.37,463.81 L686.6,463.79 L687.84,463.53 L689.07,462.54 L690.3,461.91 L691.53,461.43 L692.77,461.84 L694,460.68 L694,495 L45.5,495 Z" fill="#335cad" fill-opacity="0.05"/>
<path d="M45.5,474.31 L46.73,474.46 L47.97,475.35 L49.2,475.06 L50.43,475.9 L51.66,476.02 L52.9,475.99 L54.13,476.79 L55.36,476.58 L56.6,477.33 L57.83,477.23 L59.06,477.57 L60.29,478.31 L61.53,479.37 L62.76,479.22 L63.99,479.94 L65.23,480.97 L66.46,481.73 L67.69,481.73 L68.92,481.94 L70.16,482.99 L71.39,482.38 L72.62,483.64 L73.86,483.02 L75.09,482.86 L76.32,482.83 L77.56,483.04 L78.79,483.6 L80.02,482.9 L81.25,483.65 L82.49,484.02 L83.72,484.04 L84.95,484.54 L86.19,484.32 L87.42,484.62 L88.65,485.09 L89.88,485.92 L91.12,485.85 L92.35,485.92 L93.58,486.42 L94.82,486.47 L96.05,486.5 L97.28,487.24 L98.51,487.33 L99.75,487.03 L100.98,487.59 L102.21,487.73 L103.45,487.75 L104.68,487.06 L105.91,486.04 L107.14,486.27 L108.38,484.78 L109.61,484.58 L110.84,484.56 L112.08,483.56 L113.31,483.61 L114.54,482.78 L115.77,483.15 L117.01,482.92 L118.24,482.58 L119.47,482.91 L120.71,482.3 L121.94,482.71 L123.17,482.6 L124.4,482.59 L125.64,481.98 L126.87,481.5 L128.1,480.71 L129.34,479.29 L130.57,478.6 L131.8,477.03 L133.04,477.04 L134.27,476.57 L135.5,476.54 L136.73,475.94 L137.97,474.94 L139.2,474.64 L140.43,474.37 L141.67,472.75 L142.9,472.33 L144.13,471.11 L145.36,470.15 L146.6,469.18 L147.83,469.04 L149.06,467.39 L150.3,466.58 L151.53,465.79 L152.76,465.37 L153.99,463.56 L155.23,463.11 L156.46,462.79 L157.69,462.73 L158.93,462.23 L160.16,461.92 L161.39,461.44 L162.62,461.76 L163.86,461.86 L165.09,462.6 L166.32,462.85 L167.56,462.11 L168.79,461.97 L170.02,461.87 L171.25,461.71 L172.49,461.82 L173.72,461.77 L174.95,461.25 L176.19,460.56 L177.42,460.6 L178.65,460.14 L179.88,459.94 L181.12,459.96 L182.35,459.26 L183.58,459.67 L184.82,460.52 L186.05,461.32 L187.28,461.38 L188.52,463.05 L189.75,463.66 L190.98,464.5 L192.21,465.16 L193.45,465.45 L194.68,466.2 L195.91,466.61 L197.15,467.93 L198.38,468.05 L199.61,468.79 L200.84,469.69 L202.08,470.37 L203.31,471.31 L204.54,471.73 L205.78,472.42 L207.01,473.32 L208.24,473.91 L209.47,474.77 L210.71,474.97 L211.94,476.48 L213.17,476.77 L214.41,476.84 L215.64,477.61 L216.87,478.46 L218.1,479.21 L219.34,479.69 L220.57,481.23 L221.8,482.12 L223.04,482.14 L224.27,482.57 L225.5,482.55 L226.73,482.97 L227.97,483.65 L229.2,483.97 L230.43,484.86 L231.67,484.13 L232.9,483.98 L234.13,485.06 L235.37,485.15 L236.6,485.28 L237.83,486.27 L239.06,486.26 L240.3,487.36 L241.53,488.41 L242.76,488.84 L244,489.21 L245.23,488.95 L246.46,489.28 L247.69,489.28 L248.93,490.16 L250.16,490.11 L251.39,490.6 L252.63,490.32 L253.86,490.42 L255.09,490.96 L256.32,490.99 L257.56,490.69 L258.79,490.49 L260.02,490.35 L261.26,490.11 L262.49,489.39 L263.72,489.55 L264.95,489.27 L266.19,488.82 L267.42,488.72 L268.65,488.91 L269.89,488.79 L271.12,489.18 L272.35,489.38 L273.58,488.72 L274.82,489.15 L276.05,489.08 L277.28,488.92 L278.52,488.15 L279.75,487.87 L280.98,487.75 L282.21,487.59 L283.45,487.48 L284.68,488.01 L285.91,488.53 L287.15,488.68 L288.38,488.49 L289.61,488.9 L290.85,489.28 L292.08,488.71 L293.31,489.56 L294.54,490.09 L295.78,490.25 L297.01,490.53 L298.24,490.54 L299.48,490.34 L300.71,490.85 L301.94,490.2 L303.17,490.56 L304.41,490.59 L305.64,489.81 L306.87,489.66 L308.11,490.1 L309.34,489.8 L310.57,489.4 L311.8,489.56 L313.04,489.79 L314.27,490.82 L315.5,490.92 L316.74,490.35 L317.97,491.01 L319.2,491.1 L320.43,490.66 L321.67,490.24 L322.9,490.38 L324.13,489.81 L325.37,489.37 L326.6,490.12 L327.83,489.46 L329.06,489.01 L330.3,489.15 L331.53,488.29 L332.76,488.47 L334,488.11 L335.23,487.34 L336.46,487.29 L337.69,487.25 L338.93,487.1 L340.16,487.38 L341.39,486.93 L342.63,487.01 L343.86,486.6 L345.09,487.26 L346.33,486.43 L347.56,486.33 L348.79,486.25 L350.02,486.39 L351.26,485.64 L352.49,485.97 L353.72,485.3 L354.96,485.21 L356.19,485.11 L357.42,484.46 L358.65,484.84 L359.89,484.46 L361.12,484.17 L362.35,484.95 L363.59,484.17 L364.82,484.43 L366.05,484.65 L367.28,484.4 L368.52,484.08 L369.75,484.23 L370.98,484.21 L372.22,484.4 L373.45,483.59 L374.68,484.02 L375.91,483.58 L377.15,483.52 L378.38,483.97 L379.61,483.59 L380.85,483.55 L382.08,483.68 L383.31,483.76 L384.54,483.12 L385.78,483.15 L387.01,482.88 L388.24,482.73 L389.48,482.78 L390.71,482.36 L391.94,482.29 L393.17,482.08 L394.41,482.38 L395.64,481.81 L396.87,481.7 L398.11,481.46 L399.34,480.6 L400.57,481.34 L401.81,482.17 L403.04,482.47 L404.27,482.11 L405.5,482.5 L406.74,483.12 L407.97,482.34 L409.2,482.15 L410.44,481.6 L411.67,481.89 L412.9,481.64 L414.13,481.4 L415.37,480.28 L416.6,480.59 L417.83,480.22 L419.07,479.29 L420.3,479.73 L421.53,479.45 L422.76,478.26 L424,478.7 L425.23,477.72 L426.46,477.45 L427.7,477.63 L428.93,476.9 L430.16,475.55 L431.39,475.23 L432.63,474.7 L433.86,473.89 L435.09,473.12 L436.33,472.64 L437.56,472.46 L438.79,471.34 L440.02,471.72 L441.26,471.39 L442.49,470.72 L443.72,470.86 L444.96,470.98 L446.19,470.9 L447.42,470.66 L448.65,471.91 L449.89,471.94 L451.12,472.39 L452.35,471.69 L453.59,472.11 L454.82,472.11 L456.05,473.17 L457.29,472.85 L458.52,472.82 L459.75,473.08 L460.98,473.55 L462.22,473.39 L463.45,472.71 L464.68,472.53 L465.92,473.32 L467.15,472.87 L468.38,473.06 L469.61,472.66 L470.85,472.9 L472.08,473.87 L473.31,473.86 L474.55,473.75 L475.78,474.98 L477.01,474.93 L478.24,475.19 L479.48,473.66 L480.71,473.77 L481.94,472.16 L483.18,472.49 L484.41,472.65 L485.64,473.14 L486.87,474 L488.11,475.04 L489.34,475.14 L490.57,475.81 L491.81,477.07 L493.04,477.57 L494.27,478.25 L495.5,479.13 L496.74,479.62 L497.97,480.41 L499.2,481.14 L500.44,481.75 L501.67,482.87 L502.9,482.97 L504.13,483.53 L505.37,483.49 L506.6,483.98 L507.83,483.93 L509.07,484.49 L510.3,484.54 L511.53,485.64 L512.77,485.75 L514,485.58 L515.23,486.11 L516.46,486.83 L517.7,486.14 L518.93,487.14 L520.16,486.93 L521.4,487.21 L522.63,487.8 L523.86,487.51 L525.09,487.82 L526.33,488.21 L527.56,488.71 L528.79,488.2 L530.03,488.92 L531.26,488.97 L532.49,489.07 L533.72,488.93 L534.96,488.93 L536.19,488.67 L537.42,488.81 L538.66,488.81 L539.89,489.61 L541.12,489.14 L542.35,489.1 L543.59,488.93 L544.82,489.51 L546.05,489.3 L547.29,488.83 L548.52,488.16 L549.75,487.87 L550.98,487.68 L552.22,487.61 L553.45,487.04 L554.68,487.15 L555.92,486.73 L557.15,487.28 L558.38,487.08 L559.62,486.39 L560.85,485.85 L562.08,486.42 L563.31,485.44 L564.55,485.09 L565.78,484.3 L567.01,484.32 L568.25,484.02 L569.48,483.65 L570.71,482.91 L571.94,482.85 L573.18,481.92 L574.41,481.96 L575.64,481.52 L576.88,481.61 L578.11,480.97 L579.34,480.64 L580.57,480.64 L581.81,479.37 L583.04,478.09 L584.27,476.36 L585.51,474.94 L586.74,473.85 L587.97,473.38 L589.2,473.03 L590.44,471.96 L591.67,471.35 L592.9,471.54 L594.14,470.15 L595.37,470.37 L596.6,469.87 L597.83,468.8 L599.07,469.26 L600.3,468.91 L601.53,468.34 L602.77,468.33 L604,468.29 L605.23,467.43 L606.46,467.73 L607.7,467.59 L608.93,467.98 L610.16,468.28 L611.4,468.63 L612.63,468.69 L613.86,469.36 L615.1,469.46 L616.33,469.69 L617.56,469.1 L618.79,468.8 L620.03,468.83 L621.26,469 L622.49,468.63 L623.73,469.43 L624.96,469.43 L626.19,469.81 L627.42,470.12 L628.66,470.41 L629.89,469.87 L631.12,469 L632.36,469.55 L633.59,469.17 L634.82,468.57 L636.05,468.3 L637.29,468.73 L638.52,468.36 L639.75,469.39 L640.99,469.14 L642.22,469.23 L643.45,469.73 L644.68,470.37 L645.92,469.92 L647.15,470.63 L648.38,471.01 L649.62,470.6 L650.85,470.61 L652.08,471.09 L653.31,471.72 L654.55,472.23 L655.78,472.47 L657.01,472.91 L658.25,472.7 L659.48,472.44 L660.71,472.02 L661.94,472.02 L663.18,471.01 L664.41,470.76 L665.64,469.62 L666.88,469.14 L668.11,468.85 L669.34,468.77 L670.58,468.27 L671.81,467.72 L673.04,466.78 L674.27,466.5 L675.51,465.92 L676.74,465.59 L677.97,465 L679.21,465.65 L680.44,464.68 L681.67,465.33 L682.9,465.08 L684.14,463.75 L685.37,463.81 L686.6,463.79 L687.84,463.53 L689.07,462.54 L690.3,461.91 L691.53,461.43 L692.77,461.84 L694,460.68" fill="none" stroke="#6682c6" stroke-width="1.3"/>
<path d="M32,455.6 H708" stroke="#cccccc" stroke-width="1"/>
<path d="M45.5,456 V495 M694,456 V495" stroke="#cfcfcf" stroke-width="1"/>
<rect x="41.8" y="467.8" width="7.5" height="14.5" rx="1" fill="#f2f2f2" stroke="#bbbbbb" stroke-width="1"/>
<path d="M44.3,470.5 V480 M46.8,470.5 V480" stroke="#b3b3b3" stroke-width="1"/>
<rect x="690.5" y="467.8" width="7.5" height="14.5" rx="1" fill="#f2f2f2" stroke="#bbbbbb" stroke-width="1"/>
<path d="M693,470.5 V480 M695.5,470.5 V480" stroke="#b3b3b3" stroke-width="1"/>
<rect x="32" y="495" width="676" height="14" fill="#f2f2f2"/>
<rect x="45.5" y="495" width="648.5" height="14" fill="#c8c8c8"/>
<rect x="32.5" y="495.5" width="13" height="13" fill="#f0f0f0" stroke="#dddddd" stroke-width="1"/>
<rect x="694.5" y="495.5" width="13" height="13" fill="#f0f0f0" stroke="#dddddd" stroke-width="1"/>
<path d="M36.8,502 L40.3,499 L40.3,505 Z" fill="#333333"/>
<path d="M703.2,502 L699.7,499 L699.7,505 Z" fill="#333333"/>
<path d="M366.6,498.5 V504.7 M369.9,498.5 V504.7 M373.2,498.5 V504.7" stroke="#555555" stroke-width="1"/>
<circle cx="238.75" cy="531.5" r="5.5" fill="#f2dc70"/>
<text x="252" y="536" font-family='"Liberation Sans", sans-serif' font-size="12" font-weight="bold" fill="#333333" stroke="#333333" textLength="58.8" lengthAdjust="spacingAndGlyphs">Northeast</text>
<circle cx="338.75" cy="531.5" r="5.5" fill="#b5cf6a"/>
<text x="352" y="536" font-family='"Liberation Sans", sans-serif' font-size="12" font-weight="bold" fill="#333333" stroke="#333333" textLength="48" lengthAdjust="spacingAndGlyphs">Midwest</text>
<circle cx="429.8" cy="531.5" r="5.5" fill="#e5ae4c"/>
<text x="442.3" y="536" font-family='"Liberation Sans", sans-serif' font-size="12" font-weight="bold" fill="#333333" stroke="#333333" textLength="34" lengthAdjust="spacingAndGlyphs">South</text>
<circle cx="504" cy="531.5" r="5.5" fill="#df7e5f"/>
<text x="516.7" y="536" font-family='"Liberation Sans", sans-serif' font-size="12" font-weight="bold" fill="#333333" stroke="#333333" textLength="29.5" lengthAdjust="spacingAndGlyphs">West</text>
</svg>
</body></html>
